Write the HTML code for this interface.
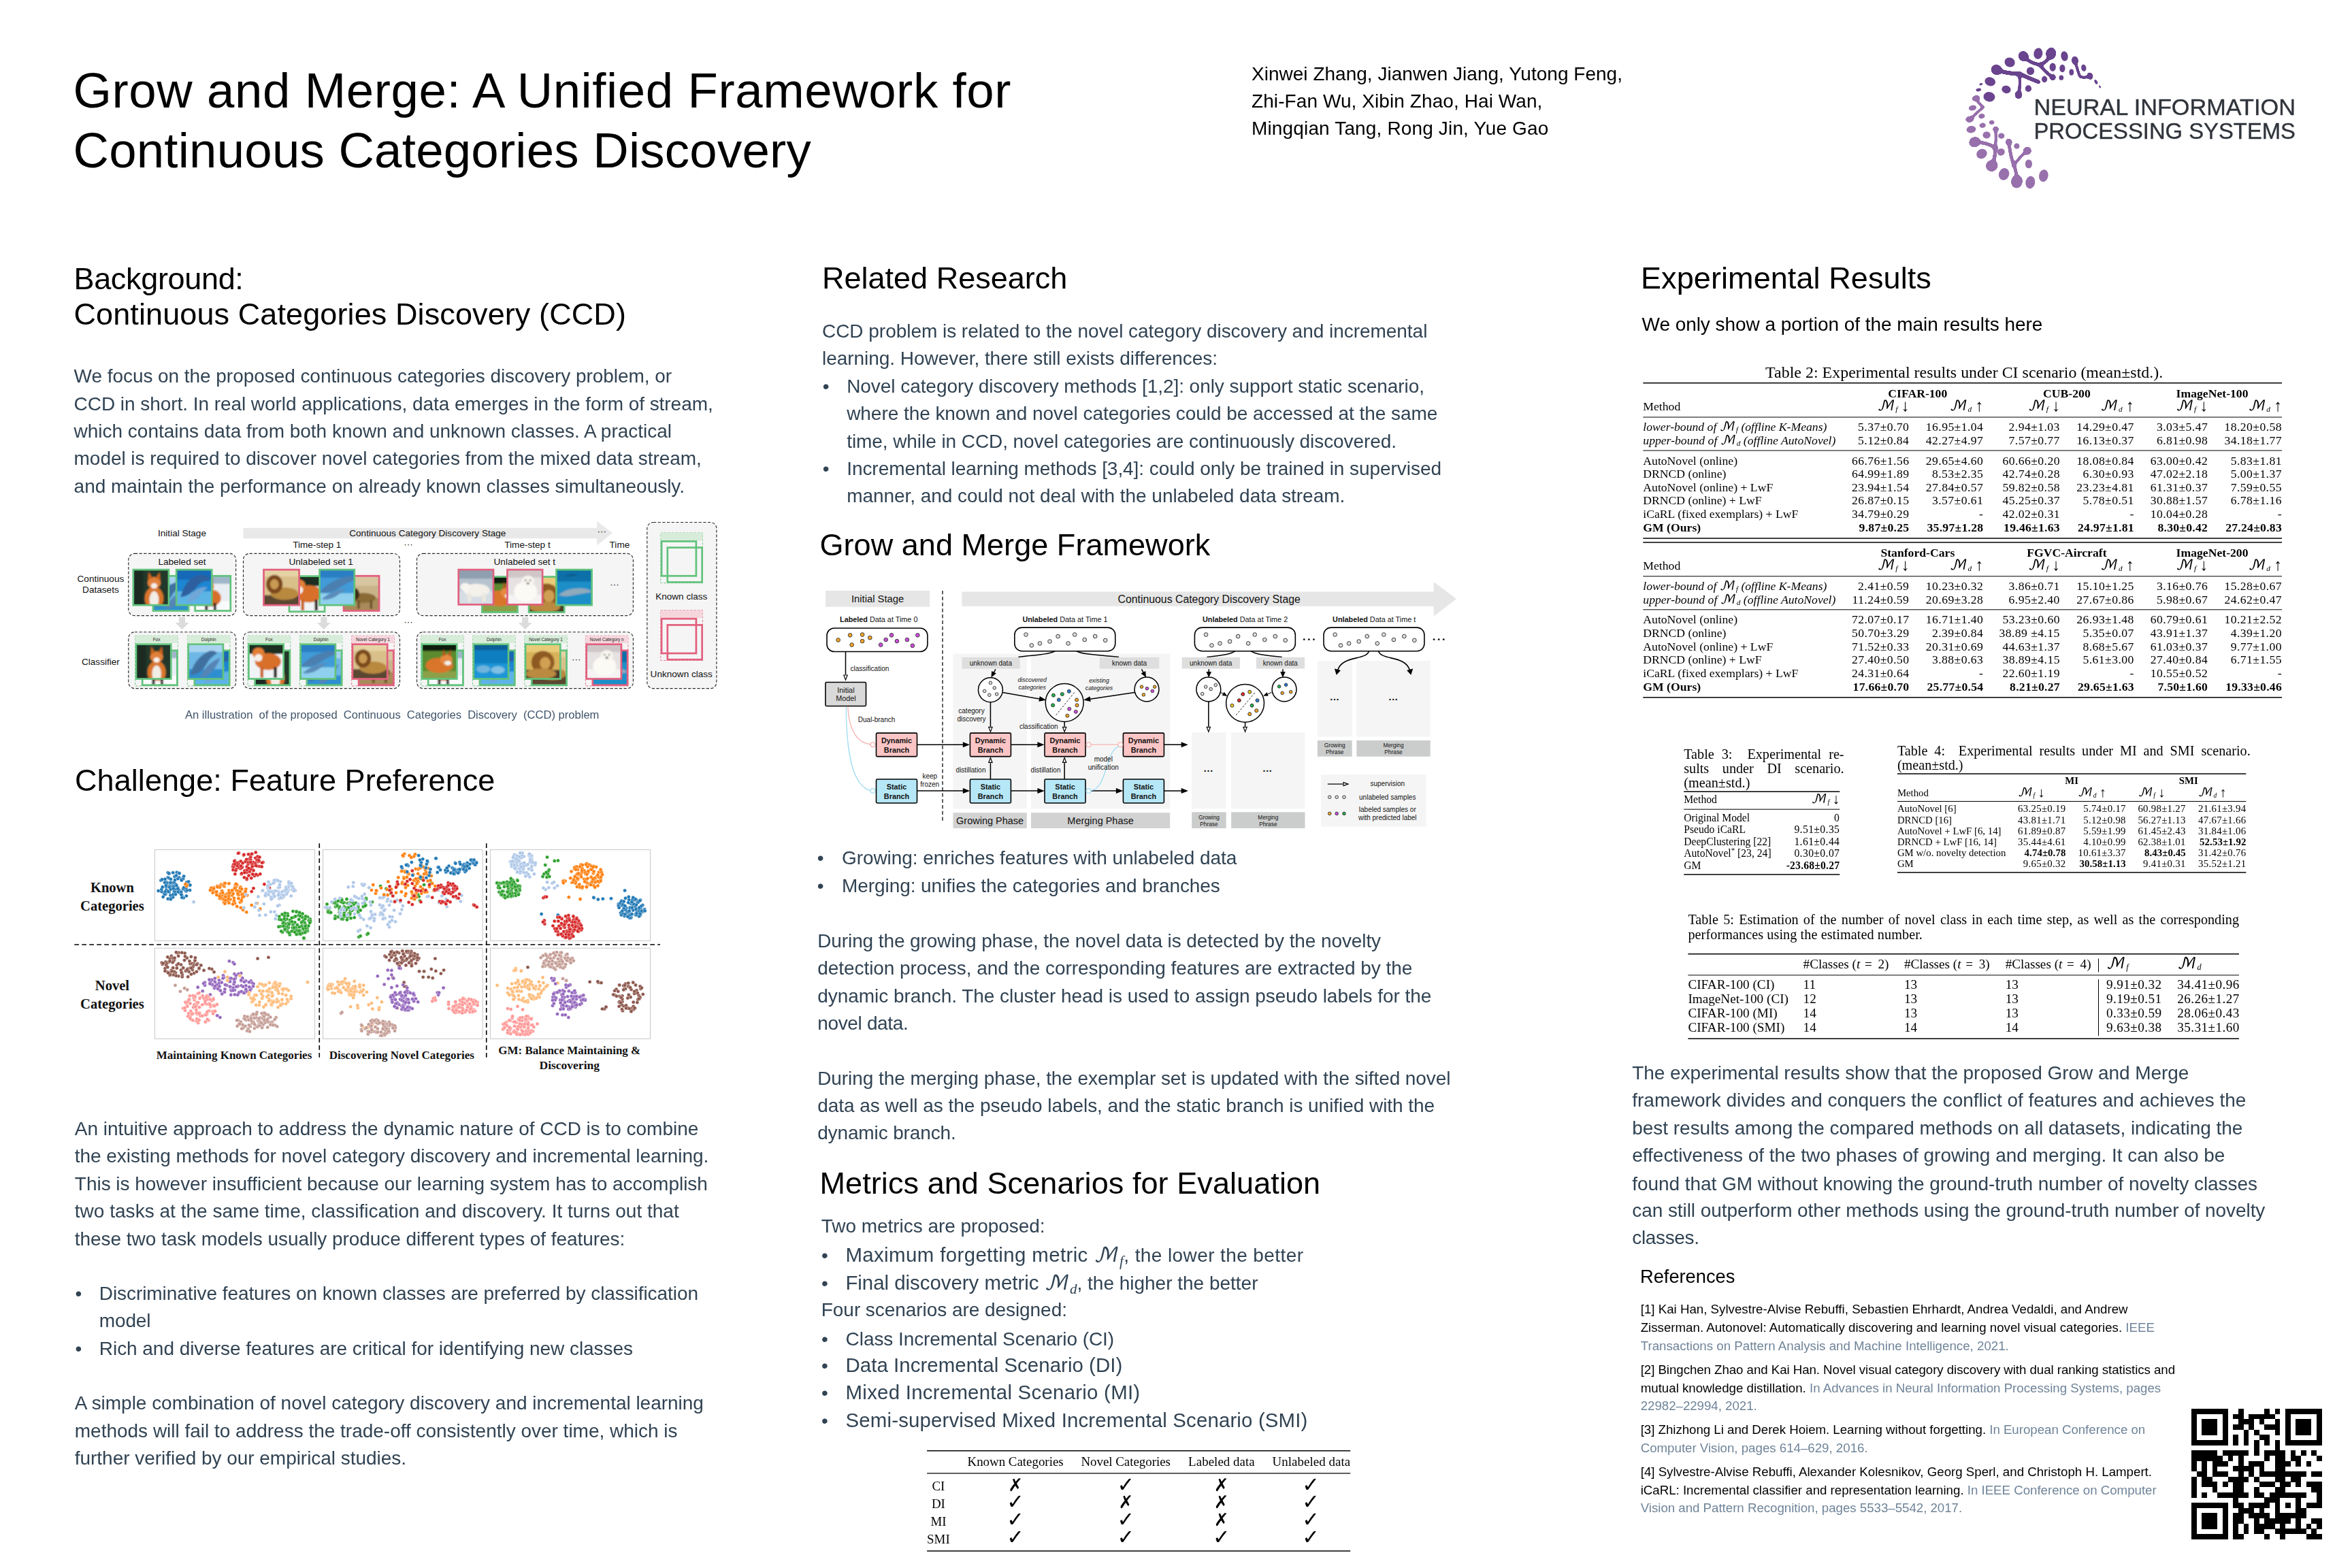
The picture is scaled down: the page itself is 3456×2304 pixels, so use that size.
<!DOCTYPE html>
<html lang="en"><head><meta charset="utf-8"><title>Grow and Merge: A Unified Framework for Continuous Categories Discovery</title>
<style>
html,body{margin:0;padding:0;background:#fff;width:3456px;height:2304px;overflow:hidden}
#pg{position:relative;width:3456px;height:2304px;overflow:hidden;background:#fff}
.t{position:absolute;white-space:pre;margin:0}
.mm{font-family:'DejaVu Math TeX Gyre','DejaVu Sans',serif;font-size:1.0em;line-height:0}
.ms{font-family:'Liberation Serif',serif;font-style:italic;font-size:.72em;line-height:0;vertical-align:-.28em}
.cm{font-family:'DejaVu Math TeX Gyre','DejaVu Sans',serif;font-size:1.16em;line-height:0;letter-spacing:.04em}
.cs{font-family:'Liberation Serif',serif;font-style:italic;font-size:.64em;line-height:0;vertical-align:-.2em}
.ar{line-height:0;font-size:1.38em;vertical-align:-.04em}
.r{position:absolute;background:#000}
sub,sup{line-height:0}
.c0{font-family:'Liberation Sans', sans-serif;font-size:72.6px;line-height:81px;color:#000}
.c1{font-family:'Liberation Sans', sans-serif;font-size:28px;line-height:31px;color:#000}
.c2{font-family:'Liberation Sans', sans-serif;font-size:45px;line-height:51px;color:#000}
.c3{font-family:'Liberation Sans', sans-serif;font-size:28px;line-height:31px;color:#314353}
.c4{font-family:'Liberation Sans', sans-serif;font-size:16.6px;line-height:19px;color:#40546a}
.c5{font-family:'Liberation Sans', sans-serif;font-size:29.4px;line-height:33px;color:#314353}
.c6{font-family:'Liberation Sans', sans-serif;font-size:27.3px;line-height:31px;color:#000}
.c7{font-family:'Liberation Sans', sans-serif;font-size:18.7px;line-height:21px;color:#000}
.c8{font-family:'Liberation Serif', serif;font-size:23.9px;line-height:26px;color:#000}
.c9{font-family:'Liberation Serif', serif;font-size:17.66px;line-height:20px;color:#000;font-weight:700}
.c10{font-family:'Liberation Serif', serif;font-size:17.66px;line-height:20px;color:#000}
.c11{font-family:'Liberation Serif', serif;font-size:17.66px;line-height:20px;color:#000;font-style:italic}
.c12{font-family:'Liberation Serif', serif;font-size:20.2px;line-height:22px;color:#000}
.c13{font-family:'Liberation Serif', serif;font-size:15.65px;line-height:17px;color:#000}
.c14{font-family:'Liberation Serif', serif;font-size:15.65px;line-height:17px;color:#000;font-weight:700}
.c15{font-family:'Liberation Serif', serif;font-size:14.8px;line-height:16px;color:#000;font-weight:700}
.c16{font-family:'Liberation Serif', serif;font-size:14.8px;line-height:16px;color:#000}
.c17{font-family:'Liberation Serif', serif;font-size:19.2px;line-height:21px;color:#000}
.c18{font-family:'Liberation Serif', serif;font-size:18.9px;line-height:21px;color:#000}
.c19{font-family:'DejaVu Sans', sans-serif;font-size:26px;line-height:30px;color:#000}
.c20{font-family:'DejaVu Sans', sans-serif;font-size:30.5px;line-height:35px;color:#000}
</style></head>
<body><div id="pg">
<svg style="position:absolute;left:2850px;top:40px" width="606" height="280" viewBox="0 0 2352 1087"><defs><filter id="goo" x="-5%" y="-5%" width="110%" height="110%" color-interpolation-filters="sRGB"><feGaussianBlur in="SourceGraphic" stdDeviation="7" result="b"/><feColorMatrix in="b" mode="matrix" values="1 0 0 0 0  0 1 0 0 0  0 0 1 0 0  0 0 0 14 -5"/></filter></defs><g fill="#6a448e"><ellipse cx="562" cy="150" rx="25" ry="32" transform="rotate(10 562 150)"/><ellipse cx="712" cy="165" rx="20" ry="28" transform="rotate(-10 712 165)"/><ellipse cx="400" cy="200" rx="30" ry="27" transform="rotate(20 400 200)"/><ellipse cx="288" cy="310" rx="31" ry="25" transform="rotate(15 288 310)"/><ellipse cx="283" cy="397" rx="33" ry="28" transform="rotate(10 283 397)"/><ellipse cx="380" cy="355" rx="26" ry="22" transform="rotate(15 380 355)"/><ellipse cx="518" cy="250" rx="22" ry="23" transform="rotate(0 518 250)"/><ellipse cx="506" cy="350" rx="18" ry="19" transform="rotate(0 506 350)"/><ellipse cx="598" cy="297" rx="16" ry="18" transform="rotate(0 598 297)"/><ellipse cx="645" cy="228" rx="18" ry="24" transform="rotate(0 645 228)"/><ellipse cx="700" cy="235" rx="16" ry="22" transform="rotate(0 700 235)"/><ellipse cx="694" cy="288" rx="13" ry="14" transform="rotate(0 694 288)"/><ellipse cx="752" cy="257" rx="13" ry="18" transform="rotate(0 752 257)"/><ellipse cx="822" cy="232" rx="14" ry="20" transform="rotate(-10 822 232)"/><ellipse cx="892" cy="312" rx="8" ry="14" transform="rotate(-25 892 312)"/><ellipse cx="914" cy="340" rx="5" ry="8" transform="rotate(-25 914 340)"/><ellipse cx="236" cy="325" rx="10" ry="6" transform="rotate(-15 236 325)"/><ellipse cx="222" cy="357" rx="15" ry="9" transform="rotate(-10 222 357)"/></g><g fill="#9870ac"><ellipse cx="188" cy="460" rx="22" ry="15" transform="rotate(-10 188 460)"/><ellipse cx="240" cy="507" rx="18" ry="14" transform="rotate(-10 240 507)"/><ellipse cx="297" cy="543" rx="15" ry="12" transform="rotate(-10 297 543)"/><ellipse cx="245" cy="560" rx="18" ry="14" transform="rotate(-10 245 560)"/><ellipse cx="180" cy="583" rx="27" ry="20" transform="rotate(-10 180 583)"/><ellipse cx="268" cy="615" rx="22" ry="20" transform="rotate(0 268 615)"/><ellipse cx="352" cy="620" rx="18" ry="16" transform="rotate(0 352 620)"/><ellipse cx="440" cy="678" rx="16" ry="16" transform="rotate(0 440 678)"/><ellipse cx="350" cy="712" rx="22" ry="20" transform="rotate(-20 350 712)"/><ellipse cx="240" cy="722" rx="31" ry="27" transform="rotate(-30 240 722)"/><ellipse cx="508" cy="780" rx="20" ry="25" transform="rotate(0 508 780)"/><ellipse cx="367" cy="838" rx="29" ry="35" transform="rotate(20 367 838)"/><ellipse cx="517" cy="885" rx="27" ry="36" transform="rotate(10 517 885)"/><ellipse cx="593" cy="847" rx="26" ry="35" transform="rotate(10 593 847)"/></g><g filter="url(#goo)"><g fill="#6a448e"><ellipse cx="635" cy="150" rx="28.000000000000004" ry="33.6" transform="rotate(10 635 150)"/><ellipse cx="478" cy="165" rx="29.120000000000005" ry="26.880000000000003" transform="rotate(30 478 165)"/><ellipse cx="325" cy="243" rx="31.360000000000003" ry="28.000000000000004" transform="rotate(20 325 243)"/><ellipse cx="772" cy="190" rx="17.92" ry="23.520000000000003" transform="rotate(-10 772 190)"/><ellipse cx="858" cy="278" rx="15.680000000000001" ry="20.160000000000004" transform="rotate(-20 858 278)"/><ellipse cx="450" cy="385" rx="20.160000000000004" ry="22.400000000000002" transform="rotate(0 450 385)"/><ellipse cx="645" cy="285" rx="16.8" ry="16.8" transform="rotate(0 645 285)"/></g><g fill="none" stroke="#6a448e" stroke-linecap="round" stroke-linejoin="round"><path d="M478 165 Q515 205 572 214 Q618 200 635 150" stroke-width="17"/><path d="M572 214 Q600 255 645 285" stroke-width="15"/><circle cx="575" cy="215" r="14" fill="#6a448e" stroke="none"/><path d="M325 243 Q395 268 452 264 Q505 290 565 312" stroke-width="20"/><path d="M455 270 Q462 330 450 385" stroke-width="14"/><circle cx="453" cy="268" r="16" fill="#6a448e" stroke="none"/><path d="M772 190 Q788 250 800 282 Q830 292 858 278" stroke-width="13"/></g></g><g filter="url(#goo)"><g fill="#9870ac"><ellipse cx="208" cy="405" rx="22.400000000000002" ry="15.680000000000001" transform="rotate(-10 208 405)"/><ellipse cx="172" cy="525" rx="23.520000000000003" ry="16.8" transform="rotate(-10 172 525)"/><ellipse cx="320" cy="582" rx="15.680000000000001" ry="15.680000000000001" transform="rotate(0 320 582)"/><ellipse cx="200" cy="655" rx="31.360000000000003" ry="28.000000000000004" transform="rotate(-20 200 655)"/><ellipse cx="395" cy="655" rx="17.92" ry="19.040000000000003" transform="rotate(0 395 655)"/><ellipse cx="500" cy="705" rx="22.400000000000002" ry="22.400000000000002" transform="rotate(0 500 705)"/><ellipse cx="298" cy="790" rx="33.6" ry="31.360000000000003" transform="rotate(-30 298 790)"/><ellipse cx="440" cy="880" rx="31.360000000000003" ry="36.96" transform="rotate(10 440 880)"/></g><g fill="none" stroke="#9870ac" stroke-linecap="round" stroke-linejoin="round"><path d="M208 405 Q222 438 250 455 Q222 478 172 525" stroke-width="13"/><path d="M200 655 Q270 655 318 688 Q318 745 298 790" stroke-width="18"/><path d="M320 582 Q322 640 318 690" stroke-width="13"/><circle cx="318" cy="690" r="15" fill="#9870ac" stroke="none"/><path d="M395 655 Q403 740 425 790 Q440 830 440 880" stroke-width="16"/><path d="M500 705 Q460 735 425 785" stroke-width="14"/><circle cx="424" cy="786" r="13" fill="#9870ac" stroke="none"/></g></g><g font-family="'Liberation Sans', sans-serif" font-size="128" fill="#30343b" stroke="#30343b" stroke-width="1.5"><text x="537" y="500" textLength="1493" lengthAdjust="spacingAndGlyphs">NEURAL INFORMATION</text><text x="537" y="638" textLength="1493" lengthAdjust="spacingAndGlyphs">PROCESSING SYSTEMS</text></g></svg>
<svg style="position:absolute;left:100px;top:760px" width="980" height="320" viewBox="0 0 2352 768" font-family="'Liberation Sans', sans-serif" fill="#111"><defs><filter id="pb" x="-10" y="-10" width="120" height="120" filterUnits="userSpaceOnUse"><feGaussianBlur stdDeviation="2.2"/></filter></defs><path d="M618 38 H1865 V14 L1920 56 L1865 99 V75 H618Z" fill="#e9e9e9"/><text x="402" y="67" font-size="32.6" text-anchor="middle">Initial Stage</text><text x="1268" y="67" font-size="32.6" text-anchor="middle">Continuous Category Discovery Stage</text><text x="1882" y="60" font-size="32.6" text-anchor="middle">···</text><text x="878" y="108" font-size="32.6" text-anchor="middle">Time-step 1</text><text x="1200" y="106" font-size="32.6" text-anchor="middle">···</text><text x="1620" y="108" font-size="32.6" text-anchor="middle">Time-step t</text><text x="1945" y="109" font-size="32.6" text-anchor="middle">Time</text><rect x="213" y="128" width="379" height="219" rx="22" fill="#f5f5f5" stroke="#2a2a2a" stroke-width="2.7" stroke-dasharray="10 6"/><rect x="618" y="128" width="552" height="219" rx="22" fill="#f5f5f5" stroke="#2a2a2a" stroke-width="2.7" stroke-dasharray="10 6"/><rect x="1230" y="128" width="763" height="219" rx="22" fill="#f5f5f5" stroke="#2a2a2a" stroke-width="2.7" stroke-dasharray="10 6"/><rect x="213" y="405" width="379" height="199" rx="22" fill="#f5f5f5" stroke="#2a2a2a" stroke-width="2.7" stroke-dasharray="10 6"/><rect x="618" y="405" width="552" height="199" rx="22" fill="#f5f5f5" stroke="#2a2a2a" stroke-width="2.7" stroke-dasharray="10 6"/><rect x="1230" y="405" width="763" height="199" rx="22" fill="#f5f5f5" stroke="#2a2a2a" stroke-width="2.7" stroke-dasharray="10 6"/><rect x="2042" y="18" width="245" height="586" rx="22" fill="#f5f5f5" stroke="#2a2a2a" stroke-width="2.7" stroke-dasharray="10 6"/><text x="402" y="168" font-size="32.6" text-anchor="middle">Labeled set</text><text x="892" y="168" font-size="32.6" text-anchor="middle">Unlabeled set 1</text><text x="1610" y="168" font-size="32.6" text-anchor="middle">Unlabeled set t</text><text x="115" y="228" font-size="32.6" text-anchor="middle">Continuous</text><text x="115" y="267" font-size="32.6" text-anchor="middle">Datasets</text><text x="115" y="520" font-size="32.6" text-anchor="middle">Classifier</text><svg x="300" y="207" width="125" height="123" viewBox="0 0 100 100" preserveAspectRatio="none"><g filter="url(#pb)"><g transform="translate(50 50) scale(1.1) translate(-50 -50)"><rect width="100" height="100" fill="#6db7e6"/><rect y="70" width="100" height="30" fill="#2f8fd0"/><rect width="100" height="25" fill="#a9d4f0"/><path d="M10 85 Q20 40 60 22 Q75 20 80 28 Q60 40 50 60 Q35 85 10 85Z" fill="#3f6fa0"/><path d="M35 92 Q50 55 88 40 Q80 60 70 72 Q55 92 35 92Z" fill="#5585b5"/></g></g></svg><rect x="300" y="207" width="125" height="123" fill="none" stroke="#62c27c" stroke-width="6.5"/><svg x="448" y="207" width="125" height="123" viewBox="0 0 100 100" preserveAspectRatio="none"><g filter="url(#pb)"><g transform="translate(50 50) scale(1.1) translate(-50 -50)"><rect width="100" height="100" fill="#e9eef4"/><rect y="70" width="100" height="30" fill="#f8fafc"/><rect width="100" height="25" fill="#9fb6c9"/><ellipse cx="45" cy="62" rx="26" ry="22" fill="#d8702a"/><ellipse cx="38" cy="32" rx="15" ry="14" fill="#e27f35"/><path d="M26 24 L28 6 L38 20Z M50 24 L50 6 L40 20Z" fill="#b8551a"/><ellipse cx="38" cy="40" rx="8" ry="6" fill="#f5f0ea"/><rect x="30" y="75" width="7" height="22" fill="#2a211c"/><rect x="52" y="75" width="7" height="22" fill="#2a211c"/></g></g></svg><rect x="448" y="207" width="125" height="123" fill="none" stroke="#62c27c" stroke-width="6.5"/><svg x="230" y="185" width="125" height="125" viewBox="0 0 100 100" preserveAspectRatio="none"><g filter="url(#pb)"><g transform="translate(50 50) scale(1.1) translate(-50 -50)"><rect width="100" height="100" fill="#22382a"/><rect x="0" y="0" width="30" height="100" fill="#1a2b20"/><ellipse cx="58" cy="78" rx="24" ry="30" fill="#d9762c"/><ellipse cx="58" cy="82" rx="12" ry="22" fill="#f2ede6"/><ellipse cx="58" cy="38" rx="17" ry="15" fill="#e0813a"/><path d="M42 32 L44 10 L54 26Z M74 32 L72 10 L62 26Z" fill="#c8641f"/><ellipse cx="58" cy="46" rx="8" ry="7" fill="#f6f1ea"/></g></g></svg><rect x="230" y="185" width="125" height="125" fill="none" stroke="#62c27c" stroke-width="6.5"/><svg x="382" y="185" width="125" height="125" viewBox="0 0 100 100" preserveAspectRatio="none"><g filter="url(#pb)"><g transform="translate(50 50) scale(1.1) translate(-50 -50)"><rect width="100" height="100" fill="#1f86d2"/><rect y="60" width="100" height="40" fill="#5cb4e6"/><rect width="100" height="30" fill="#1669b8"/><path d="M15 75 Q30 20 70 18 Q88 20 92 34 Q70 30 55 50 Q40 72 15 75Z" fill="#2d5f9e"/><path d="M30 88 Q50 45 85 50 Q70 60 60 75 Q48 90 30 88Z" fill="#6fa6d8"/></g></g></svg><rect x="382" y="185" width="125" height="125" fill="none" stroke="#62c27c" stroke-width="6.5"/><svg x="780" y="208" width="125" height="125" viewBox="0 0 100 100" preserveAspectRatio="none"><g filter="url(#pb)"><g transform="translate(50 50) scale(1.1) translate(-50 -50)"><rect width="100" height="100" fill="#f1f4f7"/><rect width="100" height="30" fill="#1f2e23"/><ellipse cx="55" cy="50" rx="34" ry="22" fill="#d8702a"/><ellipse cx="30" cy="28" rx="16" ry="15" fill="#e27f35"/><ellipse cx="30" cy="40" rx="10" ry="10" fill="#f5f0ea"/><rect x="35" y="65" width="8" height="28" fill="#c9601f"/><rect x="70" y="65" width="8" height="28" fill="#2a211c"/></g></g></svg><rect x="780" y="208" width="125" height="125" fill="none" stroke="#62c27c" stroke-width="6.5"/><svg x="972" y="207" width="125" height="123" viewBox="0 0 100 100" preserveAspectRatio="none"><g filter="url(#pb)"><g transform="translate(50 50) scale(1.1) translate(-50 -50)"><rect width="100" height="100" fill="#c9b48a"/><rect y="62" width="100" height="38" fill="#a98a5a"/><rect width="100" height="30" fill="#d8c6a0"/><ellipse cx="55" cy="62" rx="32" ry="13" fill="#8a6a35"/><ellipse cx="30" cy="52" rx="15" ry="17" fill="#3d2a17"/><rect x="40" y="68" width="6" height="22" fill="#6b4f28"/><rect x="72" y="68" width="6" height="22" fill="#6b4f28"/></g></g></svg><rect x="972" y="207" width="125" height="123" fill="none" stroke="#e2607f" stroke-width="6.5"/><svg x="690" y="185" width="125" height="125" viewBox="0 0 100 100" preserveAspectRatio="none"><g filter="url(#pb)"><g transform="translate(50 50) scale(1.1) translate(-50 -50)"><rect width="100" height="100" fill="#d9c08a"/><rect y="70" width="100" height="30" fill="#5a4630"/><rect width="100" height="22" fill="#e6d3a5"/><ellipse cx="58" cy="66" rx="36" ry="16" fill="#b9893f"/><ellipse cx="32" cy="42" rx="21" ry="24" fill="#7b4a1f"/><ellipse cx="32" cy="42" rx="11" ry="13" fill="#c99a52"/></g></g></svg><rect x="690" y="185" width="125" height="125" fill="none" stroke="#e2607f" stroke-width="6.5"/><svg x="887" y="185" width="123" height="125" viewBox="0 0 100 100" preserveAspectRatio="none"><g filter="url(#pb)"><g transform="translate(50 50) scale(1.1) translate(-50 -50)"><rect width="100" height="100" fill="#3f9bd8"/><rect y="65" width="100" height="35" fill="#8fd0ee"/><rect width="100" height="25" fill="#2a7fc4"/><path d="M5 62 Q35 28 80 22 Q96 22 98 30 Q75 38 55 52 Q30 68 5 62Z" fill="#4b7fb0"/><path d="M10 80 Q40 55 75 52 Q60 66 45 74 Q25 84 10 80Z" fill="#5a8cba"/></g></g></svg><rect x="887" y="185" width="123" height="125" fill="none" stroke="#62c27c" stroke-width="6.5"/><svg x="1460" y="210" width="125" height="125" viewBox="0 0 100 100" preserveAspectRatio="none"><g filter="url(#pb)"><g transform="translate(50 50) scale(1.1) translate(-50 -50)"><rect width="100" height="100" fill="#5c8a2f"/><rect width="100" height="22" fill="#0f1a10"/><rect y="75" width="100" height="25" fill="#8aa04a"/><ellipse cx="50" cy="60" rx="36" ry="20" fill="#d9742b"/><ellipse cx="68" cy="45" rx="16" ry="14" fill="#e58a3f"/><path d="M58 36 L60 18 L68 32Z M80 36 L80 18 L72 32Z" fill="#b8551a"/><ellipse cx="72" cy="54" rx="9" ry="6" fill="#f5f0ea"/></g></g></svg><rect x="1460" y="210" width="125" height="125" fill="none" stroke="#62c27c" stroke-width="6.5"/><svg x="1625" y="210" width="125" height="125" viewBox="0 0 100 100" preserveAspectRatio="none"><g filter="url(#pb)"><g transform="translate(50 50) scale(1.1) translate(-50 -50)"><rect width="100" height="100" fill="#d8b25a"/><rect y="72" width="100" height="28" fill="#4a3a2a"/><rect width="100" height="25" fill="#e8cc7a"/><ellipse cx="50" cy="52" rx="30" ry="30" fill="#8f5a22"/><ellipse cx="56" cy="54" rx="14" ry="16" fill="#d0a052"/><ellipse cx="45" cy="82" rx="40" ry="14" fill="#b98a40"/></g></g></svg><rect x="1625" y="210" width="125" height="125" fill="none" stroke="#62c27c" stroke-width="6.5"/><svg x="1377" y="185" width="123" height="123" viewBox="0 0 100 100" preserveAspectRatio="none"><g filter="url(#pb)"><g transform="translate(50 50) scale(1.1) translate(-50 -50)"><rect width="100" height="100" fill="#b7c3cf"/><rect y="60" width="100" height="40" fill="#d6dde4"/><rect width="100" height="28" fill="#8f9fb0"/><ellipse cx="52" cy="58" rx="34" ry="17" fill="#f3f1ea"/><ellipse cx="22" cy="50" rx="13" ry="11" fill="#f7f5ee"/><rect x="28" y="66" width="10" height="22" fill="#ebe8df"/><rect x="66" y="66" width="10" height="22" fill="#ebe8df"/></g></g></svg><rect x="1377" y="185" width="123" height="123" fill="none" stroke="#e2607f" stroke-width="6.5"/><svg x="1549" y="185" width="124" height="123" viewBox="0 0 100 100" preserveAspectRatio="none"><g filter="url(#pb)"><g transform="translate(50 50) scale(1.1) translate(-50 -50)"><rect width="100" height="100" fill="#e6e2e2"/><rect y="70" width="100" height="30" fill="#f4f2f2"/><rect width="100" height="25" fill="#cfc6c8"/><ellipse cx="52" cy="62" rx="30" ry="26" fill="#fbfaf5"/><ellipse cx="58" cy="34" rx="16" ry="14" fill="#f7f5ee"/><circle cx="52" cy="32" r="2" fill="#222"/><circle cx="64" cy="32" r="2" fill="#222"/><ellipse cx="58" cy="40" rx="3" ry="2.5" fill="#222"/></g></g></svg><rect x="1549" y="185" width="124" height="123" fill="none" stroke="#e2607f" stroke-width="6.5"/><svg x="1722" y="185" width="125" height="125" viewBox="0 0 100 100" preserveAspectRatio="none"><g filter="url(#pb)"><g transform="translate(50 50) scale(1.1) translate(-50 -50)"><rect width="100" height="100" fill="#1b8fc9"/><rect width="100" height="35" fill="#0f6fa8"/><path d="M10 70 Q30 50 70 52 Q92 54 96 62 Q70 66 50 70 Q28 76 10 70Z" fill="#8fa9bd"/><path d="M25 22 Q40 12 60 18 Q45 22 25 22Z" fill="#0c5a8a"/></g></g></svg><rect x="1722" y="185" width="125" height="125" fill="none" stroke="#62c27c" stroke-width="6.5"/><text x="1927" y="246" font-size="32.6" text-anchor="middle">···</text><path d="M391 352 H413 V372 H426 L402 396 L378 372 H391Z" fill="#dcdcdc"/><path d="M891 352 H913 V372 H926 L902 396 L878 372 H891Z" fill="#dcdcdc"/><path d="M1601 352 H1623 V372 H1636 L1612 396 L1588 372 H1601Z" fill="#dcdcdc"/><text x="1200" y="380" font-size="32.6" text-anchor="middle">···</text><rect x="237" y="418" width="150" height="177" fill="none" stroke="#62c27c" stroke-width="2.3" stroke-dasharray="8 5" opacity=".9"/><rect x="237" y="418" width="150" height="26" fill="#d7ecd9"/><text x="312" y="437" font-size="15.5" text-anchor="middle" fill="#222">Fox</text><svg x="262" y="470" width="123" height="122" viewBox="0 0 100 100" preserveAspectRatio="none"><g filter="url(#pb)"><g transform="translate(50 50) scale(1.1) translate(-50 -50)"><rect width="100" height="100" fill="#e9eef4"/><rect y="70" width="100" height="30" fill="#f8fafc"/><rect width="100" height="25" fill="#9fb6c9"/><ellipse cx="45" cy="62" rx="26" ry="22" fill="#d8702a"/><ellipse cx="38" cy="32" rx="15" ry="14" fill="#e27f35"/><path d="M26 24 L28 6 L38 20Z M50 24 L50 6 L40 20Z" fill="#b8551a"/><ellipse cx="38" cy="40" rx="8" ry="6" fill="#f5f0ea"/><rect x="30" y="75" width="7" height="22" fill="#2a211c"/><rect x="52" y="75" width="7" height="22" fill="#2a211c"/></g></g></svg><rect x="262" y="470" width="123" height="122" fill="none" stroke="#62c27c" stroke-width="6.5"/><svg x="240" y="448" width="123" height="122" viewBox="0 0 100 100" preserveAspectRatio="none"><g filter="url(#pb)"><g transform="translate(50 50) scale(1.1) translate(-50 -50)"><rect width="100" height="100" fill="#22382a"/><rect x="0" y="0" width="30" height="100" fill="#1a2b20"/><ellipse cx="58" cy="78" rx="24" ry="30" fill="#d9762c"/><ellipse cx="58" cy="82" rx="12" ry="22" fill="#f2ede6"/><ellipse cx="58" cy="38" rx="17" ry="15" fill="#e0813a"/><path d="M42 32 L44 10 L54 26Z M74 32 L72 10 L62 26Z" fill="#c8641f"/><ellipse cx="58" cy="46" rx="8" ry="7" fill="#f6f1ea"/></g></g></svg><rect x="240" y="448" width="123" height="122" fill="none" stroke="#62c27c" stroke-width="6.5"/><rect x="421" y="418" width="150" height="177" fill="none" stroke="#62c27c" stroke-width="2.3" stroke-dasharray="8 5" opacity=".9"/><rect x="421" y="418" width="150" height="26" fill="#d7ecd9"/><text x="496" y="437" font-size="15.5" text-anchor="middle" fill="#222">Dolphin</text><svg x="446" y="470" width="123" height="122" viewBox="0 0 100 100" preserveAspectRatio="none"><g filter="url(#pb)"><g transform="translate(50 50) scale(1.1) translate(-50 -50)"><rect width="100" height="100" fill="#1f86d2"/><rect y="60" width="100" height="40" fill="#5cb4e6"/><rect width="100" height="30" fill="#1669b8"/><path d="M15 75 Q30 20 70 18 Q88 20 92 34 Q70 30 55 50 Q40 72 15 75Z" fill="#2d5f9e"/><path d="M30 88 Q50 45 85 50 Q70 60 60 75 Q48 90 30 88Z" fill="#6fa6d8"/></g></g></svg><rect x="446" y="470" width="123" height="122" fill="none" stroke="#62c27c" stroke-width="6.5"/><svg x="424" y="448" width="123" height="122" viewBox="0 0 100 100" preserveAspectRatio="none"><g filter="url(#pb)"><g transform="translate(50 50) scale(1.1) translate(-50 -50)"><rect width="100" height="100" fill="#6db7e6"/><rect y="70" width="100" height="30" fill="#2f8fd0"/><rect width="100" height="25" fill="#a9d4f0"/><path d="M10 85 Q20 40 60 22 Q75 20 80 28 Q60 40 50 60 Q35 85 10 85Z" fill="#3f6fa0"/><path d="M35 92 Q50 55 88 40 Q80 60 70 72 Q55 92 35 92Z" fill="#5585b5"/></g></g></svg><rect x="424" y="448" width="123" height="122" fill="none" stroke="#62c27c" stroke-width="6.5"/><rect x="634" y="418" width="150" height="177" fill="none" stroke="#62c27c" stroke-width="2.3" stroke-dasharray="8 5" opacity=".9"/><rect x="634" y="418" width="150" height="26" fill="#d7ecd9"/><text x="709" y="437" font-size="15.5" text-anchor="middle" fill="#222">Fox</text><svg x="659" y="470" width="123" height="122" viewBox="0 0 100 100" preserveAspectRatio="none"><g filter="url(#pb)"><g transform="translate(50 50) scale(1.1) translate(-50 -50)"><rect width="100" height="100" fill="#22382a"/><rect x="0" y="0" width="30" height="100" fill="#1a2b20"/><ellipse cx="58" cy="78" rx="24" ry="30" fill="#d9762c"/><ellipse cx="58" cy="82" rx="12" ry="22" fill="#f2ede6"/><ellipse cx="58" cy="38" rx="17" ry="15" fill="#e0813a"/><path d="M42 32 L44 10 L54 26Z M74 32 L72 10 L62 26Z" fill="#c8641f"/><ellipse cx="58" cy="46" rx="8" ry="7" fill="#f6f1ea"/></g></g></svg><rect x="659" y="470" width="123" height="122" fill="none" stroke="#62c27c" stroke-width="6.5"/><svg x="637" y="448" width="123" height="122" viewBox="0 0 100 100" preserveAspectRatio="none"><g filter="url(#pb)"><g transform="translate(50 50) scale(1.1) translate(-50 -50)"><rect width="100" height="100" fill="#f1f4f7"/><rect width="100" height="30" fill="#1f2e23"/><ellipse cx="55" cy="50" rx="34" ry="22" fill="#d8702a"/><ellipse cx="30" cy="28" rx="16" ry="15" fill="#e27f35"/><ellipse cx="30" cy="40" rx="10" ry="10" fill="#f5f0ea"/><rect x="35" y="65" width="8" height="28" fill="#c9601f"/><rect x="70" y="65" width="8" height="28" fill="#2a211c"/></g></g></svg><rect x="637" y="448" width="123" height="122" fill="none" stroke="#62c27c" stroke-width="6.5"/><rect x="817" y="418" width="150" height="177" fill="none" stroke="#62c27c" stroke-width="2.3" stroke-dasharray="8 5" opacity=".9"/><rect x="817" y="418" width="150" height="26" fill="#d7ecd9"/><text x="892" y="437" font-size="15.5" text-anchor="middle" fill="#222">Dolphin</text><svg x="842" y="470" width="123" height="122" viewBox="0 0 100 100" preserveAspectRatio="none"><g filter="url(#pb)"><g transform="translate(50 50) scale(1.1) translate(-50 -50)"><rect width="100" height="100" fill="#6db7e6"/><rect y="70" width="100" height="30" fill="#2f8fd0"/><rect width="100" height="25" fill="#a9d4f0"/><path d="M10 85 Q20 40 60 22 Q75 20 80 28 Q60 40 50 60 Q35 85 10 85Z" fill="#3f6fa0"/><path d="M35 92 Q50 55 88 40 Q80 60 70 72 Q55 92 35 92Z" fill="#5585b5"/></g></g></svg><rect x="842" y="470" width="123" height="122" fill="none" stroke="#62c27c" stroke-width="6.5"/><svg x="820" y="448" width="123" height="122" viewBox="0 0 100 100" preserveAspectRatio="none"><g filter="url(#pb)"><g transform="translate(50 50) scale(1.1) translate(-50 -50)"><rect width="100" height="100" fill="#3f9bd8"/><rect y="65" width="100" height="35" fill="#8fd0ee"/><rect width="100" height="25" fill="#2a7fc4"/><path d="M5 62 Q35 28 80 22 Q96 22 98 30 Q75 38 55 52 Q30 68 5 62Z" fill="#4b7fb0"/><path d="M10 80 Q40 55 75 52 Q60 66 45 74 Q25 84 10 80Z" fill="#5a8cba"/></g></g></svg><rect x="820" y="448" width="123" height="122" fill="none" stroke="#62c27c" stroke-width="6.5"/><rect x="1000" y="418" width="150" height="177" fill="none" stroke="#e2607f" stroke-width="2.3" stroke-dasharray="8 5" opacity=".9"/><rect x="1000" y="418" width="150" height="26" fill="#f6d6dd"/><text x="1075" y="437" font-size="15.5" text-anchor="middle" fill="#222">Novel Category 1</text><svg x="1025" y="470" width="123" height="122" viewBox="0 0 100 100" preserveAspectRatio="none"><g filter="url(#pb)"><g transform="translate(50 50) scale(1.1) translate(-50 -50)"><rect width="100" height="100" fill="#c9b48a"/><rect y="62" width="100" height="38" fill="#a98a5a"/><rect width="100" height="30" fill="#d8c6a0"/><ellipse cx="55" cy="62" rx="32" ry="13" fill="#8a6a35"/><ellipse cx="30" cy="52" rx="15" ry="17" fill="#3d2a17"/><rect x="40" y="68" width="6" height="22" fill="#6b4f28"/><rect x="72" y="68" width="6" height="22" fill="#6b4f28"/></g></g></svg><rect x="1025" y="470" width="123" height="122" fill="none" stroke="#e2607f" stroke-width="6.5"/><svg x="1003" y="448" width="123" height="122" viewBox="0 0 100 100" preserveAspectRatio="none"><g filter="url(#pb)"><g transform="translate(50 50) scale(1.1) translate(-50 -50)"><rect width="100" height="100" fill="#d9c08a"/><rect y="70" width="100" height="30" fill="#5a4630"/><rect width="100" height="22" fill="#e6d3a5"/><ellipse cx="58" cy="66" rx="36" ry="16" fill="#b9893f"/><ellipse cx="32" cy="42" rx="21" ry="24" fill="#7b4a1f"/><ellipse cx="32" cy="42" rx="11" ry="13" fill="#c99a52"/></g></g></svg><rect x="1003" y="448" width="123" height="122" fill="none" stroke="#e2607f" stroke-width="6.5"/><rect x="1245" y="418" width="150" height="177" fill="none" stroke="#62c27c" stroke-width="2.3" stroke-dasharray="8 5" opacity=".9"/><rect x="1245" y="418" width="150" height="26" fill="#d7ecd9"/><text x="1320" y="437" font-size="15.5" text-anchor="middle" fill="#222">Fox</text><svg x="1270" y="470" width="123" height="122" viewBox="0 0 100 100" preserveAspectRatio="none"><g filter="url(#pb)"><g transform="translate(50 50) scale(1.1) translate(-50 -50)"><rect width="100" height="100" fill="#e9eef4"/><rect y="70" width="100" height="30" fill="#f8fafc"/><rect width="100" height="25" fill="#9fb6c9"/><ellipse cx="45" cy="62" rx="26" ry="22" fill="#d8702a"/><ellipse cx="38" cy="32" rx="15" ry="14" fill="#e27f35"/><path d="M26 24 L28 6 L38 20Z M50 24 L50 6 L40 20Z" fill="#b8551a"/><ellipse cx="38" cy="40" rx="8" ry="6" fill="#f5f0ea"/><rect x="30" y="75" width="7" height="22" fill="#2a211c"/><rect x="52" y="75" width="7" height="22" fill="#2a211c"/></g></g></svg><rect x="1270" y="470" width="123" height="122" fill="none" stroke="#62c27c" stroke-width="6.5"/><svg x="1248" y="448" width="123" height="122" viewBox="0 0 100 100" preserveAspectRatio="none"><g filter="url(#pb)"><g transform="translate(50 50) scale(1.1) translate(-50 -50)"><rect width="100" height="100" fill="#5c8a2f"/><rect width="100" height="22" fill="#0f1a10"/><rect y="75" width="100" height="25" fill="#8aa04a"/><ellipse cx="50" cy="60" rx="36" ry="20" fill="#d9742b"/><ellipse cx="68" cy="45" rx="16" ry="14" fill="#e58a3f"/><path d="M58 36 L60 18 L68 32Z M80 36 L80 18 L72 32Z" fill="#b8551a"/><ellipse cx="72" cy="54" rx="9" ry="6" fill="#f5f0ea"/></g></g></svg><rect x="1248" y="448" width="123" height="122" fill="none" stroke="#62c27c" stroke-width="6.5"/><rect x="1427" y="418" width="150" height="177" fill="none" stroke="#62c27c" stroke-width="2.3" stroke-dasharray="8 5" opacity=".9"/><rect x="1427" y="418" width="150" height="26" fill="#d7ecd9"/><text x="1502" y="437" font-size="15.5" text-anchor="middle" fill="#222">Dolphin</text><svg x="1452" y="470" width="123" height="122" viewBox="0 0 100 100" preserveAspectRatio="none"><g filter="url(#pb)"><g transform="translate(50 50) scale(1.1) translate(-50 -50)"><rect width="100" height="100" fill="#1f86d2"/><rect y="60" width="100" height="40" fill="#5cb4e6"/><rect width="100" height="30" fill="#1669b8"/><path d="M15 75 Q30 20 70 18 Q88 20 92 34 Q70 30 55 50 Q40 72 15 75Z" fill="#2d5f9e"/><path d="M30 88 Q50 45 85 50 Q70 60 60 75 Q48 90 30 88Z" fill="#6fa6d8"/></g></g></svg><rect x="1452" y="470" width="123" height="122" fill="none" stroke="#62c27c" stroke-width="6.5"/><svg x="1430" y="448" width="123" height="122" viewBox="0 0 100 100" preserveAspectRatio="none"><g filter="url(#pb)"><g transform="translate(50 50) scale(1.1) translate(-50 -50)"><rect width="100" height="100" fill="#0f7fc0"/><rect y="55" width="100" height="45" fill="#1a96d6"/><ellipse cx="30" cy="70" rx="18" ry="10" fill="#6fb4dc"/><ellipse cx="68" cy="72" rx="18" ry="10" fill="#7fc0e4"/><rect width="100" height="20" fill="#0a5e98"/></g></g></svg><rect x="1430" y="448" width="123" height="122" fill="none" stroke="#62c27c" stroke-width="6.5"/><rect x="1610" y="418" width="150" height="177" fill="none" stroke="#62c27c" stroke-width="2.3" stroke-dasharray="8 5" opacity=".9"/><rect x="1610" y="418" width="150" height="26" fill="#d7ecd9"/><text x="1685" y="437" font-size="15.5" text-anchor="middle" fill="#222">Novel Category 1</text><svg x="1635" y="470" width="123" height="122" viewBox="0 0 100 100" preserveAspectRatio="none"><g filter="url(#pb)"><g transform="translate(50 50) scale(1.1) translate(-50 -50)"><rect width="100" height="100" fill="#d9c08a"/><rect y="70" width="100" height="30" fill="#5a4630"/><rect width="100" height="22" fill="#e6d3a5"/><ellipse cx="58" cy="66" rx="36" ry="16" fill="#b9893f"/><ellipse cx="32" cy="42" rx="21" ry="24" fill="#7b4a1f"/><ellipse cx="32" cy="42" rx="11" ry="13" fill="#c99a52"/></g></g></svg><rect x="1635" y="470" width="123" height="122" fill="none" stroke="#62c27c" stroke-width="6.5"/><svg x="1613" y="448" width="123" height="122" viewBox="0 0 100 100" preserveAspectRatio="none"><g filter="url(#pb)"><g transform="translate(50 50) scale(1.1) translate(-50 -50)"><rect width="100" height="100" fill="#d8b25a"/><rect y="72" width="100" height="28" fill="#4a3a2a"/><rect width="100" height="25" fill="#e8cc7a"/><ellipse cx="50" cy="52" rx="30" ry="30" fill="#8f5a22"/><ellipse cx="56" cy="54" rx="14" ry="16" fill="#d0a052"/><ellipse cx="45" cy="82" rx="40" ry="14" fill="#b98a40"/></g></g></svg><rect x="1613" y="448" width="123" height="122" fill="none" stroke="#62c27c" stroke-width="6.5"/><text x="1792" y="512" font-size="32.6" text-anchor="middle">···</text><rect x="1825" y="418" width="150" height="177" fill="none" stroke="#e2607f" stroke-width="2.3" stroke-dasharray="8 5" opacity=".9"/><rect x="1825" y="418" width="150" height="26" fill="#f6d6dd"/><text x="1900" y="437" font-size="15.5" text-anchor="middle" fill="#222">Novel Category n</text><svg x="1850" y="470" width="123" height="122" viewBox="0 0 100 100" preserveAspectRatio="none"><g filter="url(#pb)"><g transform="translate(50 50) scale(1.1) translate(-50 -50)"><rect width="100" height="100" fill="#1b8fc9"/><rect width="100" height="35" fill="#0f6fa8"/><path d="M10 70 Q30 50 70 52 Q92 54 96 62 Q70 66 50 70 Q28 76 10 70Z" fill="#8fa9bd"/><path d="M25 22 Q40 12 60 18 Q45 22 25 22Z" fill="#0c5a8a"/></g></g></svg><rect x="1850" y="470" width="123" height="122" fill="none" stroke="#e2607f" stroke-width="6.5"/><svg x="1828" y="448" width="123" height="122" viewBox="0 0 100 100" preserveAspectRatio="none"><g filter="url(#pb)"><g transform="translate(50 50) scale(1.1) translate(-50 -50)"><rect width="100" height="100" fill="#e6e2e2"/><rect y="70" width="100" height="30" fill="#f4f2f2"/><rect width="100" height="25" fill="#cfc6c8"/><ellipse cx="52" cy="62" rx="30" ry="26" fill="#fbfaf5"/><ellipse cx="58" cy="34" rx="16" ry="14" fill="#f7f5ee"/><circle cx="52" cy="32" r="2" fill="#222"/><circle cx="64" cy="32" r="2" fill="#222"/><ellipse cx="58" cy="40" rx="3" ry="2.5" fill="#222"/></g></g></svg><rect x="1828" y="448" width="123" height="122" fill="none" stroke="#e2607f" stroke-width="6.5"/><rect x="2090" y="55" width="148" height="177" fill="none" stroke="#62c27c" stroke-width="2.3" stroke-dasharray="8 5" opacity=".9"/><rect x="2090" y="55" width="148" height="27" fill="#d7ecd9"/><rect x="2114" y="107" width="122" height="122" fill="none" stroke="#62c27c" stroke-width="6.5"/><rect x="2093" y="85" width="122" height="122" fill="#f5f5f5" fill-opacity="0" stroke="#62c27c" stroke-width="6.5"/><text x="2163" y="290" font-size="32.6" text-anchor="middle">Known class</text><rect x="2090" y="328" width="148" height="177" fill="none" stroke="#e2607f" stroke-width="2.3" stroke-dasharray="8 5" opacity=".9"/><rect x="2090" y="328" width="148" height="27" fill="#f6d6dd"/><rect x="2114" y="380" width="122" height="122" fill="none" stroke="#e2607f" stroke-width="6.5"/><rect x="2093" y="358" width="122" height="122" fill="#f5f5f5" fill-opacity="0" stroke="#e2607f" stroke-width="6.5"/><text x="2163" y="563" font-size="32.6" text-anchor="middle">Unknown class</text></svg>
<svg style="position:absolute;left:60px;top:1100px" width="1100" height="540" viewBox="0 0 2352 1155" font-family="'Liberation Serif', serif" fill="#111"><rect x="358" y="318" width="503" height="286" fill="#fff" stroke="#b5b5b5" stroke-width="1.6"/><rect x="886" y="318" width="502" height="286" fill="#fff" stroke="#b5b5b5" stroke-width="1.6"/><rect x="1412" y="318" width="503" height="286" fill="#fff" stroke="#b5b5b5" stroke-width="1.6"/><rect x="358" y="627" width="503" height="285" fill="#fff" stroke="#b5b5b5" stroke-width="1.6"/><rect x="886" y="627" width="502" height="285" fill="#fff" stroke="#b5b5b5" stroke-width="1.6"/><rect x="1412" y="627" width="503" height="285" fill="#fff" stroke="#b5b5b5" stroke-width="1.6"/><g stroke="#000" stroke-width="3.4" stroke-dasharray="14.5 9"><line x1="875" y1="298" x2="875" y2="975"/><line x1="1400" y1="298" x2="1400" y2="975"/><line x1="105" y1="616" x2="1946" y2="616"/></g><g fill="#1f77b4" stroke="#fff" stroke-width="0.8"><circle cx="436" cy="453" r="5.4"/><circle cx="456" cy="448" r="5.4"/><circle cx="392" cy="457" r="5.4"/><circle cx="405" cy="431" r="5.4"/><circle cx="409" cy="436" r="5.4"/><circle cx="430" cy="439" r="5.4"/><circle cx="434" cy="405" r="5.4"/><circle cx="421" cy="448" r="5.4"/><circle cx="458" cy="420" r="5.4"/><circle cx="386" cy="453" r="5.4"/><circle cx="468" cy="445" r="5.4"/><circle cx="406" cy="473" r="5.4"/><circle cx="433" cy="444" r="5.4"/><circle cx="430" cy="409" r="5.4"/><circle cx="398" cy="422" r="5.4"/><circle cx="389" cy="458" r="5.4"/><circle cx="454" cy="445" r="5.4"/><circle cx="422" cy="443" r="5.4"/><circle cx="379" cy="449" r="5.4"/><circle cx="393" cy="419" r="5.4"/><circle cx="407" cy="461" r="5.4"/><circle cx="403" cy="393" r="5.4"/><circle cx="395" cy="422" r="5.4"/><circle cx="445" cy="408" r="5.4"/><circle cx="407" cy="470" r="5.4"/><circle cx="457" cy="463" r="5.4"/><circle cx="420" cy="402" r="5.4"/><circle cx="397" cy="433" r="5.4"/><circle cx="413" cy="424" r="5.4"/><circle cx="377" cy="414" r="5.4"/><circle cx="399" cy="472" r="5.4"/><circle cx="381" cy="411" r="5.4"/><circle cx="379" cy="442" r="5.4"/><circle cx="464" cy="418" r="5.4"/><circle cx="399" cy="405" r="5.4"/><circle cx="414" cy="421" r="5.4"/><circle cx="461" cy="430" r="5.4"/><circle cx="408" cy="473" r="5.4"/><circle cx="402" cy="407" r="5.4"/><circle cx="410" cy="434" r="5.4"/><circle cx="434" cy="445" r="5.4"/><circle cx="419" cy="421" r="5.4"/><circle cx="418" cy="449" r="5.4"/><circle cx="441" cy="411" r="5.4"/><circle cx="404" cy="436" r="5.4"/><circle cx="447" cy="409" r="5.4"/><circle cx="449" cy="401" r="5.4"/><circle cx="394" cy="444" r="5.4"/><circle cx="442" cy="414" r="5.4"/><circle cx="448" cy="469" r="5.4"/><circle cx="421" cy="451" r="5.4"/><circle cx="393" cy="434" r="5.4"/><circle cx="415" cy="467" r="5.4"/><circle cx="415" cy="433" r="5.4"/><circle cx="389" cy="421" r="5.4"/><circle cx="399" cy="390" r="5.4"/><circle cx="390" cy="410" r="5.4"/><circle cx="459" cy="445" r="5.4"/><circle cx="427" cy="389" r="5.4"/><circle cx="433" cy="391" r="5.4"/><circle cx="391" cy="449" r="5.4"/><circle cx="407" cy="421" r="5.4"/><circle cx="430" cy="437" r="5.4"/><circle cx="431" cy="450" r="5.4"/><circle cx="447" cy="441" r="5.4"/><circle cx="418" cy="433" r="5.4"/><circle cx="407" cy="443" r="5.4"/><circle cx="424" cy="427" r="5.4"/><circle cx="443" cy="461" r="5.4"/><circle cx="403" cy="451" r="5.4"/><circle cx="441" cy="451" r="5.4"/><circle cx="467" cy="430" r="5.4"/><circle cx="382" cy="435" r="5.4"/><circle cx="430" cy="440" r="5.4"/><circle cx="415" cy="459" r="5.4"/><circle cx="443" cy="468" r="5.4"/><circle cx="426" cy="430" r="5.4"/><circle cx="441" cy="459" r="5.4"/><circle cx="456" cy="438" r="5.4"/><circle cx="456" cy="427" r="5.4"/><circle cx="402" cy="392" r="5.4"/><circle cx="400" cy="449" r="5.4"/><circle cx="421" cy="413" r="5.4"/><circle cx="425" cy="399" r="5.4"/><circle cx="423" cy="458" r="5.4"/><circle cx="465" cy="428" r="5.4"/><circle cx="435" cy="392" r="5.4"/><circle cx="415" cy="390" r="5.4"/><circle cx="393" cy="430" r="5.4"/><circle cx="449" cy="437" r="5.4"/><circle cx="416" cy="440" r="5.4"/><circle cx="408" cy="410" r="5.4"/><circle cx="369" cy="447" r="5.4"/><circle cx="469" cy="429" r="5.4"/><circle cx="384" cy="466" r="5.4"/></g><g fill="#d62728" stroke="#fff" stroke-width="0.8"><circle cx="654" cy="387" r="5.4"/><circle cx="656" cy="386" r="5.4"/><circle cx="683" cy="345" r="5.4"/><circle cx="603" cy="371" r="5.4"/><circle cx="663" cy="331" r="5.4"/><circle cx="642" cy="355" r="5.4"/><circle cx="606" cy="371" r="5.4"/><circle cx="655" cy="347" r="5.4"/><circle cx="659" cy="341" r="5.4"/><circle cx="610" cy="394" r="5.4"/><circle cx="681" cy="356" r="5.4"/><circle cx="671" cy="400" r="5.4"/><circle cx="661" cy="379" r="5.4"/><circle cx="659" cy="350" r="5.4"/><circle cx="622" cy="328" r="5.4"/><circle cx="621" cy="358" r="5.4"/><circle cx="669" cy="367" r="5.4"/><circle cx="620" cy="329" r="5.4"/><circle cx="684" cy="352" r="5.4"/><circle cx="674" cy="344" r="5.4"/><circle cx="661" cy="407" r="5.4"/><circle cx="643" cy="388" r="5.4"/><circle cx="628" cy="354" r="5.4"/><circle cx="627" cy="377" r="5.4"/><circle cx="666" cy="357" r="5.4"/><circle cx="620" cy="373" r="5.4"/><circle cx="683" cy="346" r="5.4"/><circle cx="679" cy="351" r="5.4"/><circle cx="614" cy="360" r="5.4"/><circle cx="687" cy="370" r="5.4"/><circle cx="664" cy="394" r="5.4"/><circle cx="651" cy="363" r="5.4"/><circle cx="629" cy="369" r="5.4"/><circle cx="609" cy="352" r="5.4"/><circle cx="621" cy="363" r="5.4"/><circle cx="658" cy="333" r="5.4"/><circle cx="634" cy="360" r="5.4"/><circle cx="646" cy="389" r="5.4"/><circle cx="605" cy="364" r="5.4"/><circle cx="652" cy="332" r="5.4"/><circle cx="604" cy="381" r="5.4"/><circle cx="610" cy="365" r="5.4"/><circle cx="637" cy="335" r="5.4"/><circle cx="616" cy="360" r="5.4"/><circle cx="683" cy="355" r="5.4"/><circle cx="681" cy="339" r="5.4"/><circle cx="647" cy="411" r="5.4"/><circle cx="686" cy="354" r="5.4"/><circle cx="681" cy="398" r="5.4"/><circle cx="633" cy="372" r="5.4"/><circle cx="651" cy="378" r="5.4"/><circle cx="643" cy="355" r="5.4"/><circle cx="687" cy="341" r="5.4"/><circle cx="646" cy="348" r="5.4"/><circle cx="676" cy="395" r="5.4"/><circle cx="698" cy="357" r="5.4"/><circle cx="673" cy="360" r="5.4"/><circle cx="617" cy="368" r="5.4"/><circle cx="675" cy="326" r="5.4"/><circle cx="631" cy="374" r="5.4"/><circle cx="630" cy="394" r="5.4"/><circle cx="640" cy="384" r="5.4"/><circle cx="694" cy="371" r="5.4"/><circle cx="614" cy="379" r="5.4"/><circle cx="647" cy="371" r="5.4"/><circle cx="609" cy="363" r="5.4"/><circle cx="663" cy="365" r="5.4"/><circle cx="695" cy="359" r="5.4"/><circle cx="648" cy="381" r="5.4"/><circle cx="652" cy="357" r="5.4"/><circle cx="668" cy="383" r="5.4"/><circle cx="679" cy="350" r="5.4"/><circle cx="647" cy="408" r="5.4"/><circle cx="667" cy="357" r="5.4"/><circle cx="638" cy="333" r="5.4"/><circle cx="664" cy="371" r="5.4"/><circle cx="612" cy="383" r="5.4"/><circle cx="663" cy="361" r="5.4"/><circle cx="663" cy="331" r="5.4"/><circle cx="659" cy="356" r="5.4"/><circle cx="659" cy="357" r="5.4"/><circle cx="631" cy="392" r="5.4"/><circle cx="684" cy="351" r="5.4"/><circle cx="668" cy="383" r="5.4"/><circle cx="653" cy="399" r="5.4"/><circle cx="659" cy="379" r="5.4"/><circle cx="653" cy="376" r="5.4"/><circle cx="640" cy="390" r="5.4"/><circle cx="639" cy="405" r="5.4"/><circle cx="666" cy="395" r="5.4"/><circle cx="680" cy="369" r="5.4"/><circle cx="676" cy="368" r="5.4"/><circle cx="608" cy="354" r="5.4"/><circle cx="628" cy="369" r="5.4"/><circle cx="689" cy="394" r="5.4"/><circle cx="662" cy="449" r="5.4"/><circle cx="702" cy="426" r="5.4"/><circle cx="668" cy="439" r="5.4"/><circle cx="718" cy="438" r="5.4"/></g><g fill="#ff7f0e" stroke="#fff" stroke-width="0.8"><circle cx="609" cy="437" r="5.4"/><circle cx="560" cy="433" r="5.4"/><circle cx="571" cy="473" r="5.4"/><circle cx="601" cy="461" r="5.4"/><circle cx="591" cy="446" r="5.4"/><circle cx="607" cy="470" r="5.4"/><circle cx="601" cy="447" r="5.4"/><circle cx="566" cy="427" r="5.4"/><circle cx="593" cy="473" r="5.4"/><circle cx="562" cy="460" r="5.4"/><circle cx="570" cy="460" r="5.4"/><circle cx="621" cy="451" r="5.4"/><circle cx="538" cy="445" r="5.4"/><circle cx="620" cy="451" r="5.4"/><circle cx="572" cy="470" r="5.4"/><circle cx="591" cy="456" r="5.4"/><circle cx="552" cy="455" r="5.4"/><circle cx="566" cy="455" r="5.4"/><circle cx="592" cy="457" r="5.4"/><circle cx="578" cy="461" r="5.4"/><circle cx="604" cy="456" r="5.4"/><circle cx="595" cy="474" r="5.4"/><circle cx="549" cy="450" r="5.4"/><circle cx="565" cy="430" r="5.4"/><circle cx="627" cy="435" r="5.4"/><circle cx="575" cy="474" r="5.4"/><circle cx="626" cy="483" r="5.4"/><circle cx="562" cy="432" r="5.4"/><circle cx="598" cy="449" r="5.4"/><circle cx="554" cy="432" r="5.4"/><circle cx="611" cy="428" r="5.4"/><circle cx="571" cy="453" r="5.4"/><circle cx="613" cy="434" r="5.4"/><circle cx="616" cy="428" r="5.4"/><circle cx="626" cy="439" r="5.4"/><circle cx="575" cy="428" r="5.4"/><circle cx="619" cy="458" r="5.4"/><circle cx="579" cy="465" r="5.4"/><circle cx="602" cy="445" r="5.4"/><circle cx="562" cy="436" r="5.4"/><circle cx="573" cy="430" r="5.4"/><circle cx="632" cy="456" r="5.4"/><circle cx="591" cy="424" r="5.4"/><circle cx="552" cy="450" r="5.4"/><circle cx="635" cy="466" r="5.4"/><circle cx="591" cy="485" r="5.4"/><circle cx="590" cy="464" r="5.4"/><circle cx="606" cy="483" r="5.4"/><circle cx="641" cy="450" r="5.4"/><circle cx="562" cy="471" r="5.4"/><circle cx="576" cy="433" r="5.4"/><circle cx="555" cy="435" r="5.4"/><circle cx="633" cy="468" r="5.4"/><circle cx="591" cy="468" r="5.4"/><circle cx="575" cy="483" r="5.4"/><circle cx="635" cy="457" r="5.4"/><circle cx="590" cy="463" r="5.4"/><circle cx="575" cy="429" r="5.4"/><circle cx="580" cy="482" r="5.4"/><circle cx="552" cy="460" r="5.4"/><circle cx="621" cy="471" r="5.4"/><circle cx="609" cy="486" r="5.4"/><circle cx="644" cy="442" r="5.4"/><circle cx="585" cy="456" r="5.4"/><circle cx="643" cy="449" r="5.4"/><circle cx="587" cy="478" r="5.4"/><circle cx="617" cy="450" r="5.4"/><circle cx="569" cy="447" r="5.4"/><circle cx="571" cy="453" r="5.4"/><circle cx="630" cy="480" r="5.4"/><circle cx="540" cy="453" r="5.4"/><circle cx="576" cy="424" r="5.4"/><circle cx="614" cy="445" r="5.4"/><circle cx="632" cy="459" r="5.4"/><circle cx="589" cy="455" r="5.4"/><circle cx="580" cy="477" r="5.4"/><circle cx="580" cy="466" r="5.4"/><circle cx="609" cy="439" r="5.4"/><circle cx="592" cy="454" r="5.4"/><circle cx="630" cy="477" r="5.4"/><circle cx="579" cy="423" r="5.4"/><circle cx="578" cy="487" r="5.4"/><circle cx="565" cy="468" r="5.4"/><circle cx="543" cy="437" r="5.4"/><circle cx="561" cy="464" r="5.4"/><circle cx="621" cy="460" r="5.4"/><circle cx="601" cy="446" r="5.4"/><circle cx="620" cy="448" r="5.4"/><circle cx="589" cy="472" r="5.4"/><circle cx="607" cy="478" r="5.4"/><circle cx="626" cy="449" r="5.4"/><circle cx="613" cy="425" r="5.4"/><circle cx="631" cy="441" r="5.4"/><circle cx="539" cy="445" r="5.4"/><circle cx="638" cy="464" r="5.4"/><circle cx="603" cy="489" r="5.4"/><circle cx="619" cy="456" r="5.4"/><circle cx="679" cy="486" r="5.4"/><circle cx="689" cy="504" r="5.4"/><circle cx="628" cy="500" r="5.4"/><circle cx="648" cy="461" r="5.4"/><circle cx="646" cy="514" r="5.4"/><circle cx="635" cy="507" r="5.4"/><circle cx="616" cy="496" r="5.4"/><circle cx="662" cy="492" r="5.4"/><circle cx="535" cy="438" r="5.4"/><circle cx="532" cy="445" r="5.4"/><circle cx="543" cy="440" r="5.4"/><circle cx="459" cy="428" r="5.4"/><circle cx="457" cy="432" r="5.4"/><circle cx="454" cy="426" r="5.4"/></g><g fill="#aec7e8" stroke="#fff" stroke-width="0.8"><circle cx="772" cy="457" r="5.4"/><circle cx="768" cy="449" r="5.4"/><circle cx="775" cy="451" r="5.4"/><circle cx="747" cy="457" r="5.4"/><circle cx="780" cy="427" r="5.4"/><circle cx="707" cy="455" r="5.4"/><circle cx="713" cy="439" r="5.4"/><circle cx="730" cy="458" r="5.4"/><circle cx="746" cy="449" r="5.4"/><circle cx="786" cy="463" r="5.4"/><circle cx="721" cy="427" r="5.4"/><circle cx="759" cy="469" r="5.4"/><circle cx="748" cy="458" r="5.4"/><circle cx="715" cy="448" r="5.4"/><circle cx="779" cy="418" r="5.4"/><circle cx="799" cy="446" r="5.4"/><circle cx="746" cy="437" r="5.4"/><circle cx="696" cy="447" r="5.4"/><circle cx="790" cy="442" r="5.4"/><circle cx="779" cy="434" r="5.4"/><circle cx="779" cy="421" r="5.4"/><circle cx="749" cy="471" r="5.4"/><circle cx="758" cy="450" r="5.4"/><circle cx="731" cy="422" r="5.4"/><circle cx="739" cy="413" r="5.4"/><circle cx="752" cy="418" r="5.4"/><circle cx="713" cy="436" r="5.4"/><circle cx="750" cy="436" r="5.4"/><circle cx="771" cy="435" r="5.4"/><circle cx="733" cy="465" r="5.4"/><circle cx="748" cy="453" r="5.4"/><circle cx="734" cy="419" r="5.4"/><circle cx="765" cy="446" r="5.4"/><circle cx="713" cy="431" r="5.4"/><circle cx="754" cy="460" r="5.4"/><circle cx="791" cy="444" r="5.4"/><circle cx="719" cy="446" r="5.4"/><circle cx="715" cy="419" r="5.4"/><circle cx="697" cy="446" r="5.4"/><circle cx="748" cy="456" r="5.4"/><circle cx="733" cy="414" r="5.4"/><circle cx="778" cy="444" r="5.4"/><circle cx="730" cy="423" r="5.4"/><circle cx="746" cy="461" r="5.4"/><circle cx="788" cy="431" r="5.4"/><circle cx="774" cy="445" r="5.4"/><circle cx="720" cy="450" r="5.4"/><circle cx="763" cy="465" r="5.4"/><circle cx="745" cy="415" r="5.4"/><circle cx="759" cy="462" r="5.4"/><circle cx="727" cy="469" r="5.4"/><circle cx="754" cy="469" r="5.4"/><circle cx="750" cy="428" r="5.4"/><circle cx="777" cy="437" r="5.4"/><circle cx="763" cy="461" r="5.4"/><circle cx="725" cy="449" r="5.4"/><circle cx="791" cy="434" r="5.4"/><circle cx="731" cy="449" r="5.4"/><circle cx="773" cy="440" r="5.4"/><circle cx="768" cy="446" r="5.4"/><circle cx="737" cy="447" r="5.4"/><circle cx="787" cy="423" r="5.4"/><circle cx="795" cy="442" r="5.4"/><circle cx="723" cy="467" r="5.4"/><circle cx="770" cy="437" r="5.4"/><circle cx="795" cy="447" r="5.4"/><circle cx="715" cy="459" r="5.4"/><circle cx="731" cy="458" r="5.4"/><circle cx="771" cy="442" r="5.4"/><circle cx="731" cy="455" r="5.4"/><circle cx="734" cy="513" r="5.4"/><circle cx="706" cy="523" r="5.4"/><circle cx="706" cy="463" r="5.4"/><circle cx="638" cy="500" r="5.4"/><circle cx="676" cy="486" r="5.4"/><circle cx="724" cy="473" r="5.4"/><circle cx="672" cy="498" r="5.4"/><circle cx="749" cy="492" r="5.4"/><circle cx="705" cy="461" r="5.4"/><circle cx="744" cy="494" r="5.4"/><circle cx="701" cy="488" r="5.4"/><circle cx="687" cy="524" r="5.4"/><circle cx="734" cy="464" r="5.4"/><circle cx="685" cy="508" r="5.4"/><circle cx="644" cy="459" r="5.4"/><circle cx="683" cy="465" r="5.4"/><circle cx="737" cy="535" r="5.4"/><circle cx="740" cy="524" r="5.4"/><circle cx="722" cy="513" r="5.4"/><circle cx="768" cy="528" r="5.4"/><circle cx="480" cy="482" r="5.4"/><circle cx="809" cy="537" r="5.4"/><circle cx="801" cy="555" r="5.4"/><circle cx="768" cy="572" r="5.4"/></g><g fill="#2ca02c" stroke="#fff" stroke-width="0.8"><circle cx="769" cy="551" r="5.4"/><circle cx="846" cy="536" r="5.4"/><circle cx="795" cy="574" r="5.4"/><circle cx="760" cy="549" r="5.4"/><circle cx="816" cy="584" r="5.4"/><circle cx="792" cy="511" r="5.4"/><circle cx="802" cy="511" r="5.4"/><circle cx="775" cy="576" r="5.4"/><circle cx="775" cy="566" r="5.4"/><circle cx="837" cy="565" r="5.4"/><circle cx="795" cy="530" r="5.4"/><circle cx="820" cy="556" r="5.4"/><circle cx="786" cy="546" r="5.4"/><circle cx="826" cy="545" r="5.4"/><circle cx="846" cy="545" r="5.4"/><circle cx="819" cy="559" r="5.4"/><circle cx="778" cy="548" r="5.4"/><circle cx="752" cy="559" r="5.4"/><circle cx="772" cy="558" r="5.4"/><circle cx="775" cy="519" r="5.4"/><circle cx="822" cy="519" r="5.4"/><circle cx="827" cy="571" r="5.4"/><circle cx="782" cy="585" r="5.4"/><circle cx="767" cy="570" r="5.4"/><circle cx="810" cy="582" r="5.4"/><circle cx="796" cy="569" r="5.4"/><circle cx="811" cy="537" r="5.4"/><circle cx="776" cy="576" r="5.4"/><circle cx="829" cy="547" r="5.4"/><circle cx="799" cy="577" r="5.4"/><circle cx="767" cy="517" r="5.4"/><circle cx="838" cy="573" r="5.4"/><circle cx="811" cy="522" r="5.4"/><circle cx="838" cy="529" r="5.4"/><circle cx="792" cy="556" r="5.4"/><circle cx="802" cy="561" r="5.4"/><circle cx="749" cy="528" r="5.4"/><circle cx="759" cy="577" r="5.4"/><circle cx="747" cy="560" r="5.4"/><circle cx="800" cy="527" r="5.4"/><circle cx="836" cy="573" r="5.4"/><circle cx="765" cy="526" r="5.4"/><circle cx="778" cy="562" r="5.4"/><circle cx="801" cy="563" r="5.4"/><circle cx="773" cy="536" r="5.4"/><circle cx="808" cy="580" r="5.4"/><circle cx="792" cy="552" r="5.4"/><circle cx="813" cy="579" r="5.4"/><circle cx="804" cy="570" r="5.4"/><circle cx="749" cy="537" r="5.4"/><circle cx="806" cy="554" r="5.4"/><circle cx="763" cy="540" r="5.4"/><circle cx="831" cy="566" r="5.4"/><circle cx="788" cy="532" r="5.4"/><circle cx="788" cy="574" r="5.4"/><circle cx="824" cy="541" r="5.4"/><circle cx="767" cy="539" r="5.4"/><circle cx="767" cy="560" r="5.4"/><circle cx="845" cy="547" r="5.4"/><circle cx="806" cy="572" r="5.4"/><circle cx="808" cy="582" r="5.4"/><circle cx="798" cy="546" r="5.4"/><circle cx="810" cy="524" r="5.4"/><circle cx="821" cy="530" r="5.4"/><circle cx="814" cy="572" r="5.4"/><circle cx="789" cy="546" r="5.4"/><circle cx="831" cy="530" r="5.4"/><circle cx="783" cy="539" r="5.4"/><circle cx="762" cy="547" r="5.4"/><circle cx="791" cy="563" r="5.4"/><circle cx="830" cy="535" r="5.4"/><circle cx="777" cy="549" r="5.4"/><circle cx="842" cy="540" r="5.4"/><circle cx="812" cy="561" r="5.4"/><circle cx="847" cy="542" r="5.4"/><circle cx="830" cy="557" r="5.4"/><circle cx="755" cy="574" r="5.4"/><circle cx="758" cy="521" r="5.4"/><circle cx="821" cy="580" r="5.4"/><circle cx="803" cy="584" r="5.4"/><circle cx="815" cy="526" r="5.4"/><circle cx="815" cy="582" r="5.4"/><circle cx="775" cy="559" r="5.4"/><circle cx="766" cy="568" r="5.4"/><circle cx="795" cy="563" r="5.4"/><circle cx="832" cy="527" r="5.4"/><circle cx="785" cy="545" r="5.4"/><circle cx="841" cy="557" r="5.4"/><circle cx="832" cy="574" r="5.4"/><circle cx="755" cy="538" r="5.4"/><circle cx="780" cy="579" r="5.4"/><circle cx="765" cy="535" r="5.4"/><circle cx="776" cy="525" r="5.4"/><circle cx="762" cy="558" r="5.4"/><circle cx="789" cy="544" r="5.4"/><circle cx="798" cy="577" r="5.4"/><circle cx="804" cy="512" r="5.4"/><circle cx="811" cy="573" r="5.4"/><circle cx="824" cy="566" r="5.4"/><circle cx="777" cy="554" r="5.4"/><circle cx="780" cy="552" r="5.4"/><circle cx="832" cy="555" r="5.4"/><circle cx="832" cy="564" r="5.4"/><circle cx="803" cy="513" r="5.4"/><circle cx="831" cy="558" r="5.4"/><circle cx="767" cy="568" r="5.4"/><circle cx="830" cy="578" r="5.4"/><circle cx="845" cy="547" r="5.4"/><circle cx="813" cy="515" r="5.4"/><circle cx="819" cy="546" r="5.4"/><circle cx="827" cy="596" r="5.4"/><circle cx="826" cy="596" r="5.4"/><circle cx="826" cy="595" r="5.4"/></g><g fill="#2ca02c" stroke="#fff" stroke-width="0.8"><circle cx="945" cy="536" r="5.4"/><circle cx="899" cy="489" r="5.4"/><circle cx="953" cy="484" r="5.4"/><circle cx="967" cy="526" r="5.4"/><circle cx="997" cy="514" r="5.4"/><circle cx="949" cy="536" r="5.4"/><circle cx="996" cy="502" r="5.4"/><circle cx="927" cy="482" r="5.4"/><circle cx="982" cy="505" r="5.4"/><circle cx="956" cy="510" r="5.4"/><circle cx="909" cy="516" r="5.4"/><circle cx="983" cy="490" r="5.4"/><circle cx="953" cy="517" r="5.4"/><circle cx="996" cy="509" r="5.4"/><circle cx="948" cy="506" r="5.4"/><circle cx="938" cy="514" r="5.4"/><circle cx="926" cy="497" r="5.4"/><circle cx="963" cy="530" r="5.4"/><circle cx="905" cy="509" r="5.4"/><circle cx="969" cy="500" r="5.4"/><circle cx="967" cy="519" r="5.4"/><circle cx="939" cy="497" r="5.4"/><circle cx="961" cy="473" r="5.4"/><circle cx="947" cy="527" r="5.4"/><circle cx="946" cy="502" r="5.4"/><circle cx="925" cy="526" r="5.4"/><circle cx="907" cy="515" r="5.4"/><circle cx="944" cy="472" r="5.4"/><circle cx="974" cy="495" r="5.4"/><circle cx="938" cy="504" r="5.4"/><circle cx="953" cy="527" r="5.4"/><circle cx="953" cy="497" r="5.4"/><circle cx="944" cy="504" r="5.4"/><circle cx="985" cy="531" r="5.4"/><circle cx="930" cy="495" r="5.4"/><circle cx="924" cy="486" r="5.4"/><circle cx="974" cy="533" r="5.4"/><circle cx="940" cy="523" r="5.4"/><circle cx="960" cy="500" r="5.4"/><circle cx="939" cy="475" r="5.4"/><circle cx="953" cy="503" r="5.4"/><circle cx="902" cy="511" r="5.4"/><circle cx="903" cy="514" r="5.4"/><circle cx="972" cy="515" r="5.4"/><circle cx="977" cy="509" r="5.4"/><circle cx="950" cy="485" r="5.4"/><circle cx="977" cy="481" r="5.4"/><circle cx="945" cy="534" r="5.4"/><circle cx="911" cy="515" r="5.4"/><circle cx="899" cy="501" r="5.4"/><circle cx="931" cy="491" r="5.4"/><circle cx="962" cy="538" r="5.4"/><circle cx="1004" cy="508" r="5.4"/><circle cx="953" cy="523" r="5.4"/><circle cx="997" cy="495" r="5.4"/><circle cx="927" cy="531" r="5.4"/><circle cx="924" cy="534" r="5.4"/><circle cx="974" cy="496" r="5.4"/><circle cx="934" cy="479" r="5.4"/><circle cx="996" cy="501" r="5.4"/><circle cx="971" cy="485" r="5.4"/><circle cx="980" cy="483" r="5.4"/><circle cx="944" cy="482" r="5.4"/><circle cx="935" cy="529" r="5.4"/><circle cx="931" cy="494" r="5.4"/><circle cx="964" cy="500" r="5.4"/><circle cx="972" cy="507" r="5.4"/><circle cx="967" cy="500" r="5.4"/><circle cx="971" cy="521" r="5.4"/><circle cx="959" cy="507" r="5.4"/><circle cx="918" cy="484" r="5.4"/><circle cx="946" cy="476" r="5.4"/><circle cx="938" cy="500" r="5.4"/><circle cx="964" cy="486" r="5.4"/><circle cx="990" cy="485" r="5.4"/><circle cx="1016" cy="486" r="5.4"/><circle cx="1041" cy="482" r="5.4"/><circle cx="1013" cy="497" r="5.4"/><circle cx="1021" cy="492" r="5.4"/><circle cx="1022" cy="470" r="5.4"/><circle cx="1022" cy="474" r="5.4"/><circle cx="1004" cy="508" r="5.4"/><circle cx="1019" cy="494" r="5.4"/><circle cx="1085" cy="440" r="5.4"/><circle cx="1185" cy="459" r="5.4"/><circle cx="1188" cy="465" r="5.4"/><circle cx="1195" cy="409" r="5.4"/><circle cx="1118" cy="431" r="5.4"/><circle cx="1191" cy="478" r="5.4"/><circle cx="1227" cy="422" r="5.4"/><circle cx="1100" cy="455" r="5.4"/><circle cx="1067" cy="432" r="5.4"/><circle cx="1204" cy="428" r="5.4"/><circle cx="999" cy="592" r="5.4"/><circle cx="1004" cy="589" r="5.4"/><circle cx="1025" cy="584" r="5.4"/><circle cx="1028" cy="581" r="5.4"/></g><g fill="#aec7e8" stroke="#fff" stroke-width="0.8"><circle cx="1014" cy="537" r="5.4"/><circle cx="941" cy="511" r="5.4"/><circle cx="989" cy="506" r="5.4"/><circle cx="979" cy="477" r="5.4"/><circle cx="964" cy="524" r="5.4"/><circle cx="894" cy="499" r="5.4"/><circle cx="924" cy="473" r="5.4"/><circle cx="975" cy="504" r="5.4"/><circle cx="999" cy="471" r="5.4"/><circle cx="974" cy="475" r="5.4"/><circle cx="1005" cy="531" r="5.4"/><circle cx="1066" cy="522" r="5.4"/><circle cx="1032" cy="535" r="5.4"/><circle cx="991" cy="502" r="5.4"/><circle cx="1075" cy="495" r="5.4"/><circle cx="984" cy="500" r="5.4"/><circle cx="1010" cy="471" r="5.4"/><circle cx="948" cy="501" r="5.4"/><circle cx="1018" cy="478" r="5.4"/><circle cx="1037" cy="492" r="5.4"/><circle cx="1001" cy="523" r="5.4"/><circle cx="908" cy="500" r="5.4"/><circle cx="969" cy="489" r="5.4"/><circle cx="997" cy="488" r="5.4"/><circle cx="1009" cy="464" r="5.4"/><circle cx="942" cy="527" r="5.4"/><circle cx="941" cy="517" r="5.4"/><circle cx="1069" cy="521" r="5.4"/><circle cx="1081" cy="506" r="5.4"/><circle cx="986" cy="520" r="5.4"/><circle cx="897" cy="500" r="5.4"/><circle cx="1035" cy="482" r="5.4"/><circle cx="944" cy="505" r="5.4"/><circle cx="992" cy="468" r="5.4"/><circle cx="939" cy="470" r="5.4"/><circle cx="963" cy="523" r="5.4"/><circle cx="1011" cy="486" r="5.4"/><circle cx="986" cy="464" r="5.4"/><circle cx="953" cy="507" r="5.4"/><circle cx="914" cy="482" r="5.4"/><circle cx="1068" cy="516" r="5.4"/><circle cx="1095" cy="561" r="5.4"/><circle cx="1081" cy="533" r="5.4"/><circle cx="1119" cy="476" r="5.4"/><circle cx="1104" cy="529" r="5.4"/><circle cx="1075" cy="535" r="5.4"/><circle cx="1114" cy="544" r="5.4"/><circle cx="1103" cy="540" r="5.4"/><circle cx="1082" cy="461" r="5.4"/><circle cx="1110" cy="508" r="5.4"/><circle cx="1075" cy="523" r="5.4"/><circle cx="1107" cy="463" r="5.4"/><circle cx="1040" cy="530" r="5.4"/><circle cx="1072" cy="495" r="5.4"/><circle cx="1096" cy="528" r="5.4"/><circle cx="1129" cy="519" r="5.4"/><circle cx="1100" cy="480" r="5.4"/><circle cx="1037" cy="512" r="5.4"/><circle cx="1041" cy="521" r="5.4"/><circle cx="1071" cy="500" r="5.4"/><circle cx="1088" cy="479" r="5.4"/><circle cx="1035" cy="533" r="5.4"/><circle cx="1090" cy="473" r="5.4"/><circle cx="1096" cy="545" r="5.4"/><circle cx="1129" cy="482" r="5.4"/><circle cx="1073" cy="469" r="5.4"/><circle cx="1065" cy="469" r="5.4"/><circle cx="1041" cy="524" r="5.4"/><circle cx="1065" cy="491" r="5.4"/><circle cx="1073" cy="520" r="5.4"/><circle cx="1077" cy="467" r="5.4"/><circle cx="1090" cy="553" r="5.4"/><circle cx="1050" cy="521" r="5.4"/><circle cx="1048" cy="534" r="5.4"/><circle cx="1137" cy="494" r="5.4"/><circle cx="1075" cy="494" r="5.4"/><circle cx="1047" cy="541" r="5.4"/><circle cx="1134" cy="506" r="5.4"/><circle cx="1078" cy="509" r="5.4"/><circle cx="1095" cy="492" r="5.4"/><circle cx="1214" cy="465" r="5.4"/><circle cx="1260" cy="463" r="5.4"/><circle cx="1270" cy="437" r="5.4"/><circle cx="1248" cy="445" r="5.4"/><circle cx="1218" cy="464" r="5.4"/><circle cx="1322" cy="461" r="5.4"/><circle cx="1267" cy="451" r="5.4"/><circle cx="1283" cy="441" r="5.4"/><circle cx="1304" cy="468" r="5.4"/><circle cx="1319" cy="480" r="5.4"/><circle cx="1251" cy="484" r="5.4"/><circle cx="1273" cy="473" r="5.4"/><circle cx="1266" cy="442" r="5.4"/><circle cx="1276" cy="497" r="5.4"/><circle cx="1009" cy="426" r="5.4"/><circle cx="966" cy="435" r="5.4"/><circle cx="1017" cy="427" r="5.4"/><circle cx="1017" cy="457" r="5.4"/><circle cx="1013" cy="430" r="5.4"/><circle cx="982" cy="421" r="5.4"/><circle cx="981" cy="433" r="5.4"/><circle cx="1031" cy="437" r="5.4"/><circle cx="1025" cy="557" r="5.4"/><circle cx="1003" cy="570" r="5.4"/><circle cx="1036" cy="563" r="5.4"/><circle cx="997" cy="574" r="5.4"/></g><g fill="#ff7f0e" stroke="#fff" stroke-width="0.8"><circle cx="1156" cy="394" r="5.4"/><circle cx="1203" cy="372" r="5.4"/><circle cx="1168" cy="458" r="5.4"/><circle cx="1213" cy="450" r="5.4"/><circle cx="1145" cy="462" r="5.4"/><circle cx="1174" cy="473" r="5.4"/><circle cx="1179" cy="455" r="5.4"/><circle cx="1196" cy="455" r="5.4"/><circle cx="1179" cy="417" r="5.4"/><circle cx="1181" cy="450" r="5.4"/><circle cx="1146" cy="424" r="5.4"/><circle cx="1153" cy="391" r="5.4"/><circle cx="1147" cy="456" r="5.4"/><circle cx="1217" cy="376" r="5.4"/><circle cx="1187" cy="408" r="5.4"/><circle cx="1193" cy="367" r="5.4"/><circle cx="1192" cy="401" r="5.4"/><circle cx="1230" cy="424" r="5.4"/><circle cx="1186" cy="418" r="5.4"/><circle cx="1180" cy="467" r="5.4"/><circle cx="1193" cy="434" r="5.4"/><circle cx="1185" cy="393" r="5.4"/><circle cx="1201" cy="448" r="5.4"/><circle cx="1196" cy="367" r="5.4"/><circle cx="1200" cy="405" r="5.4"/><circle cx="1190" cy="376" r="5.4"/><circle cx="1221" cy="391" r="5.4"/><circle cx="1210" cy="377" r="5.4"/><circle cx="1170" cy="396" r="5.4"/><circle cx="1178" cy="378" r="5.4"/><circle cx="1211" cy="394" r="5.4"/><circle cx="1176" cy="463" r="5.4"/><circle cx="1200" cy="441" r="5.4"/><circle cx="1221" cy="434" r="5.4"/><circle cx="1207" cy="451" r="5.4"/><circle cx="1136" cy="420" r="5.4"/><circle cx="1210" cy="388" r="5.4"/><circle cx="1183" cy="416" r="5.4"/><circle cx="1140" cy="405" r="5.4"/><circle cx="1208" cy="380" r="5.4"/><circle cx="1146" cy="437" r="5.4"/><circle cx="1235" cy="446" r="5.4"/><circle cx="1147" cy="385" r="5.4"/><circle cx="1172" cy="414" r="5.4"/><circle cx="1227" cy="400" r="5.4"/><circle cx="1216" cy="416" r="5.4"/><circle cx="1135" cy="424" r="5.4"/><circle cx="1239" cy="432" r="5.4"/><circle cx="1142" cy="385" r="5.4"/><circle cx="1204" cy="394" r="5.4"/><circle cx="1142" cy="426" r="5.4"/><circle cx="1186" cy="379" r="5.4"/><circle cx="1153" cy="430" r="5.4"/><circle cx="1141" cy="408" r="5.4"/><circle cx="1165" cy="470" r="5.4"/><circle cx="1133" cy="450" r="5.4"/><circle cx="1174" cy="460" r="5.4"/><circle cx="1224" cy="414" r="5.4"/><circle cx="1193" cy="375" r="5.4"/><circle cx="1165" cy="450" r="5.4"/><circle cx="1150" cy="404" r="5.4"/><circle cx="1191" cy="375" r="5.4"/><circle cx="1178" cy="409" r="5.4"/><circle cx="1123" cy="405" r="5.4"/><circle cx="1176" cy="432" r="5.4"/><circle cx="1182" cy="424" r="5.4"/><circle cx="1133" cy="385" r="5.4"/><circle cx="1192" cy="375" r="5.4"/><circle cx="1134" cy="385" r="5.4"/><circle cx="1145" cy="388" r="5.4"/><circle cx="1044" cy="428" r="5.4"/><circle cx="1090" cy="460" r="5.4"/><circle cx="1039" cy="445" r="5.4"/><circle cx="1116" cy="453" r="5.4"/><circle cx="1101" cy="442" r="5.4"/><circle cx="1119" cy="429" r="5.4"/><circle cx="1052" cy="455" r="5.4"/><circle cx="1091" cy="418" r="5.4"/><circle cx="1078" cy="459" r="5.4"/><circle cx="1055" cy="447" r="5.4"/><circle cx="1054" cy="446" r="5.4"/><circle cx="1118" cy="432" r="5.4"/><circle cx="1069" cy="438" r="5.4"/><circle cx="1088" cy="443" r="5.4"/><circle cx="1142" cy="331" r="5.4"/><circle cx="1139" cy="338" r="5.4"/><circle cx="1158" cy="336" r="5.4"/><circle cx="1176" cy="332" r="5.4"/><circle cx="1137" cy="336" r="5.4"/><circle cx="1172" cy="339" r="5.4"/><circle cx="1164" cy="342" r="5.4"/></g><g fill="#d62728" stroke="#fff" stroke-width="0.8"><circle cx="1289" cy="456" r="5.4"/><circle cx="1266" cy="453" r="5.4"/><circle cx="1287" cy="452" r="5.4"/><circle cx="1279" cy="448" r="5.4"/><circle cx="1288" cy="456" r="5.4"/><circle cx="1270" cy="484" r="5.4"/><circle cx="1286" cy="482" r="5.4"/><circle cx="1270" cy="447" r="5.4"/><circle cx="1297" cy="432" r="5.4"/><circle cx="1309" cy="470" r="5.4"/><circle cx="1257" cy="429" r="5.4"/><circle cx="1302" cy="445" r="5.4"/><circle cx="1295" cy="451" r="5.4"/><circle cx="1315" cy="457" r="5.4"/><circle cx="1264" cy="452" r="5.4"/><circle cx="1312" cy="470" r="5.4"/><circle cx="1264" cy="436" r="5.4"/><circle cx="1282" cy="444" r="5.4"/><circle cx="1304" cy="464" r="5.4"/><circle cx="1238" cy="446" r="5.4"/><circle cx="1252" cy="435" r="5.4"/><circle cx="1274" cy="442" r="5.4"/><circle cx="1248" cy="439" r="5.4"/><circle cx="1230" cy="468" r="5.4"/><circle cx="1276" cy="434" r="5.4"/><circle cx="1280" cy="422" r="5.4"/><circle cx="1257" cy="480" r="5.4"/><circle cx="1281" cy="454" r="5.4"/><circle cx="1290" cy="429" r="5.4"/><circle cx="1243" cy="443" r="5.4"/><circle cx="1295" cy="425" r="5.4"/><circle cx="1253" cy="480" r="5.4"/><circle cx="1296" cy="440" r="5.4"/><circle cx="1255" cy="436" r="5.4"/><circle cx="1302" cy="439" r="5.4"/><circle cx="1258" cy="485" r="5.4"/><circle cx="1268" cy="456" r="5.4"/><circle cx="1237" cy="443" r="5.4"/><circle cx="1306" cy="435" r="5.4"/><circle cx="1274" cy="449" r="5.4"/><circle cx="1301" cy="432" r="5.4"/><circle cx="1262" cy="481" r="5.4"/><circle cx="1286" cy="425" r="5.4"/><circle cx="1307" cy="440" r="5.4"/><circle cx="1296" cy="465" r="5.4"/><circle cx="1280" cy="430" r="5.4"/><circle cx="1268" cy="440" r="5.4"/><circle cx="1273" cy="488" r="5.4"/><circle cx="1249" cy="431" r="5.4"/><circle cx="1278" cy="478" r="5.4"/><circle cx="1160" cy="411" r="5.4"/><circle cx="1101" cy="453" r="5.4"/><circle cx="1167" cy="424" r="5.4"/><circle cx="1167" cy="490" r="5.4"/><circle cx="1202" cy="414" r="5.4"/><circle cx="1096" cy="433" r="5.4"/><circle cx="1120" cy="419" r="5.4"/><circle cx="1171" cy="463" r="5.4"/><circle cx="1151" cy="417" r="5.4"/><circle cx="1122" cy="426" r="5.4"/><circle cx="1116" cy="436" r="5.4"/><circle cx="1186" cy="446" r="5.4"/><circle cx="1112" cy="481" r="5.4"/><circle cx="1145" cy="426" r="5.4"/><circle cx="1194" cy="482" r="5.4"/><circle cx="1130" cy="477" r="5.4"/><circle cx="1209" cy="445" r="5.4"/><circle cx="1173" cy="439" r="5.4"/><circle cx="1096" cy="445" r="5.4"/><circle cx="1156" cy="483" r="5.4"/><circle cx="1106" cy="463" r="5.4"/><circle cx="1167" cy="384" r="5.4"/><circle cx="1221" cy="428" r="5.4"/><circle cx="1194" cy="447" r="5.4"/><circle cx="1173" cy="463" r="5.4"/><circle cx="1179" cy="445" r="5.4"/><circle cx="1360" cy="491" r="5.4"/><circle cx="1363" cy="493" r="5.4"/><circle cx="1370" cy="498" r="5.4"/></g><g fill="#1f77b4" stroke="#fff" stroke-width="0.8"><circle cx="1289" cy="390" r="5.4"/><circle cx="1335" cy="365" r="5.4"/><circle cx="1293" cy="375" r="5.4"/><circle cx="1356" cy="357" r="5.4"/><circle cx="1288" cy="391" r="5.4"/><circle cx="1339" cy="377" r="5.4"/><circle cx="1368" cy="357" r="5.4"/><circle cx="1342" cy="367" r="5.4"/><circle cx="1305" cy="384" r="5.4"/><circle cx="1355" cy="350" r="5.4"/><circle cx="1364" cy="364" r="5.4"/><circle cx="1302" cy="359" r="5.4"/><circle cx="1358" cy="359" r="5.4"/><circle cx="1326" cy="373" r="5.4"/><circle cx="1357" cy="354" r="5.4"/><circle cx="1310" cy="390" r="5.4"/><circle cx="1316" cy="357" r="5.4"/><circle cx="1312" cy="380" r="5.4"/><circle cx="1338" cy="373" r="5.4"/><circle cx="1339" cy="378" r="5.4"/><circle cx="1336" cy="375" r="5.4"/><circle cx="1360" cy="361" r="5.4"/><circle cx="1337" cy="383" r="5.4"/><circle cx="1326" cy="368" r="5.4"/><circle cx="1339" cy="362" r="5.4"/><circle cx="1351" cy="350" r="5.4"/><circle cx="1301" cy="379" r="5.4"/><circle cx="1332" cy="365" r="5.4"/><circle cx="1282" cy="369" r="5.4"/><circle cx="1303" cy="388" r="5.4"/><circle cx="1273" cy="388" r="5.4"/><circle cx="1346" cy="376" r="5.4"/><circle cx="1341" cy="369" r="5.4"/><circle cx="1276" cy="378" r="5.4"/><circle cx="1330" cy="363" r="5.4"/><circle cx="1297" cy="384" r="5.4"/><circle cx="1317" cy="380" r="5.4"/><circle cx="1299" cy="394" r="5.4"/><circle cx="1297" cy="378" r="5.4"/><circle cx="1340" cy="359" r="5.4"/><circle cx="1335" cy="366" r="5.4"/><circle cx="1327" cy="367" r="5.4"/><circle cx="1332" cy="384" r="5.4"/><circle cx="1314" cy="387" r="5.4"/><circle cx="1328" cy="379" r="5.4"/><circle cx="1348" cy="363" r="5.4"/><circle cx="1361" cy="350" r="5.4"/><circle cx="1316" cy="379" r="5.4"/><circle cx="1365" cy="365" r="5.4"/><circle cx="1311" cy="391" r="5.4"/><circle cx="1369" cy="359" r="5.4"/><circle cx="1297" cy="393" r="5.4"/><circle cx="1337" cy="367" r="5.4"/><circle cx="1271" cy="382" r="5.4"/><circle cx="1299" cy="381" r="5.4"/><circle cx="1333" cy="387" r="5.4"/><circle cx="1346" cy="376" r="5.4"/><circle cx="1318" cy="363" r="5.4"/><circle cx="1336" cy="383" r="5.4"/><circle cx="1331" cy="371" r="5.4"/><circle cx="1278" cy="384" r="5.4"/><circle cx="1328" cy="379" r="5.4"/><circle cx="1303" cy="361" r="5.4"/><circle cx="1276" cy="375" r="5.4"/><circle cx="1340" cy="369" r="5.4"/><circle cx="1151" cy="387" r="5.4"/><circle cx="1255" cy="381" r="5.4"/><circle cx="1168" cy="398" r="5.4"/><circle cx="1242" cy="345" r="5.4"/><circle cx="1248" cy="373" r="5.4"/><circle cx="1135" cy="375" r="5.4"/><circle cx="1193" cy="404" r="5.4"/><circle cx="1215" cy="356" r="5.4"/><circle cx="1222" cy="389" r="5.4"/><circle cx="1165" cy="357" r="5.4"/><circle cx="1195" cy="370" r="5.4"/><circle cx="1154" cy="368" r="5.4"/><circle cx="1195" cy="358" r="5.4"/><circle cx="1241" cy="345" r="5.4"/><circle cx="1191" cy="350" r="5.4"/><circle cx="1200" cy="347" r="5.4"/><circle cx="1212" cy="363" r="5.4"/><circle cx="1133" cy="371" r="5.4"/><circle cx="1151" cy="365" r="5.4"/><circle cx="1250" cy="373" r="5.4"/><circle cx="1211" cy="406" r="5.4"/><circle cx="1224" cy="379" r="5.4"/><circle cx="1214" cy="353" r="5.4"/><circle cx="1210" cy="374" r="5.4"/><circle cx="1220" cy="399" r="5.4"/><circle cx="1193" cy="367" r="5.4"/><circle cx="1148" cy="366" r="5.4"/><circle cx="1246" cy="389" r="5.4"/><circle cx="1187" cy="336" r="5.4"/><circle cx="1210" cy="375" r="5.4"/></g><g fill="#aec7e8" stroke="#fff" stroke-width="0.8"><circle cx="1493" cy="379" r="5.4"/><circle cx="1542" cy="369" r="5.4"/><circle cx="1488" cy="357" r="5.4"/><circle cx="1519" cy="362" r="5.4"/><circle cx="1488" cy="333" r="5.4"/><circle cx="1543" cy="337" r="5.4"/><circle cx="1553" cy="365" r="5.4"/><circle cx="1512" cy="385" r="5.4"/><circle cx="1510" cy="386" r="5.4"/><circle cx="1542" cy="346" r="5.4"/><circle cx="1515" cy="385" r="5.4"/><circle cx="1488" cy="368" r="5.4"/><circle cx="1506" cy="391" r="5.4"/><circle cx="1501" cy="343" r="5.4"/><circle cx="1503" cy="351" r="5.4"/><circle cx="1475" cy="355" r="5.4"/><circle cx="1494" cy="362" r="5.4"/><circle cx="1533" cy="378" r="5.4"/><circle cx="1525" cy="367" r="5.4"/><circle cx="1496" cy="368" r="5.4"/><circle cx="1516" cy="377" r="5.4"/><circle cx="1503" cy="355" r="5.4"/><circle cx="1486" cy="338" r="5.4"/><circle cx="1497" cy="337" r="5.4"/><circle cx="1510" cy="343" r="5.4"/><circle cx="1488" cy="351" r="5.4"/><circle cx="1483" cy="363" r="5.4"/><circle cx="1516" cy="377" r="5.4"/><circle cx="1496" cy="357" r="5.4"/><circle cx="1493" cy="347" r="5.4"/><circle cx="1512" cy="361" r="5.4"/><circle cx="1518" cy="390" r="5.4"/><circle cx="1484" cy="359" r="5.4"/><circle cx="1537" cy="357" r="5.4"/><circle cx="1518" cy="339" r="5.4"/><circle cx="1530" cy="364" r="5.4"/><circle cx="1479" cy="370" r="5.4"/><circle cx="1507" cy="364" r="5.4"/><circle cx="1512" cy="335" r="5.4"/><circle cx="1517" cy="369" r="5.4"/><circle cx="1507" cy="370" r="5.4"/><circle cx="1504" cy="340" r="5.4"/><circle cx="1534" cy="336" r="5.4"/><circle cx="1478" cy="355" r="5.4"/><circle cx="1513" cy="328" r="5.4"/><circle cx="1479" cy="363" r="5.4"/><circle cx="1506" cy="328" r="5.4"/><circle cx="1543" cy="382" r="5.4"/><circle cx="1554" cy="359" r="5.4"/><circle cx="1484" cy="342" r="5.4"/><circle cx="1543" cy="352" r="5.4"/><circle cx="1488" cy="371" r="5.4"/><circle cx="1541" cy="336" r="5.4"/><circle cx="1492" cy="376" r="5.4"/><circle cx="1488" cy="364" r="5.4"/><circle cx="1506" cy="386" r="5.4"/><circle cx="1491" cy="351" r="5.4"/><circle cx="1504" cy="377" r="5.4"/><circle cx="1537" cy="333" r="5.4"/><circle cx="1488" cy="366" r="5.4"/><circle cx="1509" cy="372" r="5.4"/><circle cx="1501" cy="352" r="5.4"/><circle cx="1542" cy="372" r="5.4"/><circle cx="1497" cy="388" r="5.4"/><circle cx="1535" cy="331" r="5.4"/><circle cx="1526" cy="390" r="5.4"/><circle cx="1538" cy="346" r="5.4"/><circle cx="1519" cy="359" r="5.4"/><circle cx="1484" cy="358" r="5.4"/><circle cx="1545" cy="358" r="5.4"/><circle cx="1485" cy="355" r="5.4"/><circle cx="1489" cy="376" r="5.4"/><circle cx="1494" cy="346" r="5.4"/><circle cx="1538" cy="351" r="5.4"/><circle cx="1481" cy="354" r="5.4"/><circle cx="1536" cy="403" r="5.4"/><circle cx="1530" cy="397" r="5.4"/><circle cx="1550" cy="394" r="5.4"/><circle cx="1523" cy="401" r="5.4"/><circle cx="1532" cy="395" r="5.4"/><circle cx="1586" cy="443" r="5.4"/><circle cx="1607" cy="423" r="5.4"/><circle cx="1596" cy="437" r="5.4"/><circle cx="1612" cy="420" r="5.4"/><circle cx="1614" cy="438" r="5.4"/><circle cx="1591" cy="420" r="5.4"/><circle cx="1623" cy="431" r="5.4"/><circle cx="1579" cy="438" r="5.4"/></g><g fill="#2ca02c" stroke="#fff" stroke-width="0.8"><circle cx="1465" cy="450" r="5.4"/><circle cx="1437" cy="437" r="5.4"/><circle cx="1478" cy="451" r="5.4"/><circle cx="1441" cy="423" r="5.4"/><circle cx="1497" cy="437" r="5.4"/><circle cx="1505" cy="445" r="5.4"/><circle cx="1477" cy="418" r="5.4"/><circle cx="1461" cy="421" r="5.4"/><circle cx="1469" cy="440" r="5.4"/><circle cx="1434" cy="423" r="5.4"/><circle cx="1482" cy="463" r="5.4"/><circle cx="1439" cy="431" r="5.4"/><circle cx="1456" cy="425" r="5.4"/><circle cx="1504" cy="438" r="5.4"/><circle cx="1440" cy="451" r="5.4"/><circle cx="1479" cy="447" r="5.4"/><circle cx="1501" cy="455" r="5.4"/><circle cx="1477" cy="447" r="5.4"/><circle cx="1485" cy="417" r="5.4"/><circle cx="1483" cy="414" r="5.4"/><circle cx="1481" cy="439" r="5.4"/><circle cx="1452" cy="463" r="5.4"/><circle cx="1446" cy="460" r="5.4"/><circle cx="1468" cy="451" r="5.4"/><circle cx="1482" cy="432" r="5.4"/><circle cx="1450" cy="458" r="5.4"/><circle cx="1447" cy="452" r="5.4"/><circle cx="1478" cy="433" r="5.4"/><circle cx="1504" cy="432" r="5.4"/><circle cx="1448" cy="423" r="5.4"/><circle cx="1492" cy="442" r="5.4"/><circle cx="1497" cy="413" r="5.4"/><circle cx="1491" cy="427" r="5.4"/><circle cx="1456" cy="465" r="5.4"/><circle cx="1505" cy="432" r="5.4"/><circle cx="1501" cy="431" r="5.4"/><circle cx="1453" cy="448" r="5.4"/><circle cx="1477" cy="465" r="5.4"/><circle cx="1488" cy="425" r="5.4"/><circle cx="1478" cy="416" r="5.4"/><circle cx="1480" cy="452" r="5.4"/><circle cx="1481" cy="456" r="5.4"/><circle cx="1459" cy="469" r="5.4"/><circle cx="1496" cy="454" r="5.4"/><circle cx="1445" cy="453" r="5.4"/><circle cx="1497" cy="446" r="5.4"/><circle cx="1477" cy="428" r="5.4"/><circle cx="1471" cy="457" r="5.4"/><circle cx="1466" cy="452" r="5.4"/><circle cx="1492" cy="441" r="5.4"/><circle cx="1450" cy="460" r="5.4"/><circle cx="1465" cy="426" r="5.4"/><circle cx="1468" cy="448" r="5.4"/><circle cx="1499" cy="459" r="5.4"/><circle cx="1486" cy="420" r="5.4"/><circle cx="1492" cy="462" r="5.4"/><circle cx="1465" cy="419" r="5.4"/><circle cx="1497" cy="433" r="5.4"/><circle cx="1490" cy="434" r="5.4"/><circle cx="1475" cy="461" r="5.4"/><circle cx="1491" cy="454" r="5.4"/><circle cx="1467" cy="465" r="5.4"/><circle cx="1433" cy="422" r="5.4"/><circle cx="1471" cy="458" r="5.4"/><circle cx="1478" cy="462" r="5.4"/><circle cx="1501" cy="459" r="5.4"/><circle cx="1438" cy="432" r="5.4"/><circle cx="1473" cy="421" r="5.4"/><circle cx="1454" cy="421" r="5.4"/><circle cx="1457" cy="461" r="5.4"/><circle cx="1495" cy="448" r="5.4"/><circle cx="1481" cy="427" r="5.4"/><circle cx="1456" cy="422" r="5.4"/><circle cx="1456" cy="434" r="5.4"/><circle cx="1442" cy="438" r="5.4"/><circle cx="1493" cy="445" r="5.4"/><circle cx="1474" cy="456" r="5.4"/><circle cx="1467" cy="427" r="5.4"/><circle cx="1450" cy="448" r="5.4"/><circle cx="1477" cy="408" r="5.4"/><circle cx="1498" cy="415" r="5.4"/><circle cx="1467" cy="450" r="5.4"/><circle cx="1467" cy="433" r="5.4"/><circle cx="1448" cy="459" r="5.4"/><circle cx="1454" cy="421" r="5.4"/><circle cx="1590" cy="404" r="5.4"/><circle cx="1577" cy="402" r="5.4"/><circle cx="1598" cy="402" r="5.4"/><circle cx="1597" cy="381" r="5.4"/><circle cx="1585" cy="366" r="5.4"/><circle cx="1594" cy="386" r="5.4"/><circle cx="1593" cy="394" r="5.4"/><circle cx="1581" cy="394" r="5.4"/><circle cx="1588" cy="389" r="5.4"/><circle cx="1625" cy="352" r="5.4"/><circle cx="1591" cy="341" r="5.4"/><circle cx="1614" cy="353" r="5.4"/></g><g fill="#ff7f0e" stroke="#fff" stroke-width="0.8"><circle cx="1701" cy="377" r="5.4"/><circle cx="1746" cy="402" r="5.4"/><circle cx="1723" cy="365" r="5.4"/><circle cx="1742" cy="408" r="5.4"/><circle cx="1677" cy="378" r="5.4"/><circle cx="1715" cy="411" r="5.4"/><circle cx="1720" cy="389" r="5.4"/><circle cx="1736" cy="392" r="5.4"/><circle cx="1754" cy="420" r="5.4"/><circle cx="1680" cy="423" r="5.4"/><circle cx="1737" cy="370" r="5.4"/><circle cx="1739" cy="414" r="5.4"/><circle cx="1669" cy="421" r="5.4"/><circle cx="1697" cy="365" r="5.4"/><circle cx="1737" cy="371" r="5.4"/><circle cx="1675" cy="412" r="5.4"/><circle cx="1711" cy="393" r="5.4"/><circle cx="1680" cy="400" r="5.4"/><circle cx="1750" cy="431" r="5.4"/><circle cx="1759" cy="412" r="5.4"/><circle cx="1730" cy="369" r="5.4"/><circle cx="1689" cy="396" r="5.4"/><circle cx="1681" cy="371" r="5.4"/><circle cx="1715" cy="433" r="5.4"/><circle cx="1707" cy="410" r="5.4"/><circle cx="1725" cy="427" r="5.4"/><circle cx="1734" cy="419" r="5.4"/><circle cx="1694" cy="371" r="5.4"/><circle cx="1716" cy="422" r="5.4"/><circle cx="1679" cy="412" r="5.4"/><circle cx="1685" cy="434" r="5.4"/><circle cx="1737" cy="387" r="5.4"/><circle cx="1697" cy="396" r="5.4"/><circle cx="1727" cy="380" r="5.4"/><circle cx="1718" cy="371" r="5.4"/><circle cx="1704" cy="387" r="5.4"/><circle cx="1675" cy="410" r="5.4"/><circle cx="1738" cy="370" r="5.4"/><circle cx="1711" cy="416" r="5.4"/><circle cx="1724" cy="426" r="5.4"/><circle cx="1712" cy="412" r="5.4"/><circle cx="1708" cy="384" r="5.4"/><circle cx="1742" cy="420" r="5.4"/><circle cx="1685" cy="407" r="5.4"/><circle cx="1731" cy="424" r="5.4"/><circle cx="1729" cy="403" r="5.4"/><circle cx="1715" cy="361" r="5.4"/><circle cx="1712" cy="390" r="5.4"/><circle cx="1667" cy="386" r="5.4"/><circle cx="1698" cy="403" r="5.4"/><circle cx="1728" cy="427" r="5.4"/><circle cx="1754" cy="404" r="5.4"/><circle cx="1684" cy="371" r="5.4"/><circle cx="1753" cy="389" r="5.4"/><circle cx="1715" cy="435" r="5.4"/><circle cx="1732" cy="418" r="5.4"/><circle cx="1716" cy="395" r="5.4"/><circle cx="1701" cy="438" r="5.4"/><circle cx="1700" cy="388" r="5.4"/><circle cx="1759" cy="385" r="5.4"/><circle cx="1720" cy="385" r="5.4"/><circle cx="1713" cy="364" r="5.4"/><circle cx="1727" cy="424" r="5.4"/><circle cx="1694" cy="436" r="5.4"/><circle cx="1685" cy="394" r="5.4"/><circle cx="1731" cy="380" r="5.4"/><circle cx="1740" cy="407" r="5.4"/><circle cx="1687" cy="380" r="5.4"/><circle cx="1702" cy="366" r="5.4"/><circle cx="1762" cy="389" r="5.4"/><circle cx="1678" cy="402" r="5.4"/><circle cx="1709" cy="418" r="5.4"/><circle cx="1750" cy="417" r="5.4"/><circle cx="1738" cy="431" r="5.4"/><circle cx="1750" cy="397" r="5.4"/><circle cx="1730" cy="405" r="5.4"/><circle cx="1728" cy="428" r="5.4"/><circle cx="1760" cy="403" r="5.4"/><circle cx="1745" cy="372" r="5.4"/><circle cx="1673" cy="419" r="5.4"/><circle cx="1700" cy="383" r="5.4"/><circle cx="1682" cy="416" r="5.4"/><circle cx="1686" cy="411" r="5.4"/><circle cx="1735" cy="372" r="5.4"/><circle cx="1741" cy="436" r="5.4"/><circle cx="1688" cy="410" r="5.4"/><circle cx="1692" cy="427" r="5.4"/><circle cx="1735" cy="411" r="5.4"/><circle cx="1686" cy="408" r="5.4"/><circle cx="1759" cy="380" r="5.4"/><circle cx="1764" cy="396" r="5.4"/><circle cx="1677" cy="374" r="5.4"/><circle cx="1759" cy="416" r="5.4"/><circle cx="1681" cy="380" r="5.4"/><circle cx="1689" cy="392" r="5.4"/><circle cx="1664" cy="407" r="5.4"/><circle cx="1702" cy="434" r="5.4"/><circle cx="1738" cy="386" r="5.4"/><circle cx="1718" cy="408" r="5.4"/><circle cx="1674" cy="413" r="5.4"/><circle cx="1648" cy="416" r="5.4"/><circle cx="1643" cy="415" r="5.4"/><circle cx="1641" cy="417" r="5.4"/><circle cx="1642" cy="422" r="5.4"/><circle cx="1695" cy="473" r="5.4"/><circle cx="1659" cy="467" r="5.4"/></g><g fill="#1f77b4" stroke="#fff" stroke-width="0.8"><circle cx="1864" cy="493" r="5.4"/><circle cx="1873" cy="512" r="5.4"/><circle cx="1855" cy="529" r="5.4"/><circle cx="1826" cy="493" r="5.4"/><circle cx="1836" cy="494" r="5.4"/><circle cx="1840" cy="501" r="5.4"/><circle cx="1884" cy="516" r="5.4"/><circle cx="1880" cy="512" r="5.4"/><circle cx="1874" cy="484" r="5.4"/><circle cx="1848" cy="475" r="5.4"/><circle cx="1884" cy="523" r="5.4"/><circle cx="1847" cy="466" r="5.4"/><circle cx="1862" cy="492" r="5.4"/><circle cx="1868" cy="522" r="5.4"/><circle cx="1815" cy="488" r="5.4"/><circle cx="1880" cy="527" r="5.4"/><circle cx="1891" cy="513" r="5.4"/><circle cx="1840" cy="515" r="5.4"/><circle cx="1851" cy="499" r="5.4"/><circle cx="1849" cy="518" r="5.4"/><circle cx="1822" cy="516" r="5.4"/><circle cx="1825" cy="478" r="5.4"/><circle cx="1817" cy="489" r="5.4"/><circle cx="1884" cy="476" r="5.4"/><circle cx="1854" cy="487" r="5.4"/><circle cx="1857" cy="481" r="5.4"/><circle cx="1871" cy="475" r="5.4"/><circle cx="1844" cy="511" r="5.4"/><circle cx="1891" cy="492" r="5.4"/><circle cx="1891" cy="510" r="5.4"/><circle cx="1883" cy="519" r="5.4"/><circle cx="1866" cy="476" r="5.4"/><circle cx="1868" cy="496" r="5.4"/><circle cx="1854" cy="532" r="5.4"/><circle cx="1837" cy="507" r="5.4"/><circle cx="1820" cy="486" r="5.4"/><circle cx="1870" cy="504" r="5.4"/><circle cx="1860" cy="490" r="5.4"/><circle cx="1837" cy="497" r="5.4"/><circle cx="1846" cy="484" r="5.4"/><circle cx="1872" cy="520" r="5.4"/><circle cx="1815" cy="494" r="5.4"/><circle cx="1868" cy="473" r="5.4"/><circle cx="1897" cy="505" r="5.4"/><circle cx="1870" cy="519" r="5.4"/><circle cx="1877" cy="483" r="5.4"/><circle cx="1893" cy="509" r="5.4"/><circle cx="1863" cy="488" r="5.4"/><circle cx="1827" cy="521" r="5.4"/><circle cx="1871" cy="523" r="5.4"/><circle cx="1824" cy="523" r="5.4"/><circle cx="1824" cy="480" r="5.4"/><circle cx="1849" cy="511" r="5.4"/><circle cx="1871" cy="491" r="5.4"/><circle cx="1887" cy="510" r="5.4"/><circle cx="1843" cy="514" r="5.4"/><circle cx="1829" cy="490" r="5.4"/><circle cx="1838" cy="520" r="5.4"/><circle cx="1852" cy="501" r="5.4"/><circle cx="1880" cy="505" r="5.4"/><circle cx="1885" cy="500" r="5.4"/><circle cx="1861" cy="508" r="5.4"/><circle cx="1850" cy="532" r="5.4"/><circle cx="1832" cy="502" r="5.4"/><circle cx="1835" cy="494" r="5.4"/><circle cx="1886" cy="495" r="5.4"/><circle cx="1898" cy="510" r="5.4"/><circle cx="1859" cy="475" r="5.4"/><circle cx="1861" cy="468" r="5.4"/><circle cx="1832" cy="480" r="5.4"/><circle cx="1850" cy="524" r="5.4"/><circle cx="1882" cy="478" r="5.4"/><circle cx="1837" cy="470" r="5.4"/><circle cx="1857" cy="482" r="5.4"/><circle cx="1817" cy="500" r="5.4"/><circle cx="1834" cy="526" r="5.4"/><circle cx="1828" cy="517" r="5.4"/><circle cx="1849" cy="510" r="5.4"/><circle cx="1880" cy="500" r="5.4"/><circle cx="1835" cy="521" r="5.4"/><circle cx="1857" cy="520" r="5.4"/><circle cx="1872" cy="518" r="5.4"/><circle cx="1858" cy="500" r="5.4"/><circle cx="1827" cy="510" r="5.4"/><circle cx="1844" cy="528" r="5.4"/><circle cx="1792" cy="471" r="5.4"/><circle cx="1766" cy="472" r="5.4"/><circle cx="1738" cy="469" r="5.4"/><circle cx="1751" cy="474" r="5.4"/><circle cx="1737" cy="468" r="5.4"/><circle cx="1835" cy="446" r="5.4"/><circle cx="1625" cy="523" r="5.4"/><circle cx="1573" cy="520" r="5.4"/></g><g fill="#d62728" stroke="#fff" stroke-width="0.8"><circle cx="1690" cy="555" r="5.4"/><circle cx="1659" cy="534" r="5.4"/><circle cx="1675" cy="538" r="5.4"/><circle cx="1643" cy="558" r="5.4"/><circle cx="1648" cy="594" r="5.4"/><circle cx="1678" cy="560" r="5.4"/><circle cx="1653" cy="573" r="5.4"/><circle cx="1663" cy="589" r="5.4"/><circle cx="1664" cy="581" r="5.4"/><circle cx="1678" cy="534" r="5.4"/><circle cx="1667" cy="587" r="5.4"/><circle cx="1693" cy="549" r="5.4"/><circle cx="1686" cy="571" r="5.4"/><circle cx="1684" cy="532" r="5.4"/><circle cx="1673" cy="574" r="5.4"/><circle cx="1636" cy="553" r="5.4"/><circle cx="1628" cy="529" r="5.4"/><circle cx="1665" cy="594" r="5.4"/><circle cx="1655" cy="535" r="5.4"/><circle cx="1624" cy="575" r="5.4"/><circle cx="1635" cy="584" r="5.4"/><circle cx="1646" cy="562" r="5.4"/><circle cx="1648" cy="551" r="5.4"/><circle cx="1628" cy="558" r="5.4"/><circle cx="1653" cy="587" r="5.4"/><circle cx="1686" cy="559" r="5.4"/><circle cx="1614" cy="542" r="5.4"/><circle cx="1698" cy="570" r="5.4"/><circle cx="1649" cy="527" r="5.4"/><circle cx="1677" cy="569" r="5.4"/><circle cx="1666" cy="569" r="5.4"/><circle cx="1689" cy="575" r="5.4"/><circle cx="1618" cy="573" r="5.4"/><circle cx="1626" cy="542" r="5.4"/><circle cx="1636" cy="533" r="5.4"/><circle cx="1638" cy="583" r="5.4"/><circle cx="1653" cy="591" r="5.4"/><circle cx="1658" cy="524" r="5.4"/><circle cx="1640" cy="589" r="5.4"/><circle cx="1695" cy="552" r="5.4"/><circle cx="1650" cy="583" r="5.4"/><circle cx="1686" cy="547" r="5.4"/><circle cx="1672" cy="558" r="5.4"/><circle cx="1637" cy="535" r="5.4"/><circle cx="1629" cy="583" r="5.4"/><circle cx="1661" cy="596" r="5.4"/><circle cx="1689" cy="575" r="5.4"/><circle cx="1660" cy="562" r="5.4"/><circle cx="1644" cy="557" r="5.4"/><circle cx="1669" cy="584" r="5.4"/><circle cx="1625" cy="585" r="5.4"/><circle cx="1663" cy="571" r="5.4"/><circle cx="1690" cy="541" r="5.4"/><circle cx="1673" cy="560" r="5.4"/><circle cx="1657" cy="591" r="5.4"/><circle cx="1609" cy="557" r="5.4"/><circle cx="1635" cy="583" r="5.4"/><circle cx="1615" cy="566" r="5.4"/><circle cx="1677" cy="544" r="5.4"/><circle cx="1653" cy="544" r="5.4"/><circle cx="1648" cy="549" r="5.4"/><circle cx="1674" cy="538" r="5.4"/><circle cx="1645" cy="553" r="5.4"/><circle cx="1681" cy="545" r="5.4"/><circle cx="1624" cy="530" r="5.4"/><circle cx="1655" cy="576" r="5.4"/><circle cx="1633" cy="565" r="5.4"/><circle cx="1661" cy="575" r="5.4"/><circle cx="1630" cy="530" r="5.4"/><circle cx="1680" cy="556" r="5.4"/><circle cx="1636" cy="549" r="5.4"/><circle cx="1667" cy="545" r="5.4"/><circle cx="1650" cy="593" r="5.4"/><circle cx="1673" cy="527" r="5.4"/><circle cx="1643" cy="575" r="5.4"/><circle cx="1680" cy="540" r="5.4"/><circle cx="1647" cy="543" r="5.4"/><circle cx="1621" cy="566" r="5.4"/><circle cx="1681" cy="537" r="5.4"/><circle cx="1671" cy="545" r="5.4"/><circle cx="1660" cy="534" r="5.4"/><circle cx="1673" cy="590" r="5.4"/><circle cx="1698" cy="556" r="5.4"/><circle cx="1680" cy="560" r="5.4"/><circle cx="1670" cy="555" r="5.4"/><circle cx="1659" cy="555" r="5.4"/><circle cx="1653" cy="542" r="5.4"/><circle cx="1662" cy="568" r="5.4"/><circle cx="1687" cy="574" r="5.4"/><circle cx="1678" cy="546" r="5.4"/><circle cx="1684" cy="535" r="5.4"/><circle cx="1700" cy="565" r="5.4"/><circle cx="1661" cy="539" r="5.4"/><circle cx="1692" cy="565" r="5.4"/><circle cx="1659" cy="585" r="5.4"/><circle cx="1583" cy="551" r="5.4"/><circle cx="1581" cy="545" r="5.4"/><circle cx="1582" cy="540" r="5.4"/><circle cx="1578" cy="545" r="5.4"/><circle cx="1579" cy="469" r="5.4"/><circle cx="1584" cy="466" r="5.4"/><circle cx="1589" cy="466" r="5.4"/></g><g fill="#8c564b" stroke="#fff" stroke-width="0.8"><circle cx="405" cy="712" r="5.4"/><circle cx="469" cy="676" r="5.4"/><circle cx="433" cy="641" r="5.4"/><circle cx="455" cy="699" r="5.4"/><circle cx="470" cy="689" r="5.4"/><circle cx="427" cy="680" r="5.4"/><circle cx="402" cy="671" r="5.4"/><circle cx="478" cy="682" r="5.4"/><circle cx="410" cy="652" r="5.4"/><circle cx="396" cy="671" r="5.4"/><circle cx="492" cy="676" r="5.4"/><circle cx="428" cy="642" r="5.4"/><circle cx="423" cy="704" r="5.4"/><circle cx="480" cy="675" r="5.4"/><circle cx="410" cy="697" r="5.4"/><circle cx="465" cy="701" r="5.4"/><circle cx="503" cy="681" r="5.4"/><circle cx="484" cy="666" r="5.4"/><circle cx="416" cy="667" r="5.4"/><circle cx="442" cy="705" r="5.4"/><circle cx="461" cy="692" r="5.4"/><circle cx="452" cy="643" r="5.4"/><circle cx="497" cy="692" r="5.4"/><circle cx="416" cy="711" r="5.4"/><circle cx="392" cy="670" r="5.4"/><circle cx="475" cy="676" r="5.4"/><circle cx="440" cy="679" r="5.4"/><circle cx="382" cy="678" r="5.4"/><circle cx="489" cy="679" r="5.4"/><circle cx="419" cy="665" r="5.4"/><circle cx="401" cy="705" r="5.4"/><circle cx="398" cy="702" r="5.4"/><circle cx="405" cy="660" r="5.4"/><circle cx="417" cy="711" r="5.4"/><circle cx="392" cy="671" r="5.4"/><circle cx="417" cy="667" r="5.4"/><circle cx="467" cy="668" r="5.4"/><circle cx="432" cy="652" r="5.4"/><circle cx="395" cy="684" r="5.4"/><circle cx="459" cy="695" r="5.4"/><circle cx="380" cy="673" r="5.4"/><circle cx="395" cy="675" r="5.4"/><circle cx="444" cy="717" r="5.4"/><circle cx="451" cy="665" r="5.4"/><circle cx="413" cy="658" r="5.4"/><circle cx="485" cy="657" r="5.4"/><circle cx="497" cy="690" r="5.4"/><circle cx="459" cy="658" r="5.4"/><circle cx="481" cy="706" r="5.4"/><circle cx="440" cy="696" r="5.4"/><circle cx="427" cy="690" r="5.4"/><circle cx="384" cy="675" r="5.4"/><circle cx="476" cy="695" r="5.4"/><circle cx="480" cy="680" r="5.4"/><circle cx="390" cy="691" r="5.4"/><circle cx="453" cy="653" r="5.4"/><circle cx="472" cy="709" r="5.4"/><circle cx="405" cy="705" r="5.4"/><circle cx="444" cy="710" r="5.4"/><circle cx="419" cy="701" r="5.4"/><circle cx="479" cy="683" r="5.4"/><circle cx="414" cy="672" r="5.4"/><circle cx="447" cy="689" r="5.4"/><circle cx="432" cy="715" r="5.4"/><circle cx="442" cy="704" r="5.4"/><circle cx="489" cy="701" r="5.4"/><circle cx="472" cy="654" r="5.4"/><circle cx="415" cy="689" r="5.4"/><circle cx="398" cy="655" r="5.4"/><circle cx="477" cy="687" r="5.4"/><circle cx="412" cy="700" r="5.4"/><circle cx="425" cy="714" r="5.4"/><circle cx="416" cy="659" r="5.4"/><circle cx="406" cy="710" r="5.4"/><circle cx="405" cy="668" r="5.4"/><circle cx="462" cy="717" r="5.4"/><circle cx="425" cy="640" r="5.4"/><circle cx="420" cy="658" r="5.4"/><circle cx="473" cy="690" r="5.4"/><circle cx="400" cy="705" r="5.4"/><circle cx="394" cy="681" r="5.4"/><circle cx="443" cy="641" r="5.4"/><circle cx="432" cy="676" r="5.4"/><circle cx="398" cy="687" r="5.4"/><circle cx="390" cy="699" r="5.4"/><circle cx="715" cy="656" r="5.4"/><circle cx="681" cy="660" r="5.4"/><circle cx="537" cy="693" r="5.4"/><circle cx="529" cy="691" r="5.4"/><circle cx="544" cy="702" r="5.4"/><circle cx="512" cy="697" r="5.4"/><circle cx="466" cy="789" r="5.4"/><circle cx="483" cy="783" r="5.4"/><circle cx="508" cy="779" r="5.4"/></g><g fill="#9467bd" stroke="#fff" stroke-width="0.8"><circle cx="608" cy="708" r="5.4"/><circle cx="604" cy="752" r="5.4"/><circle cx="608" cy="731" r="5.4"/><circle cx="619" cy="746" r="5.4"/><circle cx="543" cy="727" r="5.4"/><circle cx="593" cy="732" r="5.4"/><circle cx="540" cy="743" r="5.4"/><circle cx="594" cy="732" r="5.4"/><circle cx="560" cy="728" r="5.4"/><circle cx="629" cy="706" r="5.4"/><circle cx="641" cy="767" r="5.4"/><circle cx="559" cy="738" r="5.4"/><circle cx="606" cy="740" r="5.4"/><circle cx="597" cy="759" r="5.4"/><circle cx="599" cy="761" r="5.4"/><circle cx="538" cy="728" r="5.4"/><circle cx="555" cy="753" r="5.4"/><circle cx="595" cy="748" r="5.4"/><circle cx="621" cy="708" r="5.4"/><circle cx="597" cy="774" r="5.4"/><circle cx="630" cy="745" r="5.4"/><circle cx="563" cy="759" r="5.4"/><circle cx="552" cy="742" r="5.4"/><circle cx="564" cy="761" r="5.4"/><circle cx="620" cy="771" r="5.4"/><circle cx="536" cy="728" r="5.4"/><circle cx="594" cy="748" r="5.4"/><circle cx="556" cy="755" r="5.4"/><circle cx="576" cy="765" r="5.4"/><circle cx="611" cy="722" r="5.4"/><circle cx="591" cy="721" r="5.4"/><circle cx="547" cy="722" r="5.4"/><circle cx="644" cy="730" r="5.4"/><circle cx="634" cy="723" r="5.4"/><circle cx="584" cy="744" r="5.4"/><circle cx="654" cy="749" r="5.4"/><circle cx="660" cy="755" r="5.4"/><circle cx="623" cy="766" r="5.4"/><circle cx="537" cy="727" r="5.4"/><circle cx="536" cy="740" r="5.4"/><circle cx="573" cy="713" r="5.4"/><circle cx="609" cy="759" r="5.4"/><circle cx="640" cy="767" r="5.4"/><circle cx="618" cy="774" r="5.4"/><circle cx="619" cy="747" r="5.4"/><circle cx="660" cy="730" r="5.4"/><circle cx="575" cy="720" r="5.4"/><circle cx="630" cy="730" r="5.4"/><circle cx="633" cy="765" r="5.4"/><circle cx="594" cy="732" r="5.4"/><circle cx="608" cy="734" r="5.4"/><circle cx="604" cy="760" r="5.4"/><circle cx="577" cy="765" r="5.4"/><circle cx="630" cy="763" r="5.4"/><circle cx="569" cy="771" r="5.4"/><circle cx="638" cy="768" r="5.4"/><circle cx="663" cy="736" r="5.4"/><circle cx="644" cy="745" r="5.4"/><circle cx="572" cy="722" r="5.4"/><circle cx="568" cy="735" r="5.4"/><circle cx="579" cy="742" r="5.4"/><circle cx="545" cy="753" r="5.4"/><circle cx="644" cy="760" r="5.4"/><circle cx="647" cy="763" r="5.4"/><circle cx="668" cy="739" r="5.4"/><circle cx="532" cy="734" r="5.4"/><circle cx="578" cy="756" r="5.4"/><circle cx="538" cy="741" r="5.4"/><circle cx="657" cy="760" r="5.4"/><circle cx="633" cy="721" r="5.4"/><circle cx="547" cy="733" r="5.4"/><circle cx="614" cy="748" r="5.4"/><circle cx="629" cy="728" r="5.4"/><circle cx="609" cy="773" r="5.4"/><circle cx="667" cy="747" r="5.4"/><circle cx="654" cy="734" r="5.4"/><circle cx="639" cy="733" r="5.4"/><circle cx="655" cy="749" r="5.4"/><circle cx="561" cy="747" r="5.4"/><circle cx="598" cy="722" r="5.4"/><circle cx="607" cy="725" r="5.4"/><circle cx="635" cy="748" r="5.4"/><circle cx="644" cy="756" r="5.4"/><circle cx="613" cy="713" r="5.4"/><circle cx="547" cy="747" r="5.4"/><circle cx="515" cy="744" r="5.4"/><circle cx="515" cy="735" r="5.4"/><circle cx="511" cy="738" r="5.4"/><circle cx="508" cy="762" r="5.4"/><circle cx="532" cy="773" r="5.4"/><circle cx="531" cy="739" r="5.4"/><circle cx="529" cy="726" r="5.4"/><circle cx="493" cy="750" r="5.4"/><circle cx="604" cy="672" r="5.4"/><circle cx="608" cy="677" r="5.4"/><circle cx="592" cy="668" r="5.4"/><circle cx="554" cy="839" r="5.4"/><circle cx="563" cy="845" r="5.4"/></g><g fill="#ffbb78" stroke="#fff" stroke-width="0.8"><circle cx="697" cy="778" r="5.4"/><circle cx="693" cy="771" r="5.4"/><circle cx="687" cy="797" r="5.4"/><circle cx="695" cy="785" r="5.4"/><circle cx="742" cy="788" r="5.4"/><circle cx="743" cy="760" r="5.4"/><circle cx="758" cy="756" r="5.4"/><circle cx="728" cy="773" r="5.4"/><circle cx="732" cy="747" r="5.4"/><circle cx="700" cy="746" r="5.4"/><circle cx="720" cy="755" r="5.4"/><circle cx="718" cy="791" r="5.4"/><circle cx="710" cy="780" r="5.4"/><circle cx="707" cy="804" r="5.4"/><circle cx="776" cy="795" r="5.4"/><circle cx="725" cy="806" r="5.4"/><circle cx="731" cy="744" r="5.4"/><circle cx="774" cy="788" r="5.4"/><circle cx="692" cy="763" r="5.4"/><circle cx="786" cy="786" r="5.4"/><circle cx="701" cy="745" r="5.4"/><circle cx="686" cy="806" r="5.4"/><circle cx="660" cy="784" r="5.4"/><circle cx="786" cy="778" r="5.4"/><circle cx="663" cy="796" r="5.4"/><circle cx="757" cy="789" r="5.4"/><circle cx="717" cy="755" r="5.4"/><circle cx="753" cy="803" r="5.4"/><circle cx="746" cy="794" r="5.4"/><circle cx="726" cy="793" r="5.4"/><circle cx="759" cy="771" r="5.4"/><circle cx="738" cy="735" r="5.4"/><circle cx="672" cy="775" r="5.4"/><circle cx="771" cy="755" r="5.4"/><circle cx="681" cy="748" r="5.4"/><circle cx="698" cy="762" r="5.4"/><circle cx="734" cy="738" r="5.4"/><circle cx="716" cy="763" r="5.4"/><circle cx="741" cy="796" r="5.4"/><circle cx="688" cy="739" r="5.4"/><circle cx="759" cy="802" r="5.4"/><circle cx="778" cy="760" r="5.4"/><circle cx="718" cy="736" r="5.4"/><circle cx="740" cy="739" r="5.4"/><circle cx="671" cy="788" r="5.4"/><circle cx="733" cy="738" r="5.4"/><circle cx="700" cy="812" r="5.4"/><circle cx="654" cy="767" r="5.4"/><circle cx="770" cy="802" r="5.4"/><circle cx="736" cy="735" r="5.4"/><circle cx="738" cy="757" r="5.4"/><circle cx="731" cy="794" r="5.4"/><circle cx="724" cy="803" r="5.4"/><circle cx="761" cy="759" r="5.4"/><circle cx="706" cy="742" r="5.4"/><circle cx="729" cy="750" r="5.4"/><circle cx="695" cy="741" r="5.4"/><circle cx="751" cy="739" r="5.4"/><circle cx="758" cy="789" r="5.4"/><circle cx="749" cy="746" r="5.4"/><circle cx="687" cy="761" r="5.4"/><circle cx="737" cy="739" r="5.4"/><circle cx="715" cy="775" r="5.4"/><circle cx="727" cy="778" r="5.4"/><circle cx="666" cy="793" r="5.4"/><circle cx="668" cy="783" r="5.4"/><circle cx="729" cy="798" r="5.4"/><circle cx="743" cy="755" r="5.4"/><circle cx="706" cy="806" r="5.4"/><circle cx="717" cy="787" r="5.4"/><circle cx="666" cy="787" r="5.4"/><circle cx="740" cy="743" r="5.4"/><circle cx="710" cy="762" r="5.4"/><circle cx="726" cy="767" r="5.4"/><circle cx="716" cy="793" r="5.4"/><circle cx="676" cy="806" r="5.4"/><circle cx="745" cy="762" r="5.4"/><circle cx="762" cy="755" r="5.4"/><circle cx="677" cy="775" r="5.4"/><circle cx="653" cy="773" r="5.4"/><circle cx="745" cy="813" r="5.4"/><circle cx="753" cy="807" r="5.4"/><circle cx="770" cy="775" r="5.4"/><circle cx="747" cy="769" r="5.4"/><circle cx="737" cy="749" r="5.4"/><circle cx="586" cy="729" r="5.4"/><circle cx="586" cy="718" r="5.4"/><circle cx="557" cy="718" r="5.4"/><circle cx="625" cy="714" r="5.4"/><circle cx="578" cy="701" r="5.4"/><circle cx="838" cy="734" r="5.4"/></g><g fill="#ff9896" stroke="#fff" stroke-width="0.8"><circle cx="489" cy="806" r="5.4"/><circle cx="536" cy="807" r="5.4"/><circle cx="482" cy="790" r="5.4"/><circle cx="469" cy="842" r="5.4"/><circle cx="482" cy="784" r="5.4"/><circle cx="447" cy="816" r="5.4"/><circle cx="533" cy="811" r="5.4"/><circle cx="507" cy="805" r="5.4"/><circle cx="457" cy="801" r="5.4"/><circle cx="500" cy="783" r="5.4"/><circle cx="493" cy="770" r="5.4"/><circle cx="547" cy="824" r="5.4"/><circle cx="521" cy="836" r="5.4"/><circle cx="542" cy="785" r="5.4"/><circle cx="482" cy="805" r="5.4"/><circle cx="540" cy="826" r="5.4"/><circle cx="499" cy="785" r="5.4"/><circle cx="491" cy="853" r="5.4"/><circle cx="488" cy="856" r="5.4"/><circle cx="464" cy="832" r="5.4"/><circle cx="468" cy="777" r="5.4"/><circle cx="478" cy="776" r="5.4"/><circle cx="533" cy="808" r="5.4"/><circle cx="483" cy="777" r="5.4"/><circle cx="515" cy="837" r="5.4"/><circle cx="519" cy="782" r="5.4"/><circle cx="472" cy="850" r="5.4"/><circle cx="479" cy="813" r="5.4"/><circle cx="527" cy="854" r="5.4"/><circle cx="523" cy="851" r="5.4"/><circle cx="529" cy="824" r="5.4"/><circle cx="478" cy="833" r="5.4"/><circle cx="553" cy="804" r="5.4"/><circle cx="491" cy="834" r="5.4"/><circle cx="517" cy="859" r="5.4"/><circle cx="471" cy="825" r="5.4"/><circle cx="499" cy="831" r="5.4"/><circle cx="474" cy="835" r="5.4"/><circle cx="494" cy="862" r="5.4"/><circle cx="521" cy="803" r="5.4"/><circle cx="519" cy="787" r="5.4"/><circle cx="508" cy="777" r="5.4"/><circle cx="518" cy="837" r="5.4"/><circle cx="453" cy="823" r="5.4"/><circle cx="480" cy="783" r="5.4"/><circle cx="492" cy="856" r="5.4"/><circle cx="529" cy="801" r="5.4"/><circle cx="490" cy="849" r="5.4"/><circle cx="497" cy="853" r="5.4"/><circle cx="547" cy="826" r="5.4"/><circle cx="454" cy="797" r="5.4"/><circle cx="531" cy="804" r="5.4"/><circle cx="501" cy="840" r="5.4"/><circle cx="486" cy="811" r="5.4"/><circle cx="479" cy="777" r="5.4"/><circle cx="513" cy="786" r="5.4"/><circle cx="494" cy="830" r="5.4"/><circle cx="543" cy="807" r="5.4"/><circle cx="484" cy="779" r="5.4"/><circle cx="462" cy="841" r="5.4"/><circle cx="497" cy="768" r="5.4"/><circle cx="475" cy="833" r="5.4"/><circle cx="471" cy="850" r="5.4"/><circle cx="516" cy="800" r="5.4"/><circle cx="460" cy="810" r="5.4"/><circle cx="537" cy="792" r="5.4"/><circle cx="489" cy="830" r="5.4"/><circle cx="488" cy="821" r="5.4"/><circle cx="523" cy="788" r="5.4"/><circle cx="460" cy="796" r="5.4"/><circle cx="469" cy="801" r="5.4"/><circle cx="516" cy="794" r="5.4"/><circle cx="526" cy="779" r="5.4"/><circle cx="490" cy="798" r="5.4"/><circle cx="452" cy="815" r="5.4"/><circle cx="542" cy="788" r="5.4"/><circle cx="521" cy="777" r="5.4"/><circle cx="532" cy="788" r="5.4"/><circle cx="494" cy="798" r="5.4"/><circle cx="465" cy="789" r="5.4"/><circle cx="526" cy="825" r="5.4"/><circle cx="519" cy="781" r="5.4"/><circle cx="507" cy="840" r="5.4"/><circle cx="522" cy="828" r="5.4"/><circle cx="545" cy="809" r="5.4"/><circle cx="469" cy="848" r="5.4"/><circle cx="541" cy="833" r="5.4"/><circle cx="477" cy="854" r="5.4"/><circle cx="498" cy="813" r="5.4"/><circle cx="497" cy="833" r="5.4"/></g><g fill="#c49c94" stroke="#fff" stroke-width="0.8"><circle cx="664" cy="863" r="5.4"/><circle cx="698" cy="838" r="5.4"/><circle cx="686" cy="855" r="5.4"/><circle cx="684" cy="870" r="5.4"/><circle cx="651" cy="881" r="5.4"/><circle cx="644" cy="853" r="5.4"/><circle cx="689" cy="846" r="5.4"/><circle cx="697" cy="848" r="5.4"/><circle cx="620" cy="854" r="5.4"/><circle cx="682" cy="855" r="5.4"/><circle cx="668" cy="860" r="5.4"/><circle cx="721" cy="868" r="5.4"/><circle cx="671" cy="836" r="5.4"/><circle cx="637" cy="874" r="5.4"/><circle cx="638" cy="848" r="5.4"/><circle cx="702" cy="849" r="5.4"/><circle cx="703" cy="831" r="5.4"/><circle cx="648" cy="887" r="5.4"/><circle cx="742" cy="873" r="5.4"/><circle cx="712" cy="876" r="5.4"/><circle cx="661" cy="841" r="5.4"/><circle cx="624" cy="867" r="5.4"/><circle cx="695" cy="877" r="5.4"/><circle cx="671" cy="879" r="5.4"/><circle cx="677" cy="846" r="5.4"/><circle cx="634" cy="868" r="5.4"/><circle cx="671" cy="847" r="5.4"/><circle cx="677" cy="874" r="5.4"/><circle cx="664" cy="838" r="5.4"/><circle cx="679" cy="829" r="5.4"/><circle cx="739" cy="845" r="5.4"/><circle cx="669" cy="834" r="5.4"/><circle cx="685" cy="867" r="5.4"/><circle cx="685" cy="857" r="5.4"/><circle cx="640" cy="841" r="5.4"/><circle cx="658" cy="873" r="5.4"/><circle cx="661" cy="851" r="5.4"/><circle cx="656" cy="889" r="5.4"/><circle cx="687" cy="866" r="5.4"/><circle cx="713" cy="849" r="5.4"/><circle cx="621" cy="868" r="5.4"/><circle cx="697" cy="866" r="5.4"/><circle cx="685" cy="848" r="5.4"/><circle cx="727" cy="859" r="5.4"/><circle cx="698" cy="832" r="5.4"/><circle cx="701" cy="841" r="5.4"/><circle cx="699" cy="867" r="5.4"/><circle cx="628" cy="859" r="5.4"/><circle cx="680" cy="874" r="5.4"/><circle cx="688" cy="858" r="5.4"/><circle cx="735" cy="851" r="5.4"/><circle cx="617" cy="872" r="5.4"/><circle cx="636" cy="878" r="5.4"/><circle cx="714" cy="837" r="5.4"/><circle cx="705" cy="861" r="5.4"/><circle cx="653" cy="853" r="5.4"/><circle cx="722" cy="861" r="5.4"/><circle cx="694" cy="832" r="5.4"/><circle cx="725" cy="866" r="5.4"/><circle cx="616" cy="854" r="5.4"/><circle cx="672" cy="867" r="5.4"/><circle cx="721" cy="844" r="5.4"/><circle cx="649" cy="843" r="5.4"/><circle cx="681" cy="874" r="5.4"/><circle cx="631" cy="880" r="5.4"/><circle cx="661" cy="855" r="5.4"/><circle cx="688" cy="870" r="5.4"/><circle cx="640" cy="849" r="5.4"/><circle cx="665" cy="836" r="5.4"/><circle cx="722" cy="868" r="5.4"/><circle cx="735" cy="869" r="5.4"/><circle cx="642" cy="872" r="5.4"/><circle cx="667" cy="835" r="5.4"/><circle cx="660" cy="848" r="5.4"/><circle cx="624" cy="865" r="5.4"/><circle cx="702" cy="854" r="5.4"/><circle cx="729" cy="869" r="5.4"/><circle cx="714" cy="859" r="5.4"/><circle cx="654" cy="869" r="5.4"/><circle cx="707" cy="835" r="5.4"/><circle cx="677" cy="835" r="5.4"/><circle cx="691" cy="863" r="5.4"/><circle cx="702" cy="831" r="5.4"/><circle cx="693" cy="862" r="5.4"/><circle cx="711" cy="854" r="5.4"/><circle cx="422" cy="744" r="5.4"/><circle cx="438" cy="763" r="5.4"/><circle cx="451" cy="753" r="5.4"/><circle cx="460" cy="758" r="5.4"/></g><g fill="#8c564b" stroke="#fff" stroke-width="0.8"><circle cx="1137" cy="659" r="5.4"/><circle cx="1154" cy="641" r="5.4"/><circle cx="1105" cy="647" r="5.4"/><circle cx="1149" cy="640" r="5.4"/><circle cx="1150" cy="663" r="5.4"/><circle cx="1124" cy="680" r="5.4"/><circle cx="1171" cy="661" r="5.4"/><circle cx="1184" cy="664" r="5.4"/><circle cx="1155" cy="637" r="5.4"/><circle cx="1163" cy="673" r="5.4"/><circle cx="1147" cy="681" r="5.4"/><circle cx="1164" cy="672" r="5.4"/><circle cx="1081" cy="652" r="5.4"/><circle cx="1163" cy="669" r="5.4"/><circle cx="1164" cy="641" r="5.4"/><circle cx="1178" cy="675" r="5.4"/><circle cx="1124" cy="676" r="5.4"/><circle cx="1165" cy="679" r="5.4"/><circle cx="1179" cy="657" r="5.4"/><circle cx="1185" cy="661" r="5.4"/><circle cx="1147" cy="665" r="5.4"/><circle cx="1096" cy="647" r="5.4"/><circle cx="1095" cy="665" r="5.4"/><circle cx="1107" cy="649" r="5.4"/><circle cx="1175" cy="649" r="5.4"/><circle cx="1149" cy="637" r="5.4"/><circle cx="1164" cy="637" r="5.4"/><circle cx="1183" cy="664" r="5.4"/><circle cx="1163" cy="642" r="5.4"/><circle cx="1162" cy="647" r="5.4"/><circle cx="1158" cy="656" r="5.4"/><circle cx="1125" cy="642" r="5.4"/><circle cx="1126" cy="673" r="5.4"/><circle cx="1120" cy="675" r="5.4"/><circle cx="1118" cy="663" r="5.4"/><circle cx="1103" cy="637" r="5.4"/><circle cx="1188" cy="659" r="5.4"/><circle cx="1127" cy="684" r="5.4"/><circle cx="1111" cy="667" r="5.4"/><circle cx="1136" cy="664" r="5.4"/><circle cx="1183" cy="648" r="5.4"/><circle cx="1139" cy="644" r="5.4"/><circle cx="1174" cy="644" r="5.4"/><circle cx="1085" cy="655" r="5.4"/><circle cx="1143" cy="652" r="5.4"/><circle cx="1113" cy="649" r="5.4"/><circle cx="1101" cy="656" r="5.4"/><circle cx="1165" cy="683" r="5.4"/><circle cx="1110" cy="644" r="5.4"/><circle cx="1174" cy="652" r="5.4"/><circle cx="1166" cy="651" r="5.4"/><circle cx="1182" cy="655" r="5.4"/><circle cx="1139" cy="668" r="5.4"/><circle cx="1161" cy="652" r="5.4"/><circle cx="1135" cy="663" r="5.4"/><circle cx="1184" cy="658" r="5.4"/><circle cx="1113" cy="664" r="5.4"/><circle cx="1118" cy="639" r="5.4"/><circle cx="1136" cy="636" r="5.4"/><circle cx="1134" cy="674" r="5.4"/><circle cx="1132" cy="656" r="5.4"/><circle cx="1133" cy="673" r="5.4"/><circle cx="1100" cy="639" r="5.4"/><circle cx="1110" cy="642" r="5.4"/><circle cx="1120" cy="640" r="5.4"/><circle cx="1164" cy="666" r="5.4"/><circle cx="1150" cy="661" r="5.4"/><circle cx="1157" cy="673" r="5.4"/><circle cx="1116" cy="660" r="5.4"/><circle cx="1139" cy="646" r="5.4"/><circle cx="1241" cy="699" r="5.4"/><circle cx="1204" cy="700" r="5.4"/><circle cx="1189" cy="700" r="5.4"/><circle cx="1257" cy="707" r="5.4"/><circle cx="1201" cy="718" r="5.4"/><circle cx="1266" cy="696" r="5.4"/><circle cx="1231" cy="721" r="5.4"/><circle cx="1239" cy="660" r="5.4"/><circle cx="1218" cy="718" r="5.4"/><circle cx="1227" cy="693" r="5.4"/><circle cx="1148" cy="748" r="5.4"/><circle cx="1106" cy="720" r="5.4"/><circle cx="1142" cy="747" r="5.4"/><circle cx="1141" cy="735" r="5.4"/></g><g fill="#ffbb78" stroke="#fff" stroke-width="0.8"><circle cx="916" cy="768" r="5.4"/><circle cx="916" cy="741" r="5.4"/><circle cx="986" cy="755" r="5.4"/><circle cx="964" cy="747" r="5.4"/><circle cx="981" cy="748" r="5.4"/><circle cx="954" cy="734" r="5.4"/><circle cx="965" cy="740" r="5.4"/><circle cx="940" cy="760" r="5.4"/><circle cx="993" cy="763" r="5.4"/><circle cx="968" cy="737" r="5.4"/><circle cx="937" cy="760" r="5.4"/><circle cx="969" cy="774" r="5.4"/><circle cx="965" cy="762" r="5.4"/><circle cx="935" cy="763" r="5.4"/><circle cx="913" cy="754" r="5.4"/><circle cx="1013" cy="758" r="5.4"/><circle cx="985" cy="731" r="5.4"/><circle cx="988" cy="752" r="5.4"/><circle cx="990" cy="762" r="5.4"/><circle cx="950" cy="732" r="5.4"/><circle cx="974" cy="756" r="5.4"/><circle cx="979" cy="767" r="5.4"/><circle cx="933" cy="755" r="5.4"/><circle cx="979" cy="754" r="5.4"/><circle cx="925" cy="753" r="5.4"/><circle cx="906" cy="741" r="5.4"/><circle cx="963" cy="757" r="5.4"/><circle cx="912" cy="741" r="5.4"/><circle cx="1014" cy="744" r="5.4"/><circle cx="1003" cy="766" r="5.4"/><circle cx="903" cy="746" r="5.4"/><circle cx="974" cy="762" r="5.4"/><circle cx="973" cy="775" r="5.4"/><circle cx="958" cy="758" r="5.4"/><circle cx="904" cy="756" r="5.4"/><circle cx="1006" cy="761" r="5.4"/><circle cx="943" cy="767" r="5.4"/><circle cx="946" cy="739" r="5.4"/><circle cx="986" cy="761" r="5.4"/><circle cx="901" cy="753" r="5.4"/><circle cx="985" cy="751" r="5.4"/><circle cx="912" cy="748" r="5.4"/><circle cx="951" cy="751" r="5.4"/><circle cx="910" cy="745" r="5.4"/><circle cx="931" cy="750" r="5.4"/><circle cx="933" cy="733" r="5.4"/><circle cx="968" cy="740" r="5.4"/><circle cx="956" cy="723" r="5.4"/><circle cx="923" cy="769" r="5.4"/><circle cx="984" cy="774" r="5.4"/><circle cx="937" cy="742" r="5.4"/><circle cx="1009" cy="763" r="5.4"/><circle cx="987" cy="753" r="5.4"/><circle cx="985" cy="764" r="5.4"/><circle cx="960" cy="738" r="5.4"/><circle cx="1002" cy="742" r="5.4"/><circle cx="944" cy="734" r="5.4"/><circle cx="966" cy="749" r="5.4"/><circle cx="931" cy="752" r="5.4"/><circle cx="1001" cy="744" r="5.4"/><circle cx="1002" cy="749" r="5.4"/><circle cx="970" cy="771" r="5.4"/><circle cx="976" cy="774" r="5.4"/><circle cx="902" cy="757" r="5.4"/><circle cx="988" cy="747" r="5.4"/><circle cx="996" cy="815" r="5.4"/><circle cx="1014" cy="775" r="5.4"/><circle cx="1030" cy="805" r="5.4"/><circle cx="1057" cy="783" r="5.4"/><circle cx="1039" cy="800" r="5.4"/><circle cx="995" cy="807" r="5.4"/><circle cx="1024" cy="765" r="5.4"/><circle cx="1042" cy="818" r="5.4"/><circle cx="1071" cy="796" r="5.4"/><circle cx="1063" cy="814" r="5.4"/><circle cx="982" cy="783" r="5.4"/><circle cx="1121" cy="816" r="5.4"/><circle cx="1062" cy="820" r="5.4"/><circle cx="973" cy="811" r="5.4"/><circle cx="1041" cy="868" r="5.4"/><circle cx="1042" cy="866" r="5.4"/><circle cx="1027" cy="876" r="5.4"/><circle cx="1011" cy="873" r="5.4"/></g><g fill="#9467bd" stroke="#fff" stroke-width="0.8"><circle cx="1149" cy="788" r="5.4"/><circle cx="1155" cy="793" r="5.4"/><circle cx="1134" cy="809" r="5.4"/><circle cx="1171" cy="769" r="5.4"/><circle cx="1111" cy="788" r="5.4"/><circle cx="1155" cy="764" r="5.4"/><circle cx="1103" cy="790" r="5.4"/><circle cx="1141" cy="803" r="5.4"/><circle cx="1108" cy="779" r="5.4"/><circle cx="1173" cy="775" r="5.4"/><circle cx="1156" cy="822" r="5.4"/><circle cx="1150" cy="787" r="5.4"/><circle cx="1154" cy="814" r="5.4"/><circle cx="1139" cy="819" r="5.4"/><circle cx="1125" cy="804" r="5.4"/><circle cx="1125" cy="771" r="5.4"/><circle cx="1139" cy="783" r="5.4"/><circle cx="1104" cy="797" r="5.4"/><circle cx="1152" cy="767" r="5.4"/><circle cx="1136" cy="792" r="5.4"/><circle cx="1130" cy="766" r="5.4"/><circle cx="1156" cy="815" r="5.4"/><circle cx="1150" cy="761" r="5.4"/><circle cx="1120" cy="799" r="5.4"/><circle cx="1152" cy="822" r="5.4"/><circle cx="1169" cy="787" r="5.4"/><circle cx="1145" cy="822" r="5.4"/><circle cx="1115" cy="813" r="5.4"/><circle cx="1144" cy="766" r="5.4"/><circle cx="1143" cy="803" r="5.4"/><circle cx="1138" cy="807" r="5.4"/><circle cx="1146" cy="797" r="5.4"/><circle cx="1114" cy="802" r="5.4"/><circle cx="1129" cy="788" r="5.4"/><circle cx="1100" cy="777" r="5.4"/><circle cx="1132" cy="774" r="5.4"/><circle cx="1154" cy="811" r="5.4"/><circle cx="1172" cy="794" r="5.4"/><circle cx="1160" cy="814" r="5.4"/><circle cx="1167" cy="787" r="5.4"/><circle cx="1161" cy="768" r="5.4"/><circle cx="1116" cy="773" r="5.4"/><circle cx="1178" cy="786" r="5.4"/><circle cx="1142" cy="778" r="5.4"/><circle cx="1139" cy="810" r="5.4"/><circle cx="1106" cy="775" r="5.4"/><circle cx="1170" cy="771" r="5.4"/><circle cx="1151" cy="815" r="5.4"/><circle cx="1134" cy="791" r="5.4"/><circle cx="1134" cy="819" r="5.4"/><circle cx="1152" cy="792" r="5.4"/><circle cx="1134" cy="779" r="5.4"/><circle cx="1140" cy="794" r="5.4"/><circle cx="1134" cy="776" r="5.4"/><circle cx="1185" cy="796" r="5.4"/><circle cx="1154" cy="788" r="5.4"/><circle cx="1167" cy="817" r="5.4"/><circle cx="1114" cy="789" r="5.4"/><circle cx="1117" cy="801" r="5.4"/><circle cx="1138" cy="814" r="5.4"/><circle cx="1149" cy="796" r="5.4"/><circle cx="1156" cy="799" r="5.4"/><circle cx="1128" cy="768" r="5.4"/><circle cx="1146" cy="776" r="5.4"/><circle cx="1119" cy="815" r="5.4"/><circle cx="1152" cy="813" r="5.4"/><circle cx="1099" cy="781" r="5.4"/><circle cx="1146" cy="798" r="5.4"/><circle cx="1111" cy="810" r="5.4"/><circle cx="1145" cy="819" r="5.4"/><circle cx="1130" cy="691" r="5.4"/><circle cx="1092" cy="723" r="5.4"/><circle cx="1102" cy="711" r="5.4"/><circle cx="1126" cy="690" r="5.4"/><circle cx="1138" cy="742" r="5.4"/><circle cx="1058" cy="715" r="5.4"/><circle cx="1119" cy="746" r="5.4"/><circle cx="1151" cy="752" r="5.4"/><circle cx="1113" cy="767" r="5.4"/><circle cx="1079" cy="741" r="5.4"/><circle cx="1102" cy="697" r="5.4"/><circle cx="1108" cy="722" r="5.4"/><circle cx="1102" cy="751" r="5.4"/><circle cx="1090" cy="696" r="5.4"/><circle cx="1265" cy="752" r="5.4"/><circle cx="1246" cy="767" r="5.4"/><circle cx="1249" cy="774" r="5.4"/><circle cx="1251" cy="767" r="5.4"/></g><g fill="#ff9896" stroke="#fff" stroke-width="0.8"><circle cx="1347" cy="788" r="5.4"/><circle cx="1368" cy="803" r="5.4"/><circle cx="1308" cy="829" r="5.4"/><circle cx="1320" cy="794" r="5.4"/><circle cx="1315" cy="804" r="5.4"/><circle cx="1340" cy="810" r="5.4"/><circle cx="1347" cy="823" r="5.4"/><circle cx="1362" cy="791" r="5.4"/><circle cx="1337" cy="824" r="5.4"/><circle cx="1307" cy="808" r="5.4"/><circle cx="1300" cy="822" r="5.4"/><circle cx="1281" cy="804" r="5.4"/><circle cx="1362" cy="822" r="5.4"/><circle cx="1314" cy="812" r="5.4"/><circle cx="1324" cy="826" r="5.4"/><circle cx="1333" cy="828" r="5.4"/><circle cx="1295" cy="810" r="5.4"/><circle cx="1331" cy="787" r="5.4"/><circle cx="1295" cy="813" r="5.4"/><circle cx="1372" cy="798" r="5.4"/><circle cx="1358" cy="820" r="5.4"/><circle cx="1302" cy="795" r="5.4"/><circle cx="1352" cy="811" r="5.4"/><circle cx="1369" cy="795" r="5.4"/><circle cx="1306" cy="810" r="5.4"/><circle cx="1312" cy="827" r="5.4"/><circle cx="1325" cy="801" r="5.4"/><circle cx="1282" cy="817" r="5.4"/><circle cx="1313" cy="813" r="5.4"/><circle cx="1341" cy="806" r="5.4"/><circle cx="1322" cy="814" r="5.4"/><circle cx="1356" cy="825" r="5.4"/><circle cx="1341" cy="812" r="5.4"/><circle cx="1304" cy="806" r="5.4"/><circle cx="1348" cy="828" r="5.4"/><circle cx="1327" cy="798" r="5.4"/><circle cx="1307" cy="822" r="5.4"/><circle cx="1326" cy="817" r="5.4"/><circle cx="1364" cy="825" r="5.4"/><circle cx="1323" cy="795" r="5.4"/><circle cx="1366" cy="794" r="5.4"/><circle cx="1360" cy="803" r="5.4"/><circle cx="1315" cy="827" r="5.4"/><circle cx="1317" cy="791" r="5.4"/><circle cx="1356" cy="824" r="5.4"/><circle cx="1347" cy="805" r="5.4"/><circle cx="1332" cy="800" r="5.4"/><circle cx="1325" cy="823" r="5.4"/><circle cx="1299" cy="810" r="5.4"/><circle cx="1356" cy="828" r="5.4"/><circle cx="1304" cy="829" r="5.4"/><circle cx="1324" cy="797" r="5.4"/><circle cx="1337" cy="822" r="5.4"/><circle cx="1340" cy="793" r="5.4"/><circle cx="1281" cy="797" r="5.4"/><circle cx="1325" cy="805" r="5.4"/><circle cx="1358" cy="796" r="5.4"/><circle cx="1301" cy="830" r="5.4"/><circle cx="1345" cy="787" r="5.4"/><circle cx="1307" cy="818" r="5.4"/><circle cx="1305" cy="820" r="5.4"/><circle cx="1350" cy="818" r="5.4"/><circle cx="1346" cy="802" r="5.4"/><circle cx="1303" cy="796" r="5.4"/><circle cx="1327" cy="784" r="5.4"/><circle cx="1348" cy="802" r="5.4"/><circle cx="1372" cy="807" r="5.4"/><circle cx="1326" cy="786" r="5.4"/><circle cx="1324" cy="831" r="5.4"/><circle cx="1294" cy="822" r="5.4"/><circle cx="1357" cy="825" r="5.4"/><circle cx="1305" cy="824" r="5.4"/><circle cx="1298" cy="827" r="5.4"/><circle cx="1353" cy="789" r="5.4"/><circle cx="1357" cy="826" r="5.4"/><circle cx="1238" cy="783" r="5.4"/><circle cx="1233" cy="786" r="5.4"/><circle cx="1240" cy="791" r="5.4"/><circle cx="1230" cy="794" r="5.4"/></g><g fill="#c49c94" stroke="#fff" stroke-width="0.8"><circle cx="1067" cy="862" r="5.4"/><circle cx="1095" cy="860" r="5.4"/><circle cx="1046" cy="889" r="5.4"/><circle cx="1083" cy="886" r="5.4"/><circle cx="1092" cy="881" r="5.4"/><circle cx="1067" cy="902" r="5.4"/><circle cx="1074" cy="881" r="5.4"/><circle cx="1076" cy="901" r="5.4"/><circle cx="1028" cy="889" r="5.4"/><circle cx="1109" cy="871" r="5.4"/><circle cx="1038" cy="867" r="5.4"/><circle cx="1007" cy="883" r="5.4"/><circle cx="1054" cy="852" r="5.4"/><circle cx="1083" cy="867" r="5.4"/><circle cx="1094" cy="891" r="5.4"/><circle cx="1081" cy="859" r="5.4"/><circle cx="1019" cy="880" r="5.4"/><circle cx="1087" cy="866" r="5.4"/><circle cx="1072" cy="900" r="5.4"/><circle cx="1037" cy="891" r="5.4"/><circle cx="1041" cy="853" r="5.4"/><circle cx="1077" cy="873" r="5.4"/><circle cx="1051" cy="875" r="5.4"/><circle cx="1052" cy="860" r="5.4"/><circle cx="1092" cy="888" r="5.4"/><circle cx="1078" cy="860" r="5.4"/><circle cx="1028" cy="897" r="5.4"/><circle cx="1059" cy="865" r="5.4"/><circle cx="1070" cy="902" r="5.4"/><circle cx="1114" cy="877" r="5.4"/><circle cx="1032" cy="890" r="5.4"/><circle cx="1104" cy="868" r="5.4"/><circle cx="1052" cy="890" r="5.4"/><circle cx="1056" cy="862" r="5.4"/><circle cx="1036" cy="875" r="5.4"/><circle cx="1040" cy="861" r="5.4"/><circle cx="1081" cy="875" r="5.4"/><circle cx="1007" cy="868" r="5.4"/><circle cx="1081" cy="900" r="5.4"/><circle cx="1008" cy="870" r="5.4"/><circle cx="1094" cy="860" r="5.4"/><circle cx="1091" cy="870" r="5.4"/><circle cx="1086" cy="880" r="5.4"/><circle cx="1093" cy="866" r="5.4"/><circle cx="1112" cy="871" r="5.4"/><circle cx="1097" cy="870" r="5.4"/><circle cx="1087" cy="894" r="5.4"/><circle cx="1075" cy="857" r="5.4"/><circle cx="1030" cy="867" r="5.4"/><circle cx="1055" cy="892" r="5.4"/><circle cx="1023" cy="877" r="5.4"/><circle cx="1093" cy="888" r="5.4"/><circle cx="1058" cy="880" r="5.4"/><circle cx="1059" cy="855" r="5.4"/><circle cx="1059" cy="891" r="5.4"/><circle cx="1079" cy="896" r="5.4"/><circle cx="1097" cy="866" r="5.4"/><circle cx="1038" cy="872" r="5.4"/><circle cx="1060" cy="855" r="5.4"/><circle cx="1048" cy="855" r="5.4"/><circle cx="1076" cy="866" r="5.4"/><circle cx="1112" cy="887" r="5.4"/><circle cx="1008" cy="887" r="5.4"/><circle cx="1075" cy="881" r="5.4"/><circle cx="1037" cy="856" r="5.4"/><circle cx="1039" cy="881" r="5.4"/><circle cx="1106" cy="878" r="5.4"/><circle cx="1063" cy="862" r="5.4"/><circle cx="1069" cy="891" r="5.4"/><circle cx="1040" cy="884" r="5.4"/><circle cx="943" cy="832" r="5.4"/><circle cx="946" cy="829" r="5.4"/></g><g fill="#c49c94" stroke="#fff" stroke-width="0.8"><circle cx="1626" cy="676" r="5.4"/><circle cx="1589" cy="668" r="5.4"/><circle cx="1597" cy="670" r="5.4"/><circle cx="1656" cy="665" r="5.4"/><circle cx="1656" cy="661" r="5.4"/><circle cx="1632" cy="687" r="5.4"/><circle cx="1646" cy="686" r="5.4"/><circle cx="1640" cy="673" r="5.4"/><circle cx="1665" cy="663" r="5.4"/><circle cx="1599" cy="683" r="5.4"/><circle cx="1598" cy="684" r="5.4"/><circle cx="1584" cy="684" r="5.4"/><circle cx="1634" cy="659" r="5.4"/><circle cx="1662" cy="669" r="5.4"/><circle cx="1613" cy="641" r="5.4"/><circle cx="1597" cy="655" r="5.4"/><circle cx="1577" cy="685" r="5.4"/><circle cx="1609" cy="687" r="5.4"/><circle cx="1599" cy="649" r="5.4"/><circle cx="1665" cy="660" r="5.4"/><circle cx="1606" cy="677" r="5.4"/><circle cx="1633" cy="641" r="5.4"/><circle cx="1601" cy="647" r="5.4"/><circle cx="1650" cy="662" r="5.4"/><circle cx="1587" cy="681" r="5.4"/><circle cx="1638" cy="676" r="5.4"/><circle cx="1636" cy="641" r="5.4"/><circle cx="1616" cy="672" r="5.4"/><circle cx="1582" cy="669" r="5.4"/><circle cx="1646" cy="657" r="5.4"/><circle cx="1588" cy="664" r="5.4"/><circle cx="1586" cy="646" r="5.4"/><circle cx="1601" cy="686" r="5.4"/><circle cx="1593" cy="656" r="5.4"/><circle cx="1617" cy="694" r="5.4"/><circle cx="1594" cy="680" r="5.4"/><circle cx="1648" cy="659" r="5.4"/><circle cx="1613" cy="690" r="5.4"/><circle cx="1634" cy="652" r="5.4"/><circle cx="1612" cy="657" r="5.4"/><circle cx="1623" cy="672" r="5.4"/><circle cx="1625" cy="661" r="5.4"/><circle cx="1623" cy="679" r="5.4"/><circle cx="1619" cy="675" r="5.4"/><circle cx="1611" cy="643" r="5.4"/><circle cx="1670" cy="659" r="5.4"/><circle cx="1656" cy="658" r="5.4"/><circle cx="1635" cy="664" r="5.4"/><circle cx="1633" cy="686" r="5.4"/><circle cx="1650" cy="648" r="5.4"/><circle cx="1649" cy="678" r="5.4"/><circle cx="1621" cy="640" r="5.4"/><circle cx="1662" cy="665" r="5.4"/><circle cx="1630" cy="670" r="5.4"/><circle cx="1639" cy="669" r="5.4"/><circle cx="1588" cy="650" r="5.4"/><circle cx="1630" cy="677" r="5.4"/><circle cx="1602" cy="660" r="5.4"/><circle cx="1664" cy="663" r="5.4"/><circle cx="1653" cy="666" r="5.4"/><circle cx="1592" cy="680" r="5.4"/><circle cx="1623" cy="683" r="5.4"/><circle cx="1674" cy="667" r="5.4"/><circle cx="1641" cy="690" r="5.4"/><circle cx="1633" cy="678" r="5.4"/><circle cx="1617" cy="650" r="5.4"/><circle cx="1607" cy="667" r="5.4"/><circle cx="1665" cy="673" r="5.4"/><circle cx="1629" cy="649" r="5.4"/><circle cx="1580" cy="675" r="5.4"/><circle cx="1578" cy="651" r="5.4"/><circle cx="1595" cy="679" r="5.4"/><circle cx="1654" cy="646" r="5.4"/><circle cx="1571" cy="657" r="5.4"/><circle cx="1629" cy="678" r="5.4"/><circle cx="1640" cy="723" r="5.4"/><circle cx="1651" cy="729" r="5.4"/><circle cx="1609" cy="729" r="5.4"/><circle cx="1651" cy="729" r="5.4"/></g><g fill="#ffbb78" stroke="#fff" stroke-width="0.8"><circle cx="1503" cy="741" r="5.4"/><circle cx="1514" cy="734" r="5.4"/><circle cx="1554" cy="756" r="5.4"/><circle cx="1569" cy="746" r="5.4"/><circle cx="1502" cy="788" r="5.4"/><circle cx="1516" cy="784" r="5.4"/><circle cx="1534" cy="728" r="5.4"/><circle cx="1541" cy="733" r="5.4"/><circle cx="1499" cy="728" r="5.4"/><circle cx="1521" cy="741" r="5.4"/><circle cx="1498" cy="750" r="5.4"/><circle cx="1534" cy="751" r="5.4"/><circle cx="1514" cy="787" r="5.4"/><circle cx="1566" cy="780" r="5.4"/><circle cx="1522" cy="727" r="5.4"/><circle cx="1521" cy="748" r="5.4"/><circle cx="1555" cy="747" r="5.4"/><circle cx="1482" cy="774" r="5.4"/><circle cx="1566" cy="781" r="5.4"/><circle cx="1559" cy="782" r="5.4"/><circle cx="1542" cy="775" r="5.4"/><circle cx="1472" cy="774" r="5.4"/><circle cx="1518" cy="793" r="5.4"/><circle cx="1492" cy="737" r="5.4"/><circle cx="1503" cy="762" r="5.4"/><circle cx="1530" cy="792" r="5.4"/><circle cx="1512" cy="791" r="5.4"/><circle cx="1549" cy="751" r="5.4"/><circle cx="1574" cy="762" r="5.4"/><circle cx="1488" cy="752" r="5.4"/><circle cx="1523" cy="729" r="5.4"/><circle cx="1544" cy="743" r="5.4"/><circle cx="1553" cy="755" r="5.4"/><circle cx="1548" cy="779" r="5.4"/><circle cx="1549" cy="787" r="5.4"/><circle cx="1563" cy="772" r="5.4"/><circle cx="1467" cy="753" r="5.4"/><circle cx="1552" cy="785" r="5.4"/><circle cx="1489" cy="783" r="5.4"/><circle cx="1531" cy="745" r="5.4"/><circle cx="1510" cy="763" r="5.4"/><circle cx="1530" cy="753" r="5.4"/><circle cx="1571" cy="769" r="5.4"/><circle cx="1483" cy="767" r="5.4"/><circle cx="1514" cy="731" r="5.4"/><circle cx="1549" cy="753" r="5.4"/><circle cx="1536" cy="774" r="5.4"/><circle cx="1556" cy="785" r="5.4"/><circle cx="1496" cy="762" r="5.4"/><circle cx="1537" cy="780" r="5.4"/><circle cx="1467" cy="768" r="5.4"/><circle cx="1520" cy="795" r="5.4"/><circle cx="1530" cy="797" r="5.4"/><circle cx="1480" cy="739" r="5.4"/><circle cx="1527" cy="726" r="5.4"/><circle cx="1477" cy="756" r="5.4"/><circle cx="1472" cy="774" r="5.4"/><circle cx="1535" cy="756" r="5.4"/><circle cx="1499" cy="732" r="5.4"/><circle cx="1525" cy="794" r="5.4"/><circle cx="1537" cy="740" r="5.4"/><circle cx="1568" cy="745" r="5.4"/><circle cx="1511" cy="749" r="5.4"/><circle cx="1486" cy="777" r="5.4"/><circle cx="1535" cy="773" r="5.4"/><circle cx="1482" cy="763" r="5.4"/><circle cx="1501" cy="776" r="5.4"/><circle cx="1523" cy="735" r="5.4"/><circle cx="1542" cy="786" r="5.4"/><circle cx="1485" cy="788" r="5.4"/><circle cx="1624" cy="737" r="5.4"/><circle cx="1579" cy="736" r="5.4"/><circle cx="1565" cy="755" r="5.4"/><circle cx="1580" cy="756" r="5.4"/><circle cx="1592" cy="744" r="5.4"/><circle cx="1587" cy="748" r="5.4"/><circle cx="1565" cy="733" r="5.4"/><circle cx="1577" cy="719" r="5.4"/><circle cx="1510" cy="698" r="5.4"/><circle cx="1487" cy="698" r="5.4"/><circle cx="1492" cy="691" r="5.4"/><circle cx="1492" cy="696" r="5.4"/><circle cx="1509" cy="699" r="5.4"/><circle cx="1434" cy="744" r="5.4"/></g><g fill="#9467bd" stroke="#fff" stroke-width="0.8"><circle cx="1683" cy="787" r="5.4"/><circle cx="1670" cy="791" r="5.4"/><circle cx="1667" cy="813" r="5.4"/><circle cx="1685" cy="806" r="5.4"/><circle cx="1629" cy="764" r="5.4"/><circle cx="1698" cy="778" r="5.4"/><circle cx="1630" cy="761" r="5.4"/><circle cx="1704" cy="790" r="5.4"/><circle cx="1644" cy="793" r="5.4"/><circle cx="1633" cy="819" r="5.4"/><circle cx="1698" cy="791" r="5.4"/><circle cx="1685" cy="778" r="5.4"/><circle cx="1675" cy="768" r="5.4"/><circle cx="1657" cy="794" r="5.4"/><circle cx="1667" cy="778" r="5.4"/><circle cx="1672" cy="786" r="5.4"/><circle cx="1677" cy="779" r="5.4"/><circle cx="1637" cy="811" r="5.4"/><circle cx="1608" cy="808" r="5.4"/><circle cx="1699" cy="801" r="5.4"/><circle cx="1707" cy="787" r="5.4"/><circle cx="1655" cy="779" r="5.4"/><circle cx="1673" cy="803" r="5.4"/><circle cx="1637" cy="773" r="5.4"/><circle cx="1711" cy="789" r="5.4"/><circle cx="1614" cy="768" r="5.4"/><circle cx="1680" cy="812" r="5.4"/><circle cx="1609" cy="781" r="5.4"/><circle cx="1683" cy="779" r="5.4"/><circle cx="1673" cy="803" r="5.4"/><circle cx="1669" cy="800" r="5.4"/><circle cx="1669" cy="767" r="5.4"/><circle cx="1632" cy="790" r="5.4"/><circle cx="1615" cy="781" r="5.4"/><circle cx="1619" cy="784" r="5.4"/><circle cx="1662" cy="791" r="5.4"/><circle cx="1658" cy="811" r="5.4"/><circle cx="1658" cy="818" r="5.4"/><circle cx="1658" cy="819" r="5.4"/><circle cx="1638" cy="791" r="5.4"/><circle cx="1637" cy="807" r="5.4"/><circle cx="1664" cy="818" r="5.4"/><circle cx="1679" cy="767" r="5.4"/><circle cx="1616" cy="790" r="5.4"/><circle cx="1611" cy="771" r="5.4"/><circle cx="1677" cy="796" r="5.4"/><circle cx="1647" cy="798" r="5.4"/><circle cx="1645" cy="782" r="5.4"/><circle cx="1642" cy="810" r="5.4"/><circle cx="1693" cy="781" r="5.4"/><circle cx="1671" cy="803" r="5.4"/><circle cx="1641" cy="806" r="5.4"/><circle cx="1640" cy="760" r="5.4"/><circle cx="1674" cy="808" r="5.4"/><circle cx="1664" cy="795" r="5.4"/><circle cx="1623" cy="766" r="5.4"/><circle cx="1639" cy="781" r="5.4"/><circle cx="1641" cy="790" r="5.4"/><circle cx="1682" cy="801" r="5.4"/><circle cx="1645" cy="763" r="5.4"/><circle cx="1675" cy="810" r="5.4"/><circle cx="1612" cy="801" r="5.4"/><circle cx="1694" cy="804" r="5.4"/><circle cx="1710" cy="791" r="5.4"/><circle cx="1633" cy="799" r="5.4"/><circle cx="1677" cy="798" r="5.4"/><circle cx="1703" cy="789" r="5.4"/><circle cx="1652" cy="809" r="5.4"/><circle cx="1663" cy="816" r="5.4"/><circle cx="1641" cy="771" r="5.4"/><circle cx="1676" cy="808" r="5.4"/><circle cx="1640" cy="788" r="5.4"/><circle cx="1705" cy="775" r="5.4"/><circle cx="1637" cy="790" r="5.4"/><circle cx="1669" cy="811" r="5.4"/><circle cx="1608" cy="791" r="5.4"/><circle cx="1642" cy="818" r="5.4"/><circle cx="1677" cy="761" r="5.4"/><circle cx="1680" cy="807" r="5.4"/><circle cx="1683" cy="806" r="5.4"/><circle cx="1605" cy="722" r="5.4"/><circle cx="1663" cy="742" r="5.4"/><circle cx="1617" cy="739" r="5.4"/><circle cx="1659" cy="762" r="5.4"/><circle cx="1651" cy="750" r="5.4"/><circle cx="1613" cy="723" r="5.4"/><circle cx="1609" cy="729" r="5.4"/><circle cx="1612" cy="728" r="5.4"/><circle cx="1650" cy="743" r="5.4"/><circle cx="1658" cy="745" r="5.4"/><circle cx="1639" cy="837" r="5.4"/><circle cx="1623" cy="834" r="5.4"/><circle cx="1648" cy="837" r="5.4"/><circle cx="1658" cy="845" r="5.4"/></g><g fill="#8c564b" stroke="#fff" stroke-width="0.8"><circle cx="1835" cy="754" r="5.4"/><circle cx="1853" cy="781" r="5.4"/><circle cx="1872" cy="760" r="5.4"/><circle cx="1828" cy="824" r="5.4"/><circle cx="1861" cy="735" r="5.4"/><circle cx="1808" cy="756" r="5.4"/><circle cx="1818" cy="743" r="5.4"/><circle cx="1803" cy="761" r="5.4"/><circle cx="1827" cy="777" r="5.4"/><circle cx="1831" cy="809" r="5.4"/><circle cx="1818" cy="778" r="5.4"/><circle cx="1857" cy="816" r="5.4"/><circle cx="1822" cy="780" r="5.4"/><circle cx="1817" cy="797" r="5.4"/><circle cx="1867" cy="816" r="5.4"/><circle cx="1844" cy="815" r="5.4"/><circle cx="1837" cy="739" r="5.4"/><circle cx="1804" cy="775" r="5.4"/><circle cx="1874" cy="769" r="5.4"/><circle cx="1823" cy="804" r="5.4"/><circle cx="1827" cy="795" r="5.4"/><circle cx="1869" cy="743" r="5.4"/><circle cx="1846" cy="747" r="5.4"/><circle cx="1827" cy="787" r="5.4"/><circle cx="1839" cy="807" r="5.4"/><circle cx="1851" cy="751" r="5.4"/><circle cx="1862" cy="820" r="5.4"/><circle cx="1855" cy="757" r="5.4"/><circle cx="1831" cy="745" r="5.4"/><circle cx="1835" cy="744" r="5.4"/><circle cx="1876" cy="789" r="5.4"/><circle cx="1881" cy="786" r="5.4"/><circle cx="1799" cy="773" r="5.4"/><circle cx="1892" cy="772" r="5.4"/><circle cx="1856" cy="823" r="5.4"/><circle cx="1874" cy="798" r="5.4"/><circle cx="1846" cy="737" r="5.4"/><circle cx="1825" cy="805" r="5.4"/><circle cx="1823" cy="782" r="5.4"/><circle cx="1885" cy="755" r="5.4"/><circle cx="1883" cy="747" r="5.4"/><circle cx="1819" cy="795" r="5.4"/><circle cx="1879" cy="776" r="5.4"/><circle cx="1862" cy="797" r="5.4"/><circle cx="1875" cy="768" r="5.4"/><circle cx="1826" cy="819" r="5.4"/><circle cx="1888" cy="752" r="5.4"/><circle cx="1862" cy="810" r="5.4"/><circle cx="1817" cy="810" r="5.4"/><circle cx="1865" cy="770" r="5.4"/><circle cx="1822" cy="799" r="5.4"/><circle cx="1849" cy="817" r="5.4"/><circle cx="1844" cy="784" r="5.4"/><circle cx="1883" cy="782" r="5.4"/><circle cx="1852" cy="751" r="5.4"/><circle cx="1837" cy="755" r="5.4"/><circle cx="1866" cy="815" r="5.4"/><circle cx="1847" cy="774" r="5.4"/><circle cx="1839" cy="816" r="5.4"/><circle cx="1865" cy="763" r="5.4"/><circle cx="1855" cy="826" r="5.4"/><circle cx="1814" cy="763" r="5.4"/><circle cx="1879" cy="786" r="5.4"/><circle cx="1831" cy="758" r="5.4"/><circle cx="1809" cy="778" r="5.4"/><circle cx="1771" cy="818" r="5.4"/><circle cx="1764" cy="818" r="5.4"/><circle cx="1776" cy="812" r="5.4"/><circle cx="1752" cy="735" r="5.4"/><circle cx="1750" cy="732" r="5.4"/><circle cx="1725" cy="733" r="5.4"/><circle cx="1761" cy="736" r="5.4"/><circle cx="1530" cy="687" r="5.4"/></g><g fill="#ff9896" stroke="#fff" stroke-width="0.8"><circle cx="1524" cy="843" r="5.4"/><circle cx="1510" cy="854" r="5.4"/><circle cx="1545" cy="868" r="5.4"/><circle cx="1495" cy="875" r="5.4"/><circle cx="1486" cy="859" r="5.4"/><circle cx="1533" cy="846" r="5.4"/><circle cx="1473" cy="886" r="5.4"/><circle cx="1546" cy="888" r="5.4"/><circle cx="1505" cy="854" r="5.4"/><circle cx="1543" cy="869" r="5.4"/><circle cx="1488" cy="872" r="5.4"/><circle cx="1532" cy="870" r="5.4"/><circle cx="1520" cy="875" r="5.4"/><circle cx="1473" cy="878" r="5.4"/><circle cx="1495" cy="892" r="5.4"/><circle cx="1457" cy="867" r="5.4"/><circle cx="1533" cy="898" r="5.4"/><circle cx="1464" cy="871" r="5.4"/><circle cx="1528" cy="855" r="5.4"/><circle cx="1524" cy="860" r="5.4"/><circle cx="1487" cy="887" r="5.4"/><circle cx="1463" cy="860" r="5.4"/><circle cx="1531" cy="879" r="5.4"/><circle cx="1467" cy="893" r="5.4"/><circle cx="1494" cy="861" r="5.4"/><circle cx="1485" cy="891" r="5.4"/><circle cx="1524" cy="855" r="5.4"/><circle cx="1476" cy="879" r="5.4"/><circle cx="1469" cy="894" r="5.4"/><circle cx="1524" cy="887" r="5.4"/><circle cx="1481" cy="847" r="5.4"/><circle cx="1473" cy="882" r="5.4"/><circle cx="1512" cy="855" r="5.4"/><circle cx="1524" cy="851" r="5.4"/><circle cx="1501" cy="850" r="5.4"/><circle cx="1507" cy="875" r="5.4"/><circle cx="1482" cy="841" r="5.4"/><circle cx="1458" cy="870" r="5.4"/><circle cx="1518" cy="891" r="5.4"/><circle cx="1490" cy="859" r="5.4"/><circle cx="1502" cy="897" r="5.4"/><circle cx="1535" cy="890" r="5.4"/><circle cx="1526" cy="892" r="5.4"/><circle cx="1489" cy="891" r="5.4"/><circle cx="1533" cy="888" r="5.4"/><circle cx="1475" cy="855" r="5.4"/><circle cx="1497" cy="881" r="5.4"/><circle cx="1460" cy="862" r="5.4"/><circle cx="1513" cy="845" r="5.4"/><circle cx="1513" cy="894" r="5.4"/><circle cx="1523" cy="851" r="5.4"/><circle cx="1506" cy="846" r="5.4"/><circle cx="1472" cy="876" r="5.4"/><circle cx="1530" cy="841" r="5.4"/><circle cx="1541" cy="886" r="5.4"/><circle cx="1549" cy="875" r="5.4"/><circle cx="1560" cy="865" r="5.4"/><circle cx="1500" cy="897" r="5.4"/><circle cx="1528" cy="897" r="5.4"/><circle cx="1453" cy="866" r="5.4"/><circle cx="1511" cy="867" r="5.4"/><circle cx="1523" cy="851" r="5.4"/><circle cx="1458" cy="865" r="5.4"/><circle cx="1521" cy="899" r="5.4"/><circle cx="1476" cy="896" r="5.4"/><circle cx="1500" cy="874" r="5.4"/><circle cx="1518" cy="874" r="5.4"/><circle cx="1538" cy="888" r="5.4"/><circle cx="1499" cy="882" r="5.4"/><circle cx="1532" cy="862" r="5.4"/><circle cx="1542" cy="848" r="5.4"/><circle cx="1452" cy="882" r="5.4"/><circle cx="1495" cy="898" r="5.4"/><circle cx="1526" cy="841" r="5.4"/><circle cx="1512" cy="897" r="5.4"/><circle cx="1520" cy="866" r="5.4"/><circle cx="1472" cy="854" r="5.4"/><circle cx="1538" cy="893" r="5.4"/><circle cx="1458" cy="876" r="5.4"/><circle cx="1456" cy="878" r="5.4"/><circle cx="1530" cy="866" r="5.4"/><circle cx="1504" cy="853" r="5.4"/><circle cx="1506" cy="899" r="5.4"/><circle cx="1467" cy="886" r="5.4"/><circle cx="1511" cy="885" r="5.4"/><circle cx="1467" cy="893" r="5.4"/><circle cx="1464" cy="870" r="5.4"/><circle cx="1505" cy="865" r="5.4"/><circle cx="1540" cy="850" r="5.4"/><circle cx="1514" cy="889" r="5.4"/><circle cx="1498" cy="810" r="5.4"/><circle cx="1477" cy="819" r="5.4"/><circle cx="1514" cy="820" r="5.4"/><circle cx="1467" cy="817" r="5.4"/></g><text x="224" y="452" font-size="44" font-weight="700" text-anchor="middle">Known</text><text x="224" y="510" font-size="44" font-weight="700" text-anchor="middle">Categories</text><text x="224" y="760" font-size="44" font-weight="700" text-anchor="middle">Novel</text><text x="224" y="818" font-size="44" font-weight="700" text-anchor="middle">Categories</text><text x="607" y="975" font-size="37.5" font-weight="700" text-anchor="middle" textLength="489" lengthAdjust="spacingAndGlyphs">Maintaining Known Categories</text><text x="1134" y="975" font-size="37.5" font-weight="700" text-anchor="middle" textLength="456" lengthAdjust="spacingAndGlyphs">Discovering Novel Categories</text><text x="1661" y="960" font-size="37.5" font-weight="700" text-anchor="middle" textLength="447" lengthAdjust="spacingAndGlyphs">GM: Balance Maintaining &amp;</text><text x="1661" y="1008" font-size="37.5" font-weight="700" text-anchor="middle">Discovering</text></svg>
<svg style="position:absolute;left:1190px;top:850px" width="980" height="390" viewBox="0 0 2352 936" font-family="'Liberation Sans', sans-serif" fill="#111"><rect x="505" y="265" width="260" height="547" fill="#f5f5f5"/><rect x="780" y="265" width="490" height="547" fill="#f5f5f5"/><rect x="1347" y="543" width="121" height="269" fill="#f5f5f5"/><rect x="1486" y="543" width="260" height="269" fill="#f5f5f5"/><rect x="1790" y="290" width="122" height="268" fill="#f5f5f5"/><rect x="1928" y="290" width="260" height="268" fill="#f5f5f5"/><rect x="1802" y="692" width="371" height="183" fill="#f5f5f5"/><rect x="55" y="43" width="368" height="57" fill="#e6e6e6"/><text x="239" y="85" font-size="35.5" text-anchor="middle" >Initial Stage</text><line x1="468" y1="43" x2="468" y2="862" stroke="#000" stroke-width="3" stroke-dasharray="13 8"/><path d="M536 47 H2200 V12 L2280 72 L2200 133 V98 H536Z" fill="#e6e6e6"/><text x="1408" y="86" font-size="38" text-anchor="middle" >Continuous Category Discovery Stage</text><text x="243" y="154" font-size="26" text-anchor="middle" ><tspan font-weight="700">Labeled</tspan> Data at Time 0</text><rect x="60" y="175" width="355" height="83" rx="26" fill="#fff" stroke="#000" stroke-width="3.8"/><circle cx="100" cy="217" r="6.8" fill="#f5a623" stroke="#3a3a3a" stroke-width="2.4"/><circle cx="142" cy="200" r="6.8" fill="#f5a623" stroke="#3a3a3a" stroke-width="2.4"/><circle cx="148" cy="234" r="6.8" fill="#f5a623" stroke="#3a3a3a" stroke-width="2.4"/><circle cx="185" cy="198" r="6.8" fill="#f5a623" stroke="#3a3a3a" stroke-width="2.4"/><circle cx="185" cy="221" r="6.8" fill="#f5a623" stroke="#3a3a3a" stroke-width="2.4"/><circle cx="212" cy="209" r="6.8" fill="#f5a623" stroke="#3a3a3a" stroke-width="2.4"/><circle cx="250" cy="234" r="6.8" fill="#d24be0" stroke="#3a3a3a" stroke-width="2.4"/><circle cx="268" cy="216" r="6.8" fill="#d24be0" stroke="#3a3a3a" stroke-width="2.4"/><circle cx="288" cy="200" r="6.8" fill="#d24be0" stroke="#3a3a3a" stroke-width="2.4"/><circle cx="307" cy="221" r="6.8" fill="#d24be0" stroke="#3a3a3a" stroke-width="2.4"/><circle cx="343" cy="216" r="6.8" fill="#d24be0" stroke="#3a3a3a" stroke-width="2.4"/><circle cx="362" cy="237" r="6.8" fill="#d24be0" stroke="#3a3a3a" stroke-width="2.4"/><circle cx="380" cy="200" r="6.8" fill="#d24be0" stroke="#3a3a3a" stroke-width="2.4"/><line x1="126" y1="258" x2="126.0" y2="339.0" stroke="#000" stroke-width="3.7"/><path d="M126 358 L119.6 340.9 L132.4 340.9Z" fill="#fff" stroke="#000" stroke-width="2.8" stroke-linejoin="miter"/><text x="143" y="327" font-size="24" text-anchor="start" >classification</text><rect x="55" y="366" width="143" height="84" rx="4" fill="#d9d9d9" stroke="#000" stroke-width="3.8"/><text x="127" y="402" font-size="26" text-anchor="middle" >Initial</text><text x="127" y="433" font-size="26" text-anchor="middle" >Model</text><text x="170" y="506" font-size="24" text-anchor="start" >Dual-branch</text><path d="M134 452 C138 540 170 580 214 585" fill="none" stroke="#f8b3b3" stroke-width="3.3"/><circle cx="222" cy="586" r="8" fill="#fff" stroke="#f8b3b3" stroke-width="3.3"/><path d="M128 452 C128 640 160 735 214 748" fill="none" stroke="#a6dff4" stroke-width="3.3"/><circle cx="222" cy="749" r="8" fill="#fff" stroke="#a6dff4" stroke-width="3.3"/><rect x="234" y="545" width="144" height="83" rx="4" fill="#fcc5c5" stroke="#000" stroke-width="3.8"/><text x="306.0" y="581" font-size="26" text-anchor="middle" font-weight="700">Dynamic</text><text x="306.0" y="614" font-size="26" text-anchor="middle" font-weight="700">Branch</text><rect x="234" y="708" width="144" height="84" rx="4" fill="#b6e7f6" stroke="#000" stroke-width="3.8"/><text x="306.0" y="744" font-size="26" text-anchor="middle" font-weight="700">Static</text><text x="306.0" y="777" font-size="26" text-anchor="middle" font-weight="700">Branch</text><rect x="565" y="545" width="144" height="83" rx="4" fill="#fcc5c5" stroke="#000" stroke-width="3.8"/><text x="637.0" y="581" font-size="26" text-anchor="middle" font-weight="700">Dynamic</text><text x="637.0" y="614" font-size="26" text-anchor="middle" font-weight="700">Branch</text><rect x="565" y="708" width="144" height="84" rx="4" fill="#b6e7f6" stroke="#000" stroke-width="3.8"/><text x="637.0" y="744" font-size="26" text-anchor="middle" font-weight="700">Static</text><text x="637.0" y="777" font-size="26" text-anchor="middle" font-weight="700">Branch</text><rect x="828" y="545" width="144" height="83" rx="4" fill="#fcc5c5" stroke="#000" stroke-width="3.8"/><text x="900.0" y="581" font-size="26" text-anchor="middle" font-weight="700">Dynamic</text><text x="900.0" y="614" font-size="26" text-anchor="middle" font-weight="700">Branch</text><rect x="828" y="708" width="144" height="84" rx="4" fill="#b6e7f6" stroke="#000" stroke-width="3.8"/><text x="900.0" y="744" font-size="26" text-anchor="middle" font-weight="700">Static</text><text x="900.0" y="777" font-size="26" text-anchor="middle" font-weight="700">Branch</text><rect x="1105" y="545" width="144" height="83" rx="4" fill="#fcc5c5" stroke="#000" stroke-width="3.8"/><text x="1177.0" y="581" font-size="26" text-anchor="middle" font-weight="700">Dynamic</text><text x="1177.0" y="614" font-size="26" text-anchor="middle" font-weight="700">Branch</text><rect x="1105" y="708" width="144" height="84" rx="4" fill="#b6e7f6" stroke="#000" stroke-width="3.8"/><text x="1177.0" y="744" font-size="26" text-anchor="middle" font-weight="700">Static</text><text x="1177.0" y="777" font-size="26" text-anchor="middle" font-weight="700">Branch</text><line x1="378" y1="586" x2="541.0" y2="586.0" stroke="#000" stroke-width="3.7"/><path d="M560 586 L541.0 593.5 L541.0 578.5Z" fill="#000" stroke="#000" stroke-width="2.8" stroke-linejoin="miter"/><line x1="378" y1="749" x2="541.0" y2="749.0" stroke="#000" stroke-width="3.7"/><path d="M560 749 L541.0 756.5 L541.0 741.5Z" fill="#000" stroke="#000" stroke-width="2.8" stroke-linejoin="miter"/><line x1="709" y1="586" x2="804.0" y2="586.0" stroke="#000" stroke-width="3.7"/><path d="M823 586 L804.0 593.5 L804.0 578.5Z" fill="#000" stroke="#000" stroke-width="2.8" stroke-linejoin="miter"/><line x1="709" y1="749" x2="804.0" y2="749.0" stroke="#000" stroke-width="3.7"/><path d="M823 749 L804.0 756.5 L804.0 741.5Z" fill="#000" stroke="#000" stroke-width="2.8" stroke-linejoin="miter"/><line x1="1249" y1="586" x2="1311.0" y2="586.0" stroke="#000" stroke-width="3.7"/><path d="M1330 586 L1311.0 593.5 L1311.0 578.5Z" fill="#000" stroke="#000" stroke-width="2.8" stroke-linejoin="miter"/><line x1="1249" y1="749" x2="1311.0" y2="749.0" stroke="#000" stroke-width="3.7"/><path d="M1330 749 L1311.0 756.5 L1311.0 741.5Z" fill="#000" stroke="#000" stroke-width="2.8" stroke-linejoin="miter"/><line x1="990" y1="749" x2="1081.0" y2="749.0" stroke="#000" stroke-width="3.7"/><path d="M1100 749 L1081.0 756.5 L1081.0 741.5Z" fill="#000" stroke="#000" stroke-width="2.8" stroke-linejoin="miter"/><text x="423" y="706" font-size="24" text-anchor="middle" >keep</text><text x="423" y="735" font-size="24" text-anchor="middle" >frozen</text><text x="900" y="154" font-size="26" text-anchor="middle" ><tspan font-weight="700">Unlabeled</tspan> Data at Time 1</text><path d="M865 256 C845 270 780 270 735 277" fill="none" stroke="#000" stroke-width="3.6"/><path d="M940 256 C960 270 1040 270 1090 277" fill="none" stroke="#000" stroke-width="3.6"/><rect x="722" y="173" width="355" height="83" rx="26" fill="#fff" stroke="#000" stroke-width="3.8"/><circle cx="762" cy="198" r="6.8" fill="#dcdcdc" stroke="#3a3a3a" stroke-width="2.4"/><circle cx="782" cy="236" r="6.8" fill="#dcdcdc" stroke="#3a3a3a" stroke-width="2.4"/><circle cx="811" cy="229" r="6.8" fill="#dcdcdc" stroke="#3a3a3a" stroke-width="2.4"/><circle cx="846" cy="222" r="6.8" fill="#dcdcdc" stroke="#3a3a3a" stroke-width="2.4"/><circle cx="875" cy="204" r="6.8" fill="#dcdcdc" stroke="#3a3a3a" stroke-width="2.4"/><circle cx="911" cy="229" r="6.8" fill="#dcdcdc" stroke="#3a3a3a" stroke-width="2.4"/><circle cx="934" cy="198" r="6.8" fill="#dcdcdc" stroke="#3a3a3a" stroke-width="2.4"/><circle cx="969" cy="216" r="6.8" fill="#dcdcdc" stroke="#3a3a3a" stroke-width="2.4"/><circle cx="1006" cy="204" r="6.8" fill="#dcdcdc" stroke="#3a3a3a" stroke-width="2.4"/><circle cx="1042" cy="218" r="6.8" fill="#dcdcdc" stroke="#3a3a3a" stroke-width="2.4"/><rect x="536" y="278" width="205" height="40" fill="#dedede"/><text x="638" y="307" font-size="24" text-anchor="middle" >unknown data</text><rect x="1022" y="278" width="210" height="40" fill="#dedede"/><text x="1127" y="307" font-size="24" text-anchor="middle" >known data</text><line x1="655" y1="320" x2="648.6" y2="331.9" stroke="#000" stroke-width="3.6"/><path d="M641 346 L642.4 328.6 L654.7 335.2Z" fill="#000" stroke="#000" stroke-width="2.8" stroke-linejoin="miter"/><line x1="1170" y1="320" x2="1176.4" y2="331.9" stroke="#000" stroke-width="3.6"/><path d="M1184 346 L1170.3 335.2 L1182.6 328.6Z" fill="#000" stroke="#000" stroke-width="2.8" stroke-linejoin="miter"/><circle cx="637" cy="393" r="43" fill="#fff" stroke="#000" stroke-width="3.6"/><circle cx="637" cy="368" r="5.5" fill="#dcdcdc" stroke="#3a3a3a" stroke-width="2.4"/><circle cx="651" cy="386" r="5.5" fill="#dcdcdc" stroke="#3a3a3a" stroke-width="2.4"/><circle cx="616" cy="397" r="5.5" fill="#dcdcdc" stroke="#3a3a3a" stroke-width="2.4"/><circle cx="633" cy="411" r="5.5" fill="#dcdcdc" stroke="#3a3a3a" stroke-width="2.4"/><circle cx="659" cy="408" r="5.5" fill="#dcdcdc" stroke="#3a3a3a" stroke-width="2.4"/><circle cx="1188" cy="391" r="43" fill="#fff" stroke="#000" stroke-width="3.6"/><circle cx="1170" cy="382" r="5.5" fill="#f5a623" stroke="#3a3a3a" stroke-width="2.4"/><circle cx="1177" cy="410" r="5.5" fill="#f5a623" stroke="#3a3a3a" stroke-width="2.4"/><circle cx="1216" cy="382" r="5.5" fill="#f5a623" stroke="#3a3a3a" stroke-width="2.4"/><circle cx="1189" cy="388" r="5.5" fill="#d24be0" stroke="#3a3a3a" stroke-width="2.4"/><circle cx="1208" cy="397" r="5.5" fill="#d24be0" stroke="#3a3a3a" stroke-width="2.4"/><circle cx="898" cy="438" r="67" fill="#fff" stroke="#000" stroke-width="3.6"/><line x1="868" y1="482" x2="936" y2="398" stroke="#000" stroke-width="2" stroke-dasharray="7 5"/><circle cx="859" cy="412" r="6" fill="#21b24b" stroke="#3a3a3a" stroke-width="2.4"/><circle cx="890" cy="408" r="6" fill="#21b24b" stroke="#3a3a3a" stroke-width="2.4"/><circle cx="857" cy="447" r="6" fill="#21b24b" stroke="#3a3a3a" stroke-width="2.4"/><circle cx="914" cy="398" r="6" fill="#2b7bd6" stroke="#3a3a3a" stroke-width="2.4"/><circle cx="878" cy="428" r="6" fill="#2b7bd6" stroke="#3a3a3a" stroke-width="2.4"/><circle cx="941" cy="428" r="6" fill="#f5a623" stroke="#3a3a3a" stroke-width="2.4"/><circle cx="942" cy="447" r="6" fill="#f5a623" stroke="#3a3a3a" stroke-width="2.4"/><circle cx="908" cy="484" r="6" fill="#f5a623" stroke="#3a3a3a" stroke-width="2.4"/><circle cx="915" cy="460" r="6" fill="#d24be0" stroke="#3a3a3a" stroke-width="2.4"/><circle cx="938" cy="470" r="6" fill="#d24be0" stroke="#3a3a3a" stroke-width="2.4"/><text x="784" y="365" font-size="21" text-anchor="middle" font-style="italic">discovered</text><text x="784" y="391" font-size="21" text-anchor="middle" font-style="italic">categories</text><text x="1020" y="368" font-size="21" text-anchor="middle" font-style="italic">existing</text><text x="1020" y="393" font-size="21" text-anchor="middle" font-style="italic">categories</text><line x1="680" y1="402" x2="810.3" y2="424.7" stroke="#000" stroke-width="3.7"/><path d="M829 428 L809.0 432.1 L811.6 417.3Z" fill="#000" stroke="#000" stroke-width="2.8" stroke-linejoin="miter"/><line x1="1145" y1="402" x2="987.8" y2="425.2" stroke="#000" stroke-width="3.7"/><path d="M969 428 L986.7 417.8 L988.9 432.6Z" fill="#000" stroke="#000" stroke-width="2.8" stroke-linejoin="miter"/><text x="570" y="476" font-size="24" text-anchor="middle" >category</text><text x="570" y="505" font-size="24" text-anchor="middle" >discovery</text><line x1="637" y1="436" x2="637.0" y2="522.0" stroke="#000" stroke-width="3.7"/><path d="M637 541 L630.6 523.9 L643.4 523.9Z" fill="#fff" stroke="#000" stroke-width="2.8" stroke-linejoin="miter"/><line x1="898" y1="505" x2="898.0" y2="522.0" stroke="#000" stroke-width="3.7"/><path d="M898 541 L891.6 523.9 L904.4 523.9Z" fill="#fff" stroke="#000" stroke-width="2.8" stroke-linejoin="miter"/><text x="875" y="530" font-size="24" text-anchor="end" >classification</text><text x="515" y="683" font-size="24" text-anchor="start" >distillation</text><line x1="637" y1="708" x2="637.0" y2="651.0" stroke="#000" stroke-width="3.7"/><path d="M637 632 L643.4 649.1 L630.6 649.1Z" fill="#fff" stroke="#000" stroke-width="2.8" stroke-linejoin="miter"/><text x="779" y="683" font-size="24" text-anchor="start" >distillation</text><line x1="898" y1="708" x2="898.0" y2="651.0" stroke="#000" stroke-width="3.7"/><path d="M898 632 L904.4 649.1 L891.6 649.1Z" fill="#fff" stroke="#000" stroke-width="2.8" stroke-linejoin="miter"/><line x1="991" y1="586" x2="1087" y2="586" stroke="#f8b3b3" stroke-width="3.3"/><circle cx="983" cy="586" r="8" fill="#fff" stroke="#f8b3b3" stroke-width="3.3"/><circle cx="1095" cy="586" r="8" fill="#fff" stroke="#f8b3b3" stroke-width="3.3"/><path d="M991 748 C1050 740 1040 610 1090 592" fill="none" stroke="#a6dff4" stroke-width="3.3"/><circle cx="983" cy="749" r="8" fill="#fff" stroke="#a6dff4" stroke-width="3.3"/><text x="1035" y="645" font-size="24" text-anchor="middle" >model</text><text x="1035" y="674" font-size="24" text-anchor="middle" >unification</text><rect x="505" y="826" width="260" height="55" fill="#d2d2d2"/><text x="635" y="866" font-size="34.8" text-anchor="middle" >Growing Phase</text><rect x="780" y="826" width="490" height="55" fill="#d2d2d2"/><text x="1025" y="867" font-size="34.8" text-anchor="middle" >Merging Phase</text><text x="1535" y="154" font-size="26" text-anchor="middle" ><tspan font-weight="700">Unlabeled</tspan> Data at Time 2</text><path d="M1500 256 C1480 270 1440 272 1400 277" fill="none" stroke="#000" stroke-width="3.6"/><path d="M1555 256 C1575 270 1620 272 1665 277" fill="none" stroke="#000" stroke-width="3.6"/><rect x="1357" y="173" width="355" height="83" rx="26" fill="#fff" stroke="#000" stroke-width="3.8"/><circle cx="1397" cy="198" r="6.8" fill="#dcdcdc" stroke="#3a3a3a" stroke-width="2.4"/><circle cx="1417" cy="236" r="6.8" fill="#dcdcdc" stroke="#3a3a3a" stroke-width="2.4"/><circle cx="1446" cy="229" r="6.8" fill="#dcdcdc" stroke="#3a3a3a" stroke-width="2.4"/><circle cx="1481" cy="222" r="6.8" fill="#dcdcdc" stroke="#3a3a3a" stroke-width="2.4"/><circle cx="1510" cy="204" r="6.8" fill="#dcdcdc" stroke="#3a3a3a" stroke-width="2.4"/><circle cx="1546" cy="229" r="6.8" fill="#dcdcdc" stroke="#3a3a3a" stroke-width="2.4"/><circle cx="1569" cy="198" r="6.8" fill="#dcdcdc" stroke="#3a3a3a" stroke-width="2.4"/><circle cx="1604" cy="216" r="6.8" fill="#dcdcdc" stroke="#3a3a3a" stroke-width="2.4"/><circle cx="1641" cy="204" r="6.8" fill="#dcdcdc" stroke="#3a3a3a" stroke-width="2.4"/><circle cx="1677" cy="218" r="6.8" fill="#dcdcdc" stroke="#3a3a3a" stroke-width="2.4"/><g fill="#111"><circle cx="1743" cy="215" r="3.4"/><circle cx="1760" cy="215" r="3.4"/><circle cx="1777" cy="215" r="3.4"/><circle cx="2201" cy="215" r="3.4"/><circle cx="2218" cy="215" r="3.4"/><circle cx="2235" cy="215" r="3.4"/></g><rect x="1312" y="278" width="205" height="40" fill="#dedede"/><text x="1414" y="307" font-size="24" text-anchor="middle" >unknown data</text><rect x="1574" y="278" width="171" height="40" fill="#dedede"/><text x="1659" y="307" font-size="24" text-anchor="middle" >known data</text><line x1="1407" y1="320" x2="1407.0" y2="330.0" stroke="#000" stroke-width="3.6"/><path d="M1407 346 L1400.0 330.0 L1414.0 330.0Z" fill="#000" stroke="#000" stroke-width="2.8" stroke-linejoin="miter"/><line x1="1668" y1="320" x2="1668.0" y2="330.0" stroke="#000" stroke-width="3.6"/><path d="M1668 346 L1661.0 330.0 L1675.0 330.0Z" fill="#000" stroke="#000" stroke-width="2.8" stroke-linejoin="miter"/><circle cx="1406" cy="391" r="43" fill="#fff" stroke="#000" stroke-width="3.6"/><circle cx="1396" cy="382" r="5.5" fill="#dcdcdc" stroke="#3a3a3a" stroke-width="2.4"/><circle cx="1414" cy="390" r="5.5" fill="#dcdcdc" stroke="#3a3a3a" stroke-width="2.4"/><circle cx="1431" cy="376" r="5.5" fill="#dcdcdc" stroke="#3a3a3a" stroke-width="2.4"/><circle cx="1384" cy="407" r="5.5" fill="#dcdcdc" stroke="#3a3a3a" stroke-width="2.4"/><circle cx="1673" cy="391" r="43" fill="#fff" stroke="#000" stroke-width="3.6"/><circle cx="1655" cy="381" r="5.5" fill="#21b24b" stroke="#3a3a3a" stroke-width="2.4"/><circle cx="1679" cy="375" r="5.5" fill="#2b7bd6" stroke="#3a3a3a" stroke-width="2.4"/><circle cx="1666" cy="404" r="5.5" fill="#f5a623" stroke="#3a3a3a" stroke-width="2.4"/><circle cx="1696" cy="400" r="5.5" fill="#f5a623" stroke="#3a3a3a" stroke-width="2.4"/><circle cx="1535" cy="440" r="67" fill="#fff" stroke="#000" stroke-width="3.6"/><line x1="1503" y1="482" x2="1569" y2="403" stroke="#000" stroke-width="2" stroke-dasharray="7 5"/><circle cx="1527" cy="408" r="6" fill="#e02b2b" stroke="#3a3a3a" stroke-width="2.4"/><circle cx="1514" cy="430" r="6" fill="#e02b2b" stroke="#3a3a3a" stroke-width="2.4"/><circle cx="1551" cy="400" r="6" fill="#e8c417" stroke="#3a3a3a" stroke-width="2.4"/><circle cx="1489" cy="448" r="6" fill="#e8c417" stroke="#3a3a3a" stroke-width="2.4"/><circle cx="1578" cy="430" r="6" fill="#2b7bd6" stroke="#3a3a3a" stroke-width="2.4"/><circle cx="1559" cy="448" r="6" fill="#21b24b" stroke="#3a3a3a" stroke-width="2.4"/><circle cx="1575" cy="466" r="6" fill="#f5a623" stroke="#3a3a3a" stroke-width="2.4"/><circle cx="1551" cy="478" r="6" fill="#f5a623" stroke="#3a3a3a" stroke-width="2.4"/><line x1="1449" y1="402" x2="1458.5" y2="407.2" stroke="#000" stroke-width="2.5"/><path d="M1469 413 L1456.1 411.6 L1460.9 402.8Z" fill="#000" stroke="#000" stroke-width="2.8" stroke-linejoin="miter"/><line x1="1628" y1="402" x2="1613.1" y2="408.3" stroke="#000" stroke-width="2.5"/><path d="M1602 413 L1611.1 403.7 L1615.0 412.9Z" fill="#000" stroke="#000" stroke-width="2.8" stroke-linejoin="miter"/><line x1="1406" y1="434" x2="1406.0" y2="522.0" stroke="#000" stroke-width="3.7"/><path d="M1406 541 L1399.6 523.9 L1412.4 523.9Z" fill="#fff" stroke="#000" stroke-width="2.8" stroke-linejoin="miter"/><line x1="1535" y1="507" x2="1535.0" y2="522.0" stroke="#000" stroke-width="3.7"/><path d="M1535 541 L1528.6 523.9 L1541.4 523.9Z" fill="#fff" stroke="#000" stroke-width="2.8" stroke-linejoin="miter"/><text x="1406" y="692" font-size="34" text-anchor="middle" font-weight="700">···</text><text x="1614" y="692" font-size="34" text-anchor="middle" font-weight="700">···</text><rect x="1347" y="824" width="121" height="57" fill="#cbcdcc"/><text x="1407.5" y="849" font-size="20" text-anchor="middle" >Growing</text><text x="1407.5" y="873" font-size="20" text-anchor="middle" >Phrase</text><rect x="1486" y="824" width="260" height="57" fill="#cbcdcc"/><text x="1616.0" y="849" font-size="20" text-anchor="middle" >Merging</text><text x="1616.0" y="873" font-size="20" text-anchor="middle" >Phrase</text><rect x="1790" y="571" width="122" height="57" fill="#cbcdcc"/><text x="1851.0" y="596" font-size="20" text-anchor="middle" >Growing</text><text x="1851.0" y="620" font-size="20" text-anchor="middle" >Phrase</text><rect x="1928" y="571" width="260" height="57" fill="#cbcdcc"/><text x="2058.0" y="596" font-size="20" text-anchor="middle" >Merging</text><text x="2058.0" y="620" font-size="20" text-anchor="middle" >Phrase</text><text x="1990" y="154" font-size="26" text-anchor="middle" ><tspan font-weight="700">Unlabeled</tspan> Data at Time t</text><rect x="1812" y="173" width="355" height="83" rx="26" fill="#fff" stroke="#000" stroke-width="3.8"/><circle cx="1852" cy="198" r="6.8" fill="#dcdcdc" stroke="#3a3a3a" stroke-width="2.4"/><circle cx="1872" cy="236" r="6.8" fill="#dcdcdc" stroke="#3a3a3a" stroke-width="2.4"/><circle cx="1901" cy="229" r="6.8" fill="#dcdcdc" stroke="#3a3a3a" stroke-width="2.4"/><circle cx="1936" cy="222" r="6.8" fill="#dcdcdc" stroke="#3a3a3a" stroke-width="2.4"/><circle cx="1965" cy="204" r="6.8" fill="#dcdcdc" stroke="#3a3a3a" stroke-width="2.4"/><circle cx="2001" cy="229" r="6.8" fill="#dcdcdc" stroke="#3a3a3a" stroke-width="2.4"/><circle cx="2024" cy="198" r="6.8" fill="#dcdcdc" stroke="#3a3a3a" stroke-width="2.4"/><circle cx="2059" cy="216" r="6.8" fill="#dcdcdc" stroke="#3a3a3a" stroke-width="2.4"/><circle cx="2096" cy="204" r="6.8" fill="#dcdcdc" stroke="#3a3a3a" stroke-width="2.4"/><circle cx="2132" cy="218" r="6.8" fill="#dcdcdc" stroke="#3a3a3a" stroke-width="2.4"/><path d="M1972 256 C1960 290 1880 270 1862 322" fill="none" stroke="#000" stroke-width="3.8"/><path d="M1857 340 L1850 318 L1872 324Z" fill="#000"/><path d="M2005 256 C2017 290 2097 270 2115 322" fill="none" stroke="#000" stroke-width="3.8"/><path d="M2120 340 L2105 324 L2127 318Z" fill="#000"/><text x="1851" y="440" font-size="34" text-anchor="middle" font-weight="700">···</text><text x="2058" y="440" font-size="34" text-anchor="middle" font-weight="700">···</text><line x1="1826" y1="725" x2="1880.0" y2="725.0" stroke="#000" stroke-width="3"/><path d="M1898 725 L1881.8 731.0 L1881.8 719.0Z" fill="#fff" stroke="#000" stroke-width="2.8" stroke-linejoin="miter"/><text x="2037" y="733" font-size="24" text-anchor="middle" >supervision</text><circle cx="1833" cy="771" r="5.5" fill="#dcdcdc" stroke="#3a3a3a" stroke-width="2.4"/><circle cx="1858" cy="771" r="5.5" fill="#dcdcdc" stroke="#3a3a3a" stroke-width="2.4"/><circle cx="1884" cy="771" r="5.5" fill="#dcdcdc" stroke="#3a3a3a" stroke-width="2.4"/><text x="2037" y="779" font-size="24" text-anchor="middle" >unlabeled samples</text><circle cx="1833" cy="829" r="5.5" fill="#f5a623" stroke="#3a3a3a" stroke-width="2.4"/><circle cx="1858" cy="829" r="5.5" fill="#d24be0" stroke="#3a3a3a" stroke-width="2.4"/><circle cx="1884" cy="829" r="5.5" fill="#21b24b" stroke="#3a3a3a" stroke-width="2.4"/><text x="2037" y="823" font-size="24" text-anchor="middle" >labeled samples or</text><text x="2037" y="852" font-size="24" text-anchor="middle" >with predicted label</text></svg>
<svg style="position:absolute;left:3219.9px;top:2070.4px" width="191.8" height="191.8" viewBox="0 0 25 25" shape-rendering="crispEdges"><path fill="#000" d="M0 0h7v1.02h-7zM9 0h1v1.02h-1zM14 0h1v1.02h-1zM16 0h1v1.02h-1zM18 0h7v1.02h-7zM0 1h1v1.02h-1zM6 1h1v1.02h-1zM8 1h2v1.02h-2zM11 1h5v1.02h-5zM18 1h1v1.02h-1zM24 1h1v1.02h-1zM0 2h1v1.02h-1zM2 2h3v1.02h-3zM6 2h1v1.02h-1zM9 2h3v1.02h-3zM13 2h1v1.02h-1zM16 2h1v1.02h-1zM18 2h1v1.02h-1zM20 2h3v1.02h-3zM24 2h1v1.02h-1zM0 3h1v1.02h-1zM2 3h3v1.02h-3zM6 3h1v1.02h-1zM8 3h2v1.02h-2zM11 3h1v1.02h-1zM14 3h3v1.02h-3zM18 3h1v1.02h-1zM20 3h3v1.02h-3zM24 3h1v1.02h-1zM0 4h1v1.02h-1zM2 4h3v1.02h-3zM6 4h1v1.02h-1zM10 4h1v1.02h-1zM12 4h1v1.02h-1zM16 4h1v1.02h-1zM18 4h1v1.02h-1zM20 4h3v1.02h-3zM24 4h1v1.02h-1zM0 5h1v1.02h-1zM6 5h1v1.02h-1zM8 5h1v1.02h-1zM10 5h1v1.02h-1zM13 5h2v1.02h-2zM18 5h1v1.02h-1zM24 5h1v1.02h-1zM0 6h7v1.02h-7zM8 6h1v1.02h-1zM10 6h1v1.02h-1zM12 6h1v1.02h-1zM14 6h1v1.02h-1zM16 6h1v1.02h-1zM18 6h7v1.02h-7zM12 7h1v1.02h-1zM16 7h1v1.02h-1zM0 8h5v1.02h-5zM6 8h5v1.02h-5zM12 8h1v1.02h-1zM14 8h4v1.02h-4zM19 8h1v1.02h-1zM21 8h1v1.02h-1zM23 8h1v1.02h-1zM0 9h6v1.02h-6zM7 9h1v1.02h-1zM9 9h1v1.02h-1zM14 9h1v1.02h-1zM16 9h2v1.02h-2zM19 9h2v1.02h-2zM24 9h1v1.02h-1zM0 10h1v1.02h-1zM2 10h1v1.02h-1zM4 10h3v1.02h-3zM9 10h1v1.02h-1zM11 10h3v1.02h-3zM16 10h3v1.02h-3zM20 10h1v1.02h-1zM22 10h1v1.02h-1zM0 11h1v1.02h-1zM2 11h1v1.02h-1zM4 11h1v1.02h-1zM8 11h4v1.02h-4zM13 11h1v1.02h-1zM16 11h2v1.02h-2zM1 12h2v1.02h-2zM4 12h3v1.02h-3zM9 12h1v1.02h-1zM11 12h1v1.02h-1zM13 12h9v1.02h-9zM23 12h2v1.02h-2zM0 13h1v1.02h-1zM2 13h2v1.02h-2zM7 13h4v1.02h-4zM12 13h1v1.02h-1zM16 13h2v1.02h-2zM19 13h2v1.02h-2zM0 14h1v1.02h-1zM2 14h3v1.02h-3zM6 14h1v1.02h-1zM8 14h2v1.02h-2zM13 14h3v1.02h-3zM17 14h2v1.02h-2zM20 14h1v1.02h-1zM22 14h3v1.02h-3zM0 15h1v1.02h-1zM4 15h1v1.02h-1zM8 15h2v1.02h-2zM12 15h1v1.02h-1zM16 15h2v1.02h-2zM23 15h2v1.02h-2zM0 16h1v1.02h-1zM2 16h1v1.02h-1zM5 16h6v1.02h-6zM12 16h2v1.02h-2zM15 16h7v1.02h-7zM24 16h1v1.02h-1zM8 17h1v1.02h-1zM14 17h3v1.02h-3zM20 17h1v1.02h-1zM24 17h1v1.02h-1zM0 18h7v1.02h-7zM8 18h2v1.02h-2zM11 18h4v1.02h-4zM16 18h1v1.02h-1zM18 18h1v1.02h-1zM20 18h1v1.02h-1zM22 18h3v1.02h-3zM0 19h1v1.02h-1zM6 19h1v1.02h-1zM9 19h3v1.02h-3zM13 19h1v1.02h-1zM16 19h1v1.02h-1zM20 19h2v1.02h-2zM0 20h1v1.02h-1zM2 20h3v1.02h-3zM6 20h1v1.02h-1zM8 20h2v1.02h-2zM11 20h4v1.02h-4zM16 20h6v1.02h-6zM0 21h1v1.02h-1zM2 21h3v1.02h-3zM6 21h1v1.02h-1zM8 21h2v1.02h-2zM12 21h1v1.02h-1zM14 21h5v1.02h-5zM20 21h1v1.02h-1zM23 21h2v1.02h-2zM0 22h1v1.02h-1zM2 22h3v1.02h-3zM6 22h1v1.02h-1zM8 22h1v1.02h-1zM10 22h1v1.02h-1zM12 22h4v1.02h-4zM17 22h1v1.02h-1zM20 22h1v1.02h-1zM22 22h1v1.02h-1zM24 22h1v1.02h-1zM0 23h1v1.02h-1zM6 23h1v1.02h-1zM8 23h1v1.02h-1zM10 23h1v1.02h-1zM12 23h2v1.02h-2zM16 23h6v1.02h-6zM23 23h1v1.02h-1zM0 24h7v1.02h-7zM8 24h2v1.02h-2zM14 24h1v1.02h-1zM17 24h1v1.02h-1zM22 24h3v1.02h-3z"/></svg>
<svg style="position:absolute;left:0;top:0" width="3456" height="2304" viewBox="0 0 3456 2304"><g stroke="#000"><line x1="2414.3" y1="562.70" x2="3353.0" y2="562.70" stroke-width="1.6"/><line x1="2414.3" y1="613.00" x2="3353.0" y2="613.00" stroke-width="1.0"/><line x1="2414.3" y1="662.00" x2="3353.0" y2="662.00" stroke-width="1.0"/><line x1="2414.3" y1="791.00" x2="3353.0" y2="791.00" stroke-width="1.6"/><line x1="2414.3" y1="797.00" x2="3353.0" y2="797.00" stroke-width="1.6"/><line x1="2414.3" y1="846.80" x2="3353.0" y2="846.80" stroke-width="1.0"/><line x1="2414.3" y1="895.80" x2="3353.0" y2="895.80" stroke-width="1.0"/><line x1="2414.3" y1="1024.80" x2="3353.0" y2="1024.80" stroke-width="1.6"/><line x1="2474.2" y1="1163.30" x2="2703.3" y2="1163.30" stroke-width="1.5"/><line x1="2474.2" y1="1189.20" x2="2703.3" y2="1189.20" stroke-width="1.0"/><line x1="2474.2" y1="1285.00" x2="2703.3" y2="1285.00" stroke-width="1.5"/><line x1="2787.9" y1="1137.10" x2="3300.4" y2="1137.10" stroke-width="1.5"/><line x1="2787.9" y1="1177.50" x2="3300.4" y2="1177.50" stroke-width="1.0"/><line x1="2787.9" y1="1282.10" x2="3300.4" y2="1282.10" stroke-width="1.5"/><line x1="2480.4" y1="1401.70" x2="3290.0" y2="1401.70" stroke-width="1.5"/><line x1="2480.4" y1="1432.90" x2="3290.0" y2="1432.90" stroke-width="1.0"/><line x1="3083.5" y1="1408.5" x2="3083.5" y2="1428.5" stroke-width="1.0"/><line x1="3083.5" y1="1439.0" x2="3083.5" y2="1522.0" stroke-width="1.0"/><line x1="2480.4" y1="1526.30" x2="3290.0" y2="1526.30" stroke-width="1.5"/><line x1="1362.1" y1="2131.70" x2="1984.2" y2="2131.70" stroke-width="1.6"/><line x1="1362.1" y1="2164.90" x2="1984.2" y2="2164.90" stroke-width="1.1"/><line x1="1362.1" y1="2279.00" x2="1984.2" y2="2279.00" stroke-width="1.6"/></g></svg>
<div class="t c0" style="left:107.5px;top:92px;letter-spacing:0.587px">Grow and Merge: A Unified Framework for</div>
<div class="t c0" style="left:107.5px;top:180px;letter-spacing:0.231px">Continuous Categories Discovery</div>
<div class="t c1" style="left:1839.0px;top:93px;letter-spacing:0.017px">Xinwei Zhang, Jianwen Jiang, Yutong Feng,</div>
<div class="t c1" style="left:1839.0px;top:133px;letter-spacing:0.083px">Zhi-Fan Wu, Xibin Zhao, Hai Wan,</div>
<div class="t c1" style="left:1839.0px;top:173px;letter-spacing:0.149px">Mingqian Tang, Rong Jin, Yue Gao</div>
<div class="t c2" style="left:108.5px;top:384px;letter-spacing:-0.334px">Background:</div>
<div class="t c2" style="left:108.5px;top:436px;letter-spacing:0.101px">Continuous Categories Discovery (CCD)</div>
<div class="t c3" style="left:108.6px;top:537px;letter-spacing:-0.053px">We focus on the proposed continuous categories discovery problem, or</div>
<div class="t c3" style="left:108.6px;top:578px;letter-spacing:-0.052px">CCD in short. In real world applications, data emerges in the form of stream,</div>
<div class="t c3" style="left:108.6px;top:618px;letter-spacing:-0.015px">which contains data from both known and unknown classes. A practical</div>
<div class="t c3" style="left:108.6px;top:658px;letter-spacing:-0.052px">model is required to discover novel categories from the mixed data stream,</div>
<div class="t c3" style="left:108.6px;top:699px;letter-spacing:-0.024px">and maintain the performance on already known classes simultaneously.</div>
<div class="t c4" style="left:272.0px;top:1041px;letter-spacing:-0.015px">An illustration&nbsp; of the proposed&nbsp; Continuous&nbsp; Categories&nbsp; Discovery&nbsp; (CCD) problem</div>
<div class="t c2" style="left:110.0px;top:1121px;letter-spacing:0.070px">Challenge: Feature Preference</div>
<div class="t c3" style="left:109.8px;top:1643px;letter-spacing:-0.025px">An intuitive approach to address the dynamic nature of CCD is to combine</div>
<div class="t c3" style="left:109.8px;top:1683px;letter-spacing:-0.052px">the existing methods for novel category discovery and incremental learning.</div>
<div class="t c3" style="left:109.8px;top:1724px;letter-spacing:-0.022px">This is however insufficient because our learning system has to accomplish</div>
<div class="t c3" style="left:109.8px;top:1764px;letter-spacing:0.019px">two tasks at the same time, classification and discovery. It turns out that</div>
<div class="t c3" style="left:109.8px;top:1805px;letter-spacing:-0.052px">these two task models usually produce different types of features:</div>
<div class="t c3" style="left:109.8px;top:2046px;letter-spacing:-0.028px">A simple combination of novel category discovery and incremental learning</div>
<div class="t c3" style="left:109.8px;top:2087px;letter-spacing:-0.011px">methods will fail to address the trade-off consistently over time, which is</div>
<div class="t c3" style="left:109.8px;top:2127px;letter-spacing:-0.035px">further verified by our empirical studies.</div>
<div class="t c3" style="left:145.8px;top:1885px;letter-spacing:-0.075px">Discriminative features on known classes are preferred by classification</div>
<div class="t c3" style="left:145.8px;top:1925px;letter-spacing:-0.133px">model</div>
<div class="t c3" style="left:145.8px;top:1966px;letter-spacing:-0.050px">Rich and diverse features are critical for identifying new classes</div>
<div class="t c3" style="left:110.5px;top:1885px">•</div>
<div class="t c3" style="left:110.5px;top:1966px">•</div>
<div class="t c2" style="left:1208.0px;top:383px;letter-spacing:0.006px">Related Research</div>
<div class="t c3" style="left:1208.0px;top:471px;letter-spacing:-0.035px">CCD problem is related to the novel category discovery and incremental</div>
<div class="t c3" style="left:1208.0px;top:511px;letter-spacing:-0.042px">learning. However, there still exists differences:</div>
<div class="t c3" style="left:1244.2px;top:552px;letter-spacing:-0.059px">Novel category discovery methods [1,2]: only support static scenario,</div>
<div class="t c3" style="left:1244.2px;top:592px;letter-spacing:-0.054px">where the known and novel categories could be accessed at the same</div>
<div class="t c3" style="left:1244.2px;top:633px;letter-spacing:-0.071px">time, while in CCD, novel categories are continuously discovered.</div>
<div class="t c3" style="left:1244.2px;top:673px;letter-spacing:-0.058px">Incremental learning methods [3,4]: could only be trained in supervised</div>
<div class="t c3" style="left:1244.2px;top:713px;letter-spacing:-0.047px">manner, and could not deal with the unlabeled data stream.</div>
<div class="t c3" style="left:1208.7px;top:552px">•</div>
<div class="t c3" style="left:1208.7px;top:673px">•</div>
<div class="t c2" style="left:1204.5px;top:775px;letter-spacing:0.046px">Grow and Merge Framework</div>
<div class="t c3" style="left:1237.0px;top:1245px;letter-spacing:-0.076px">Growing: enriches features with unlabeled data</div>
<div class="t c3" style="left:1200.7px;top:1245px">•</div>
<div class="t c3" style="left:1237.0px;top:1286px;letter-spacing:-0.068px">Merging: unifies the categories and branches</div>
<div class="t c3" style="left:1200.7px;top:1286px">•</div>
<div class="t c3" style="left:1201.2px;top:1367px;letter-spacing:-0.097px">During the growing phase, the novel data is detected by the novelty</div>
<div class="t c3" style="left:1201.2px;top:1407px;letter-spacing:-0.054px">detection process, and the corresponding features are extracted by the</div>
<div class="t c3" style="left:1201.2px;top:1448px;letter-spacing:-0.044px">dynamic branch. The cluster head is used to assign pseudo labels for the</div>
<div class="t c3" style="left:1201.2px;top:1488px;letter-spacing:-0.336px">novel data.</div>
<div class="t c3" style="left:1201.2px;top:1569px;letter-spacing:-0.069px">During the merging phase, the exemplar set is updated with the sifted novel</div>
<div class="t c3" style="left:1201.2px;top:1609px;letter-spacing:-0.048px">data as well as the pseudo labels, and the static branch is unified with the</div>
<div class="t c3" style="left:1201.2px;top:1649px;letter-spacing:-0.136px">dynamic branch.</div>
<div class="t c2" style="left:1204.5px;top:1713px;letter-spacing:0.079px">Metrics and Scenarios for Evaluation</div>
<div class="t c3" style="left:1206.8px;top:1786px;letter-spacing:-0.045px">Two metrics are proposed:</div>
<div class="t c5" style="left:1242.4px;top:1827px;letter-spacing:0.401px"><span class='sg'>Maximum forgetting metric </span><span class='mm'>ℳ</span><sub class='ms'>f</sub><span style='font-size:28px'>, the lower the better</span></div>
<div class="t c5" style="left:1242.4px;top:1868px;letter-spacing:-0.008px"><span class='sg'>Final discovery metric </span><span class='mm'>ℳ</span><sub class='ms'>d</sub><span style='font-size:28px'>, the higher the better</span></div>
<div class="t c3" style="left:1206.8px;top:1909px;letter-spacing:-0.056px">Four scenarios are designed:</div>
<div class="t c3" style="left:1242.6px;top:1952px;letter-spacing:-0.075px">Class Incremental Scenario (CI)</div>
<div class="t c5" style="left:1242.6px;top:1989px;letter-spacing:0.053px">Data Incremental Scenario (DI)</div>
<div class="t c5" style="left:1242.6px;top:2029px;letter-spacing:0.262px">Mixed Incremental Scenario (MI)</div>
<div class="t c5" style="left:1242.6px;top:2070px;letter-spacing:0.158px">Semi-supervised Mixed Incremental Scenario (SMI)</div>
<div class="t c3" style="left:1207.0px;top:1829px">•</div>
<div class="t c3" style="left:1207.0px;top:1870px">•</div>
<div class="t c3" style="left:1207.0px;top:1952px">•</div>
<div class="t c3" style="left:1207.0px;top:1991px">•</div>
<div class="t c3" style="left:1207.0px;top:2031px">•</div>
<div class="t c3" style="left:1207.0px;top:2072px">•</div>
<div class="t c2" style="left:2411.0px;top:383px;letter-spacing:0.086px">Experimental Results</div>
<div class="t c1" style="left:2412.5px;top:461px;letter-spacing:-0.045px">We only show a portion of the main results here</div>
<div class="t c3" style="left:2398.3px;top:1561px;letter-spacing:-0.061px">The experimental results show that the proposed Grow and Merge</div>
<div class="t c3" style="left:2398.3px;top:1601px;letter-spacing:-0.031px">framework divides and conquers the conflict of features and achieves the</div>
<div class="t c3" style="left:2398.3px;top:1642px;letter-spacing:-0.036px">best results among the compared methods on all datasets, indicating the</div>
<div class="t c3" style="left:2398.3px;top:1682px;letter-spacing:-0.024px">effectiveness of the two phases of growing and merging. It can also be</div>
<div class="t c3" style="left:2398.3px;top:1724px;letter-spacing:-0.060px">found that GM without knowing the ground-truth number of novelty classes</div>
<div class="t c3" style="left:2398.3px;top:1763px;letter-spacing:-0.072px">can still outperform other methods using the ground-truth number of novelty</div>
<div class="t c3" style="left:2398.3px;top:1803px;letter-spacing:-0.345px">classes.</div>
<div class="t c6" style="left:2410.0px;top:1860px;letter-spacing:-0.029px">References</div>
<div class="t c7" style="left:2410.7px;top:1913px;letter-spacing:0.006px">[1] Kai Han, Sylvestre-Alvise Rebuffi, Sebastien Ehrhardt, Andrea Vedaldi, and Andrew</div>
<div class="t c7" style="left:2410.7px;top:1940px">Zisserman. Autonovel: Automatically discovering and learning novel visual categories. <span style='color:#6f8499'>IEEE</span></div>
<div class="t c7" style="left:2410.7px;top:1967px;letter-spacing:0.009px"><span style='color:#6f8499'>Transactions on Pattern Analysis and Machine Intelligence, 2021.</span></div>
<div class="t c7" style="left:2410.7px;top:2002px;letter-spacing:-0.054px">[2] Bingchen Zhao and Kai Han. Novel visual category discovery with dual ranking statistics and</div>
<div class="t c7" style="left:2410.7px;top:2029px">mutual knowledge distillation. <span style='color:#6f8499'>In Advances in Neural Information Processing Systems, pages</span></div>
<div class="t c7" style="left:2410.7px;top:2055px;letter-spacing:-0.027px"><span style='color:#6f8499'>22982–22994, 2021.</span></div>
<div class="t c7" style="left:2410.7px;top:2090px;letter-spacing:-0.027px">[3] Zhizhong Li and Derek Hoiem. Learning without forgetting. <span style='color:#6f8499'>In European Conference on</span></div>
<div class="t c7" style="left:2410.7px;top:2117px;letter-spacing:-0.008px"><span style='color:#6f8499'>Computer Vision, pages 614–629, 2016.</span></div>
<div class="t c7" style="left:2410.7px;top:2152px">[4] Sylvestre-Alvise Rebuffi, Alexander Kolesnikov, Georg Sperl, and Christoph H. Lampert.</div>
<div class="t c7" style="left:2410.7px;top:2179px;letter-spacing:-0.015px">iCaRL: Incremental classifier and representation learning. <span style='color:#6f8499'>In IEEE Conference on Computer</span></div>
<div class="t c7" style="left:2410.7px;top:2205px;letter-spacing:-0.018px"><span style='color:#6f8499'>Vision and Pattern Recognition, pages 5533–5542, 2017.</span></div>
<div class="t c8" style="left:2594.1px;top:534px;letter-spacing:0.026px">Table 2: Experimental results under CI scenario (mean±std.).</div>
<div class="t c9" style="left:2774.3px;top:568px">CIFAR-100</div>
<div class="t c9" style="left:3002.1px;top:568px">CUB-200</div>
<div class="t c9" style="left:3197.6px;top:568px">ImageNet-100</div>
<div class="t c10" style="left:2414.3px;top:587px">Method</div>
<div class="t c10" style="left:2758.4px;top:587px"><span class='cm'>ℳ</span><sub class='cs'>f</sub><span class='ar'>&thinsp;↓</span></div>
<div class="t c10" style="left:2864.7px;top:587px"><span class='cm'>ℳ</span><sub class='cs'>d</sub><span class='ar'>&thinsp;↑</span></div>
<div class="t c10" style="left:2979.9px;top:587px"><span class='cm'>ℳ</span><sub class='cs'>f</sub><span class='ar'>&thinsp;↓</span></div>
<div class="t c10" style="left:3086.2px;top:587px"><span class='cm'>ℳ</span><sub class='cs'>d</sub><span class='ar'>&thinsp;↑</span></div>
<div class="t c10" style="left:3197.2px;top:587px"><span class='cm'>ℳ</span><sub class='cs'>f</sub><span class='ar'>&thinsp;↓</span></div>
<div class="t c10" style="left:3303.4px;top:587px"><span class='cm'>ℳ</span><sub class='cs'>d</sub><span class='ar'>&thinsp;↑</span></div>
<div class="t c11" style="left:2414.3px;top:617px">lower-bound of <span class='cm' style='font-style:normal;font-size:1.04em'>ℳ</span><sub class='cs'>f</sub> (offline K-Means)</div>
<div class="t c10" style="left:2730.1px;top:617px;letter-spacing:0.420px">5.37±0.70</div>
<div class="t c10" style="left:2829.8px;top:617px;letter-spacing:0.420px">16.95±1.04</div>
<div class="t c10" style="left:2951.6px;top:617px;letter-spacing:0.420px">2.94±1.03</div>
<div class="t c10" style="left:3051.3px;top:617px;letter-spacing:0.420px">14.29±0.47</div>
<div class="t c10" style="left:3168.9px;top:617px;letter-spacing:0.420px">3.03±5.47</div>
<div class="t c10" style="left:3268.5px;top:617px;letter-spacing:0.420px">18.20±0.58</div>
<div class="t c11" style="left:2414.3px;top:637px">upper-bound of <span class='cm' style='font-style:normal;font-size:1.04em'>ℳ</span><sub class='cs'>d</sub> (offline AutoNovel)</div>
<div class="t c10" style="left:2730.1px;top:637px;letter-spacing:0.420px">5.12±0.84</div>
<div class="t c10" style="left:2829.8px;top:637px;letter-spacing:0.420px">42.27±4.97</div>
<div class="t c10" style="left:2951.6px;top:637px;letter-spacing:0.420px">7.57±0.77</div>
<div class="t c10" style="left:3051.3px;top:637px;letter-spacing:0.420px">16.13±0.37</div>
<div class="t c10" style="left:3168.9px;top:637px;letter-spacing:0.420px">6.81±0.98</div>
<div class="t c10" style="left:3268.5px;top:637px;letter-spacing:0.420px">34.18±1.77</div>
<div class="t c10" style="left:2414.3px;top:667px">AutoNovel (online)</div>
<div class="t c10" style="left:2720.9px;top:667px;letter-spacing:0.420px">66.76±1.56</div>
<div class="t c10" style="left:2829.8px;top:667px;letter-spacing:0.420px">29.65±4.60</div>
<div class="t c10" style="left:2942.4px;top:667px;letter-spacing:0.420px">60.66±0.20</div>
<div class="t c10" style="left:3051.3px;top:667px;letter-spacing:0.420px">18.08±0.84</div>
<div class="t c10" style="left:3159.7px;top:667px;letter-spacing:0.420px">63.00±0.42</div>
<div class="t c10" style="left:3277.7px;top:667px;letter-spacing:0.420px">5.83±1.81</div>
<div class="t c10" style="left:2414.3px;top:686px">DRNCD (online)</div>
<div class="t c10" style="left:2720.9px;top:686px;letter-spacing:0.420px">64.99±1.89</div>
<div class="t c10" style="left:2839.0px;top:686px;letter-spacing:0.420px">8.53±2.35</div>
<div class="t c10" style="left:2942.4px;top:686px;letter-spacing:0.420px">42.74±0.28</div>
<div class="t c10" style="left:3060.5px;top:686px;letter-spacing:0.420px">6.30±0.93</div>
<div class="t c10" style="left:3159.7px;top:686px;letter-spacing:0.420px">47.02±2.18</div>
<div class="t c10" style="left:3277.7px;top:686px;letter-spacing:0.420px">5.00±1.37</div>
<div class="t c10" style="left:2414.3px;top:706px">AutoNovel (online) + LwF</div>
<div class="t c10" style="left:2720.9px;top:706px;letter-spacing:0.420px">23.94±1.54</div>
<div class="t c10" style="left:2829.8px;top:706px;letter-spacing:0.420px">27.84±0.57</div>
<div class="t c10" style="left:2942.4px;top:706px;letter-spacing:0.420px">59.82±0.58</div>
<div class="t c10" style="left:3051.3px;top:706px;letter-spacing:0.420px">23.23±4.81</div>
<div class="t c10" style="left:3159.7px;top:706px;letter-spacing:0.420px">61.31±0.37</div>
<div class="t c10" style="left:3277.7px;top:706px;letter-spacing:0.420px">7.59±0.55</div>
<div class="t c10" style="left:2414.3px;top:725px">DRNCD (online) + LwF</div>
<div class="t c10" style="left:2720.9px;top:725px;letter-spacing:0.420px">26.87±0.15</div>
<div class="t c10" style="left:2839.0px;top:725px;letter-spacing:0.420px">3.57±0.61</div>
<div class="t c10" style="left:2942.4px;top:725px;letter-spacing:0.420px">45.25±0.37</div>
<div class="t c10" style="left:3060.5px;top:725px;letter-spacing:0.420px">5.78±0.51</div>
<div class="t c10" style="left:3159.7px;top:725px;letter-spacing:0.420px">30.88±1.57</div>
<div class="t c10" style="left:3277.7px;top:725px;letter-spacing:0.420px">6.78±1.16</div>
<div class="t c10" style="left:2414.3px;top:745px">iCaRL (fixed exemplars) + LwF</div>
<div class="t c10" style="left:2720.9px;top:745px;letter-spacing:0.420px">34.79±0.29</div>
<div class="t c10" style="left:2908.0px;top:745px;letter-spacing:0.420px">-</div>
<div class="t c10" style="left:2942.4px;top:745px;letter-spacing:0.420px">42.02±0.31</div>
<div class="t c10" style="left:3129.5px;top:745px;letter-spacing:0.420px">-</div>
<div class="t c10" style="left:3159.7px;top:745px;letter-spacing:0.420px">10.04±0.28</div>
<div class="t c10" style="left:3346.7px;top:745px;letter-spacing:0.420px">-</div>
<div class="t c9" style="left:2414.3px;top:765px">GM (Ours)</div>
<div class="t c9" style="left:2731.6px;top:765px;letter-spacing:0.252px">9.87±0.25</div>
<div class="t c9" style="left:2831.5px;top:765px;letter-spacing:0.252px">35.97±1.28</div>
<div class="t c9" style="left:2944.1px;top:765px;letter-spacing:0.252px">19.46±1.63</div>
<div class="t c9" style="left:3053.0px;top:765px;letter-spacing:0.252px">24.97±1.81</div>
<div class="t c9" style="left:3170.4px;top:765px;letter-spacing:0.252px">8.30±0.42</div>
<div class="t c9" style="left:3270.2px;top:765px;letter-spacing:0.252px">27.24±0.83</div>
<div class="t c9" style="left:2763.4px;top:802px">Stanford-Cars</div>
<div class="t c9" style="left:2978.2px;top:802px">FGVC-Aircraft</div>
<div class="t c9" style="left:3197.6px;top:802px">ImageNet-200</div>
<div class="t c10" style="left:2414.3px;top:821px">Method</div>
<div class="t c10" style="left:2758.4px;top:821px"><span class='cm'>ℳ</span><sub class='cs'>f</sub><span class='ar'>&thinsp;↓</span></div>
<div class="t c10" style="left:2864.7px;top:821px"><span class='cm'>ℳ</span><sub class='cs'>d</sub><span class='ar'>&thinsp;↑</span></div>
<div class="t c10" style="left:2979.9px;top:821px"><span class='cm'>ℳ</span><sub class='cs'>f</sub><span class='ar'>&thinsp;↓</span></div>
<div class="t c10" style="left:3086.2px;top:821px"><span class='cm'>ℳ</span><sub class='cs'>d</sub><span class='ar'>&thinsp;↑</span></div>
<div class="t c10" style="left:3197.2px;top:821px"><span class='cm'>ℳ</span><sub class='cs'>f</sub><span class='ar'>&thinsp;↓</span></div>
<div class="t c10" style="left:3303.4px;top:821px"><span class='cm'>ℳ</span><sub class='cs'>d</sub><span class='ar'>&thinsp;↑</span></div>
<div class="t c11" style="left:2414.3px;top:851px">lower-bound of <span class='cm' style='font-style:normal;font-size:1.04em'>ℳ</span><sub class='cs'>f</sub> (offline K-Means)</div>
<div class="t c10" style="left:2730.1px;top:851px;letter-spacing:0.420px">2.41±0.59</div>
<div class="t c10" style="left:2829.8px;top:851px;letter-spacing:0.420px">10.23±0.32</div>
<div class="t c10" style="left:2951.6px;top:851px;letter-spacing:0.420px">3.86±0.71</div>
<div class="t c10" style="left:3051.3px;top:851px;letter-spacing:0.420px">15.10±1.25</div>
<div class="t c10" style="left:3168.9px;top:851px;letter-spacing:0.420px">3.16±0.76</div>
<div class="t c10" style="left:3268.5px;top:851px;letter-spacing:0.420px">15.28±0.67</div>
<div class="t c11" style="left:2414.3px;top:871px">upper-bound of <span class='cm' style='font-style:normal;font-size:1.04em'>ℳ</span><sub class='cs'>d</sub> (offline AutoNovel)</div>
<div class="t c10" style="left:2721.5px;top:871px;letter-spacing:0.420px">11.24±0.59</div>
<div class="t c10" style="left:2829.8px;top:871px;letter-spacing:0.420px">20.69±3.28</div>
<div class="t c10" style="left:2951.6px;top:871px;letter-spacing:0.420px">6.95±2.40</div>
<div class="t c10" style="left:3051.3px;top:871px;letter-spacing:0.420px">27.67±0.86</div>
<div class="t c10" style="left:3168.9px;top:871px;letter-spacing:0.420px">5.98±0.67</div>
<div class="t c10" style="left:3268.5px;top:871px;letter-spacing:0.420px">24.62±0.47</div>
<div class="t c10" style="left:2414.3px;top:900px">AutoNovel (online)</div>
<div class="t c10" style="left:2720.9px;top:900px;letter-spacing:0.420px">72.07±0.17</div>
<div class="t c10" style="left:2829.8px;top:900px;letter-spacing:0.420px">16.71±1.40</div>
<div class="t c10" style="left:2942.4px;top:900px;letter-spacing:0.420px">53.23±0.60</div>
<div class="t c10" style="left:3051.3px;top:900px;letter-spacing:0.420px">26.93±1.48</div>
<div class="t c10" style="left:3159.7px;top:900px;letter-spacing:0.420px">60.79±0.61</div>
<div class="t c10" style="left:3268.5px;top:900px;letter-spacing:0.420px">10.21±2.52</div>
<div class="t c10" style="left:2414.3px;top:920px">DRNCD (online)</div>
<div class="t c10" style="left:2720.9px;top:920px;letter-spacing:0.420px">50.70±3.29</div>
<div class="t c10" style="left:2839.0px;top:920px;letter-spacing:0.420px">2.39±0.84</div>
<div class="t c10" style="left:2937.5px;top:920px;letter-spacing:0.420px">38.89 ±4.15</div>
<div class="t c10" style="left:3060.5px;top:920px;letter-spacing:0.420px">5.35±0.07</div>
<div class="t c10" style="left:3159.7px;top:920px;letter-spacing:0.420px">43.91±1.37</div>
<div class="t c10" style="left:3277.7px;top:920px;letter-spacing:0.420px">4.39±1.20</div>
<div class="t c10" style="left:2414.3px;top:940px">AutoNovel (online) + LwF</div>
<div class="t c10" style="left:2720.9px;top:940px;letter-spacing:0.420px">71.52±0.33</div>
<div class="t c10" style="left:2829.8px;top:940px;letter-spacing:0.420px">20.31±0.69</div>
<div class="t c10" style="left:2942.4px;top:940px;letter-spacing:0.420px">44.63±1.37</div>
<div class="t c10" style="left:3060.5px;top:940px;letter-spacing:0.420px">8.68±5.67</div>
<div class="t c10" style="left:3159.7px;top:940px;letter-spacing:0.420px">61.03±0.37</div>
<div class="t c10" style="left:3277.7px;top:940px;letter-spacing:0.420px">9.77±1.00</div>
<div class="t c10" style="left:2414.3px;top:959px">DRNCD (online) + LwF</div>
<div class="t c10" style="left:2720.9px;top:959px;letter-spacing:0.420px">27.40±0.50</div>
<div class="t c10" style="left:2839.0px;top:959px;letter-spacing:0.420px">3.88±0.63</div>
<div class="t c10" style="left:2942.4px;top:959px;letter-spacing:0.420px">38.89±4.15</div>
<div class="t c10" style="left:3060.5px;top:959px;letter-spacing:0.420px">5.61±3.00</div>
<div class="t c10" style="left:3159.7px;top:959px;letter-spacing:0.420px">27.40±0.84</div>
<div class="t c10" style="left:3277.7px;top:959px;letter-spacing:0.420px">6.71±1.55</div>
<div class="t c10" style="left:2414.3px;top:979px">iCaRL (fixed exemplars) + LwF</div>
<div class="t c10" style="left:2720.9px;top:979px;letter-spacing:0.420px">24.31±0.64</div>
<div class="t c10" style="left:2908.0px;top:979px;letter-spacing:0.420px">-</div>
<div class="t c10" style="left:2942.4px;top:979px;letter-spacing:0.420px">22.60±1.19</div>
<div class="t c10" style="left:3129.5px;top:979px;letter-spacing:0.420px">-</div>
<div class="t c10" style="left:3159.7px;top:979px;letter-spacing:0.420px">10.55±0.52</div>
<div class="t c10" style="left:3346.7px;top:979px;letter-spacing:0.420px">-</div>
<div class="t c9" style="left:2414.3px;top:999px">GM (Ours)</div>
<div class="t c9" style="left:2722.6px;top:999px;letter-spacing:0.252px">17.66±0.70</div>
<div class="t c9" style="left:2831.5px;top:999px;letter-spacing:0.252px">25.77±0.54</div>
<div class="t c9" style="left:2953.1px;top:999px;letter-spacing:0.252px">8.21±0.27</div>
<div class="t c9" style="left:3053.0px;top:999px;letter-spacing:0.252px">29.65±1.63</div>
<div class="t c9" style="left:3170.4px;top:999px;letter-spacing:0.252px">7.50±1.60</div>
<div class="t c9" style="left:3270.2px;top:999px;letter-spacing:0.252px">19.33±0.46</div>
<div class="t c12" style="left:2474.2px;top:1097px;word-spacing:5.952px">Table 3:&nbsp; Experimental re-</div>
<div class="t c12" style="left:2474.2px;top:1118px;word-spacing:14.555px">sults under DI scenario.</div>
<div class="t c12" style="left:2474.2px;top:1139px;letter-spacing:0.040px">(mean±std.)</div>
<div class="t c13" style="left:2474.2px;top:1166px">Method</div>
<div class="t c13" style="left:2661.6px;top:1166px"><span class='cm'>ℳ</span><sub class='cs'>f</sub><span class='ar'>&thinsp;↓</span></div>
<div class="t c13" style="left:2474.2px;top:1193px">Original Model</div>
<div class="t c13" style="left:2695.1px;top:1193px;letter-spacing:0.400px">0</div>
<div class="t c13" style="left:2474.2px;top:1210px">Pseudo iCaRL</div>
<div class="t c13" style="left:2636.4px;top:1210px;letter-spacing:0.400px">9.51±0.35</div>
<div class="t c13" style="left:2474.2px;top:1228px">DeepClustering [22]</div>
<div class="t c13" style="left:2636.4px;top:1228px;letter-spacing:0.400px">1.61±0.44</div>
<div class="t c13" style="left:2474.2px;top:1245px">AutoNovel<sup style='font-size:70%;line-height:0'>*</sup> [23, 24]</div>
<div class="t c13" style="left:2636.4px;top:1245px;letter-spacing:0.400px">0.30±0.07</div>
<div class="t c13" style="left:2474.2px;top:1263px">GM</div>
<div class="t c14" style="left:2624.7px;top:1263px;letter-spacing:0.200px">-23.68±0.27</div>
<div class="t c12" style="left:2787.9px;top:1092px;word-spacing:4.855px">Table 4:&nbsp; Experimental results under MI and SMI scenario.</div>
<div class="t c12" style="left:2787.9px;top:1113px;letter-spacing:-0.014px">(mean±std.)</div>
<div class="t c15" style="left:3034.3px;top:1139px">MI</div>
<div class="t c15" style="left:3201.8px;top:1139px">SMI</div>
<div class="t c16" style="left:2787.9px;top:1157px">Method</div>
<div class="t c16" style="left:2965.0px;top:1157px"><span class='cm'>ℳ</span><sub class='cs'>f</sub><span class='ar'>&thinsp;↓</span></div>
<div class="t c16" style="left:3053.3px;top:1157px"><span class='cm'>ℳ</span><sub class='cs'>d</sub><span class='ar'>&thinsp;↑</span></div>
<div class="t c16" style="left:3141.7px;top:1157px"><span class='cm'>ℳ</span><sub class='cs'>f</sub><span class='ar'>&thinsp;↓</span></div>
<div class="t c16" style="left:3230.0px;top:1157px"><span class='cm'>ℳ</span><sub class='cs'>d</sub><span class='ar'>&thinsp;↑</span></div>
<div class="t c16" style="left:2787.9px;top:1180px">AutoNovel [6]</div>
<div class="t c16" style="left:2965.1px;top:1180px;letter-spacing:0.300px">63.25±0.19</div>
<div class="t c16" style="left:3061.2px;top:1180px;letter-spacing:0.300px">5.74±0.17</div>
<div class="t c16" style="left:3141.4px;top:1180px;letter-spacing:0.300px">60.98±1.27</div>
<div class="t c16" style="left:3230.1px;top:1180px;letter-spacing:0.300px">21.61±3.94</div>
<div class="t c16" style="left:2787.9px;top:1197px">DRNCD [16]</div>
<div class="t c16" style="left:2965.1px;top:1197px;letter-spacing:0.300px">43.81±1.71</div>
<div class="t c16" style="left:3061.2px;top:1197px;letter-spacing:0.300px">5.12±0.98</div>
<div class="t c16" style="left:3141.4px;top:1197px;letter-spacing:0.300px">56.27±1.13</div>
<div class="t c16" style="left:3230.1px;top:1197px;letter-spacing:0.300px">47.67±1.66</div>
<div class="t c16" style="left:2787.9px;top:1213px">AutoNovel + LwF [6, 14]</div>
<div class="t c16" style="left:2965.1px;top:1213px;letter-spacing:0.300px">61.89±0.87</div>
<div class="t c16" style="left:3061.2px;top:1213px;letter-spacing:0.300px">5.59±1.99</div>
<div class="t c16" style="left:3141.4px;top:1213px;letter-spacing:0.300px">61.45±2.43</div>
<div class="t c16" style="left:3230.1px;top:1213px;letter-spacing:0.300px">31.84±1.06</div>
<div class="t c16" style="left:2787.9px;top:1229px">DRNCD + LwF [16, 14]</div>
<div class="t c16" style="left:2965.1px;top:1229px;letter-spacing:0.300px">35.44±4.61</div>
<div class="t c16" style="left:3061.2px;top:1229px;letter-spacing:0.300px">4.10±0.99</div>
<div class="t c16" style="left:3141.4px;top:1229px;letter-spacing:0.300px">62.38±1.01</div>
<div class="t c16" style="left:3232.1px;top:1229px;letter-spacing:0.100px"><b>52.53±1.92</b></div>
<div class="t c16" style="left:2787.9px;top:1245px">GM w/o. novelty detection</div>
<div class="t c16" style="left:2974.6px;top:1245px;letter-spacing:0.100px"><b>4.74±0.78</b></div>
<div class="t c16" style="left:3053.5px;top:1245px;letter-spacing:0.300px">10.61±3.37</div>
<div class="t c16" style="left:3150.9px;top:1245px;letter-spacing:0.100px"><b>8.43±0.45</b></div>
<div class="t c16" style="left:3230.1px;top:1245px;letter-spacing:0.300px">31.42±0.76</div>
<div class="t c16" style="left:2787.9px;top:1261px">GM</div>
<div class="t c16" style="left:2972.8px;top:1261px;letter-spacing:0.300px">9.65±0.32</div>
<div class="t c16" style="left:3055.5px;top:1261px;letter-spacing:0.100px"><b>30.58±1.13</b></div>
<div class="t c16" style="left:3149.1px;top:1261px;letter-spacing:0.300px">9.41±0.31</div>
<div class="t c16" style="left:3230.1px;top:1261px;letter-spacing:0.300px">35.52±1.21</div>
<div class="t c12" style="left:2480.4px;top:1340px;word-spacing:2.198px">Table 5: Estimation of the number of novel class in each time step, as well as the corresponding</div>
<div class="t c12" style="left:2480.4px;top:1362px;letter-spacing:0.080px">performances using the estimated number.</div>
<div class="t c17" style="left:2649.6px;top:1406px">#Classes (<i>t</i><span style='letter-spacing:.1em'> = </span>2)</div>
<div class="t c17" style="left:2797.9px;top:1406px">#Classes (<i>t</i><span style='letter-spacing:.1em'> = </span>3)</div>
<div class="t c17" style="left:2946.7px;top:1406px">#Classes (<i>t</i><span style='letter-spacing:.1em'> = </span>4)</div>
<div class="t c17" style="left:3095.0px;top:1406px"><span class='cm'>ℳ</span><sub class='cs'>f</sub></div>
<div class="t c17" style="left:3199.2px;top:1406px"><span class='cm'>ℳ</span><sub class='cs'>d</sub></div>
<div class="t c17" style="left:2480.4px;top:1436px">CIFAR-100 (CI)</div>
<div class="t c17" style="left:2649.6px;top:1436px">11</div>
<div class="t c17" style="left:2797.9px;top:1436px">13</div>
<div class="t c17" style="left:2946.7px;top:1436px">13</div>
<div class="t c17" style="left:3095.0px;top:1436px;letter-spacing:0.420px">9.91±0.32</div>
<div class="t c17" style="left:3199.2px;top:1436px;letter-spacing:0.420px">34.41±0.96</div>
<div class="t c17" style="left:2480.4px;top:1457px">ImageNet-100 (CI)</div>
<div class="t c17" style="left:2649.6px;top:1457px">12</div>
<div class="t c17" style="left:2797.9px;top:1457px">13</div>
<div class="t c17" style="left:2946.7px;top:1457px">13</div>
<div class="t c17" style="left:3095.0px;top:1457px;letter-spacing:0.420px">9.19±0.51</div>
<div class="t c17" style="left:3199.2px;top:1457px;letter-spacing:0.420px">26.26±1.27</div>
<div class="t c17" style="left:2480.4px;top:1478px">CIFAR-100 (MI)</div>
<div class="t c17" style="left:2649.6px;top:1478px">14</div>
<div class="t c17" style="left:2797.9px;top:1478px">13</div>
<div class="t c17" style="left:2946.7px;top:1478px">13</div>
<div class="t c17" style="left:3095.0px;top:1478px;letter-spacing:0.420px">0.33±0.59</div>
<div class="t c17" style="left:3199.2px;top:1478px;letter-spacing:0.420px">28.06±0.43</div>
<div class="t c17" style="left:2480.4px;top:1499px">CIFAR-100 (SMI)</div>
<div class="t c17" style="left:2649.6px;top:1499px">14</div>
<div class="t c17" style="left:2797.9px;top:1499px">14</div>
<div class="t c17" style="left:2946.7px;top:1499px">14</div>
<div class="t c17" style="left:3095.0px;top:1499px;letter-spacing:0.420px">9.63±0.38</div>
<div class="t c17" style="left:3199.2px;top:1499px;letter-spacing:0.420px">35.31±1.60</div>
<div class="t c18" style="left:1421.5px;top:2137px">Known Categories</div>
<div class="t c18" style="left:1588.4px;top:2137px;letter-spacing:-0.011px">Novel Categories</div>
<div class="t c18" style="left:1746.1px;top:2137px;letter-spacing:0.056px">Labeled data</div>
<div class="t c18" style="left:1869.5px;top:2137px;letter-spacing:0.062px">Unlabeled data</div>
<div class="t c18" style="left:1369.5px;top:2173px">CI</div>
<div class="t c19" style="left:1481.2px;top:2167px">✗</div>
<div class="t c20" style="left:1641.6px;top:2164px">✓</div>
<div class="t c19" style="left:1783.8px;top:2167px">✗</div>
<div class="t c20" style="left:1913.3px;top:2164px">✓</div>
<div class="t c18" style="left:1368.9px;top:2199px">DI</div>
<div class="t c20" style="left:1479.3px;top:2189px">✓</div>
<div class="t c19" style="left:1643.5px;top:2192px">✗</div>
<div class="t c19" style="left:1783.8px;top:2192px">✗</div>
<div class="t c20" style="left:1913.3px;top:2189px">✓</div>
<div class="t c18" style="left:1367.4px;top:2225px">MI</div>
<div class="t c20" style="left:1479.3px;top:2215px">✓</div>
<div class="t c20" style="left:1641.6px;top:2215px">✓</div>
<div class="t c19" style="left:1783.8px;top:2218px">✗</div>
<div class="t c20" style="left:1913.3px;top:2215px">✓</div>
<div class="t c18" style="left:1362.1px;top:2251px">SMI</div>
<div class="t c20" style="left:1479.3px;top:2241px">✓</div>
<div class="t c20" style="left:1641.6px;top:2241px">✓</div>
<div class="t c20" style="left:1781.9px;top:2241px">✓</div>
<div class="t c20" style="left:1913.3px;top:2241px">✓</div>
</div></body></html>
